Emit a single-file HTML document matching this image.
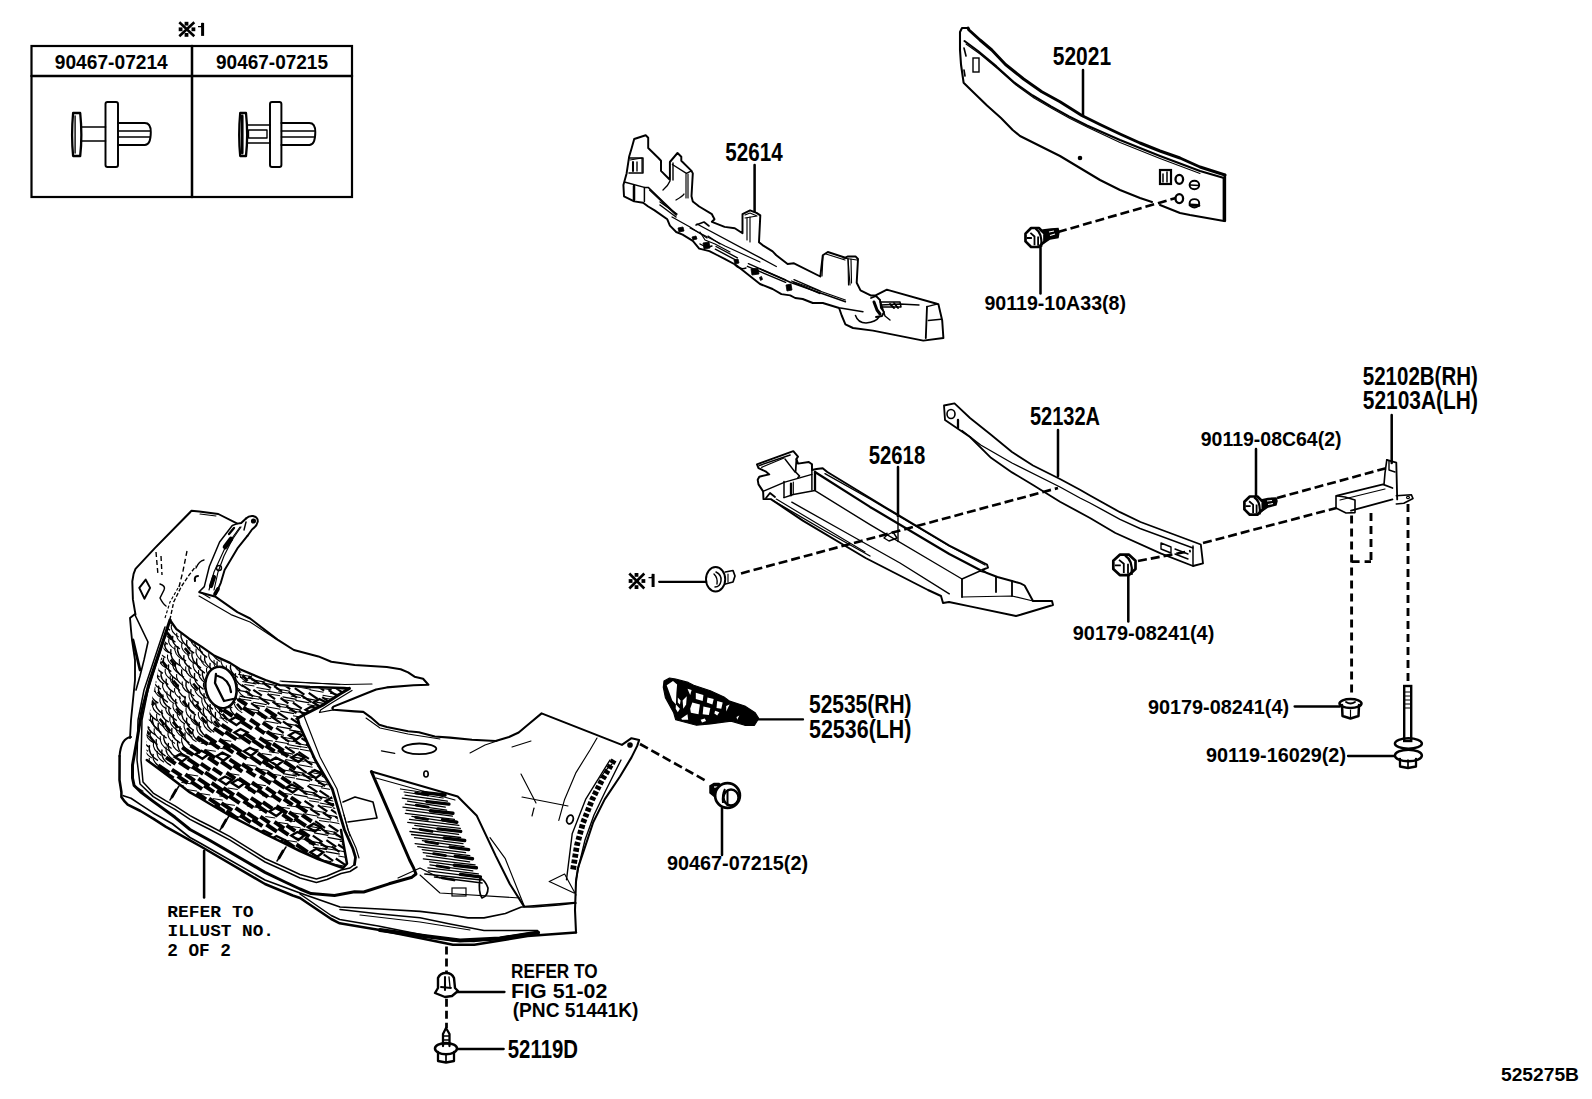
<!DOCTYPE html>
<html><head><meta charset="utf-8"><style>
html,body{margin:0;padding:0;background:#fff;}
svg{display:block;}
</style></head><body>
<svg width="1592" height="1099" viewBox="0 0 1592 1099">
<rect width="1592" height="1099" fill="#fff"/>
<rect x="31.5" y="46" width="320.5" height="151" stroke="#000" stroke-width="2.2" fill="none"/>
<path d="M31.5,76.0 L352.0,76.0" stroke="#000" stroke-width="2.53" fill="none" stroke-linejoin="round" stroke-linecap="round" />
<path d="M192.0,46.0 L192.0,197.0" stroke="#000" stroke-width="2.53" fill="none" stroke-linejoin="round" stroke-linecap="round" />
<g stroke="#000" stroke-width="2.6" stroke-linecap="butt"><line x1="179.3" y1="22.3" x2="194.3" y2="36.3"/><line x1="194.3" y1="22.3" x2="179.3" y2="36.3"/></g>
<rect x="184.6" y="21.8" width="3.8" height="3.8" fill="#000"/>
<rect x="184.6" y="33.0" width="3.8" height="3.8" fill="#000"/>
<rect x="178.7" y="27.4" width="3.8" height="3.8" fill="#000"/>
<rect x="191.5" y="27.4" width="3.8" height="3.8" fill="#000"/>
<path d="M202.6,22.9 L202.6,35.9" stroke="#000" stroke-width="3" fill="none"/>
<path d="M198,26.54 L201.6,26.54 L202.6,22.9" stroke="#000" stroke-width="1.3" fill="none"/>
<text x="54.8" y="69.1" font-family="'Liberation Sans', sans-serif" font-weight="bold" font-size="20.43" textLength="113.00000000000001" lengthAdjust="spacingAndGlyphs">90467-07214</text>
<text x="216" y="69.1" font-family="'Liberation Sans', sans-serif" font-weight="bold" font-size="20.43" textLength="112" lengthAdjust="spacingAndGlyphs">90467-07215</text>
<path d="M73.1,113 Q71.1,135 73.1,156 L80.2,156 Q82.5,135 80.2,113 Z" stroke="#000" stroke-width="2.3" fill="none" stroke-linejoin="round" stroke-linecap="round" />
<path d="M75.1,116.0 L75.1,153.0" stroke="#000" stroke-width="1.38" fill="none" stroke-linejoin="round" stroke-linecap="round" />
<path d="M81.7,127.0 L105.5,127.0" stroke="#000" stroke-width="1.61" fill="none" stroke-linejoin="round" stroke-linecap="round" />
<path d="M81.7,141.0 L105.5,141.0" stroke="#000" stroke-width="1.61" fill="none" stroke-linejoin="round" stroke-linecap="round" />
<path d="M105.5,104 Q105.5,102 107.5,102 L116,102 Q118,102 118,104 L118,165 Q118,167 116,167 L107.5,167 Q105.5,167 105.5,165 Z" stroke="#000" stroke-width="1.95" fill="none" stroke-linejoin="round" stroke-linecap="round" />
<path d="M118,123 L144.8,123 Q150.8,123 150.8,132 Q150.8,145 144.8,145 L118,145" stroke="#000" stroke-width="1.95" fill="none" stroke-linejoin="round" stroke-linecap="round" />
<path d="M118.0,131.0 L149.8,131.0" stroke="#000" stroke-width="1.49" fill="none" stroke-linejoin="round" stroke-linecap="round" />
<path d="M118.0,137.0 L149.8,137.0" stroke="#000" stroke-width="1.49" fill="none" stroke-linejoin="round" stroke-linecap="round" />
<path d="M240.2,113 Q238.2,135 240.2,156 L246.0,156 Q248.3,135 246.0,113 Z" stroke="#000" stroke-width="2.3" fill="none" stroke-linejoin="round" stroke-linecap="round" />
<path d="M242.2,116.0 L242.2,153.0" stroke="#000" stroke-width="2.76" fill="none" stroke-linejoin="round" stroke-linecap="round" />
<path d="M247.5,125.0 L270.0,125.0" stroke="#000" stroke-width="1.61" fill="none" stroke-linejoin="round" stroke-linecap="round" />
<path d="M247.5,143.0 L270.0,143.0" stroke="#000" stroke-width="1.61" fill="none" stroke-linejoin="round" stroke-linecap="round" />
<path d="M248.5,130.0 L267.0,130.0 L267.0,138.0 L248.5,138.0 Z" stroke="#000" stroke-width="1.38" fill="none" stroke-linejoin="round" stroke-linecap="round" />
<path d="M270,104 Q270,102 272,102 L279.4,102 Q281.4,102 281.4,104 L281.4,165 Q281.4,167 279.4,167 L272,167 Q270,167 270,165 Z" stroke="#000" stroke-width="1.95" fill="none" stroke-linejoin="round" stroke-linecap="round" />
<path d="M281.4,123 L309.3,123 Q315.3,123 315.3,132 Q315.3,145 309.3,145 L281.4,145" stroke="#000" stroke-width="1.95" fill="none" stroke-linejoin="round" stroke-linecap="round" />
<path d="M281.4,131.0 L314.3,131.0" stroke="#000" stroke-width="1.49" fill="none" stroke-linejoin="round" stroke-linecap="round" />
<path d="M281.4,137.0 L314.3,137.0" stroke="#000" stroke-width="1.49" fill="none" stroke-linejoin="round" stroke-linecap="round" />
<path d="M968.0,28.0 L969.0,30.0 L980.0,40.0 L991.8,50.0 L1005.5,64.5 L1023.6,79.0 L1041.8,91.8 L1060.0,101.8 L1081.8,115.5 L1100.0,124.5 L1120.0,134.0 L1140.0,143.0 L1160.0,151.0 L1180.0,158.0 L1200.0,167.0 L1225.0,175.0" stroke="#000" stroke-width="2.99" fill="none" stroke-linejoin="round" stroke-linecap="round" />
<path d="M1225.0,175.0 L1225.0,221.0" stroke="#000" stroke-width="2.3" fill="none" stroke-linejoin="round" stroke-linecap="round" />
<path d="M1224.0,221.0 L1190.0,215.0 L1180.0,213.0 L1160.0,205.0" stroke="#000" stroke-width="2.07" fill="none" stroke-linejoin="round" stroke-linecap="round" />
<path d="M1152.0,202.0 L1140.0,198.0 L1120.0,190.0 L1100.0,180.0 L1080.0,168.0 L1060.0,156.0 L1040.0,146.0 L1020.0,136.0 L1012.7,130.0 L1001.0,118.0 L987.0,105.5 L971.0,90.0 L963.6,82.7 L961.0,64.5 L960.0,50.0 L960.0,32.0 L962.0,28.0 L968.0,28.0" stroke="#000" stroke-width="2.07" fill="none" stroke-linejoin="round" stroke-linecap="round" />
<path d="M964.5,41.0 L978.0,51.0 L996.4,66.4 L1014.5,82.7 L1032.7,95.5 L1051.0,106.4 L1069.0,116.4 L1087.0,125.5 L1120.0,140.0 L1160.0,156.0 L1200.0,171.0 L1224.0,178.0" stroke="#000" stroke-width="2.07" fill="none" stroke-linejoin="round" stroke-linecap="round" />
<path d="M966.0,44.0 L980.0,54.0 L998.0,69.0 L1016.0,85.0 L1034.0,98.0 L1052.0,108.5 L1070.0,118.5 L1088.0,127.5 L1120.0,142.5 L1160.0,158.5 L1200.0,173.5" stroke="#000" stroke-width="1.03" fill="none" stroke-linejoin="round" stroke-linecap="round" />
<rect x="1160" y="170" width="11" height="14" stroke="#000" stroke-width="2.2" fill="none"/>
<path d="M1163.0,174.0 L1163.0,182.0" stroke="#000" stroke-width="1.49" fill="none" stroke-linejoin="round" stroke-linecap="round" />
<path d="M1167.0,172.0 L1167.0,182.0" stroke="#000" stroke-width="1.49" fill="none" stroke-linejoin="round" stroke-linecap="round" />
<ellipse cx="1179.3" cy="179.3" rx="3.8" ry="4.5" stroke="#000" stroke-width="2.3" fill="none" transform="rotate(0 1179.3 179.3)"/>
<ellipse cx="1194.4" cy="185" rx="4.8" ry="4.2" stroke="#000" stroke-width="1.95" fill="none" transform="rotate(0 1194.4 185)"/>
<path d="M1190.0,185.0 L1199.0,185.5" stroke="#000" stroke-width="1.49" fill="none" stroke-linejoin="round" stroke-linecap="round" />
<ellipse cx="1179.3" cy="198.6" rx="3.8" ry="4.5" stroke="#000" stroke-width="2.3" fill="none" transform="rotate(0 1179.3 198.6)"/>
<ellipse cx="1194.4" cy="203.3" rx="4.8" ry="4.2" stroke="#000" stroke-width="1.95" fill="none" transform="rotate(0 1194.4 203.3)"/>
<path d="M1190.0,205.0 L1199.0,205.5" stroke="#000" stroke-width="2.76" fill="none" stroke-linejoin="round" stroke-linecap="round" />
<path d="M1224.0,178.0 L1224.0,220.0" stroke="#000" stroke-width="2.76" fill="none" stroke-linejoin="round" stroke-linecap="round" />
<rect x="973" y="58" width="6" height="14" stroke="#000" stroke-width="1.4" fill="none"/>
<ellipse cx="1080" cy="158" rx="1.5" ry="1.5" stroke="#000" stroke-width="1.61" fill="#000" transform="rotate(0 1080 158)"/>
<path d="M964.0,48.0 L966.0,56.0" stroke="#000" stroke-width="1.61" fill="none" stroke-linejoin="round" stroke-linecap="round" />
<path d="M964.0,70.0 L965.0,76.0" stroke="#000" stroke-width="1.61" fill="none" stroke-linejoin="round" stroke-linecap="round" />
<path d="M1083.0,70.0 L1083.0,116.0" stroke="#000" stroke-width="2.53" fill="none" stroke-linejoin="round" stroke-linecap="round" />
<text x="1052.8" y="64.9" font-family="'Liberation Sans', sans-serif" font-weight="bold" font-size="25.71" textLength="58.299999999999955" lengthAdjust="spacingAndGlyphs">52021</text>
<path d="M1043.0,230.0 L1051.0,229.0 L1058.0,228.5 L1059.0,232.0 L1058.0,237.5 L1050.0,239.0 L1044.0,243.0 Z" stroke="#000" stroke-width="1.5" fill="#000"/>
<path d="M1049,232 L1054,231 M1050,235.5 L1055,234" stroke="#fff" stroke-width="1.2"/>
<path d="M1044.5,241.4 L1038.9,247.0 L1031.1,247.0 L1025.5,241.4 L1025.5,233.6 L1031.1,228.0 L1038.9,228.0 L1044.5,233.6 Z" stroke="#000" stroke-width="2.7" fill="#fff" stroke-linejoin="round"/>
<path d="M1035.5,228.7 Q1042.7,233.4 1041.2,246.8" stroke="#000" stroke-width="2.2" fill="none"/>
<path d="M1030.4,232.9 L1034.5,236.5 L1034.5,245.2 M1038.1,236.5 L1038.1,245.7 M1026.8,238.0 L1031.9,238.0" stroke="#000" stroke-width="1.8" fill="none"/>
<path d="M1058.0,232.0 L1176.0,198.0" stroke="#000" stroke-width="2.64" fill="none" stroke-dasharray="9,4" stroke-linecap="butt"/>
<path d="M1040.5,247.0 L1040.5,293.5" stroke="#000" stroke-width="2.53" fill="none" stroke-linejoin="round" stroke-linecap="round" />
<text x="984.4" y="309.6" font-family="'Liberation Sans', sans-serif" font-weight="bold" font-size="20.57" textLength="141.60000000000002" lengthAdjust="spacingAndGlyphs">90119-10A33(8)</text>
<path d="M623.4,184.9 L626.6,173.4 L629.1,156.8 L631.7,148.0 L634.2,139.0 L645.7,135.2 L648.2,137.7 L648.2,148.0 L658.4,158.0 L661.0,160.7 L661.0,170.9 L668.6,178.5 L669.9,179.8 L669.9,162.0 L677.5,153.0 L681.3,156.8 L681.3,160.7 L691.5,170.9 L692.8,173.4 L691.5,196.3 L692.8,201.4 L699.2,206.5 L711.9,214.2 L714.5,219.3 L711.9,221.8 L724.6,226.9 L734.8,228.2 L742.5,233.3 L742.5,214.2 L750.1,210.4 L756.5,212.9 L760.3,215.4 L759.0,242.2 L762.5,245.1 L772.6,251.4 L776.3,255.2 L787.6,264.0 L794.0,263.3 L820.3,276.5 L822.8,255.2 L827.8,252.0 L845.4,257.7 L848.0,256.4 L855.5,256.4 L858.0,259.0 L856.7,282.8 L860.5,290.4 L870.6,295.4 L875.6,295.4 L886.9,289.7 L889.4,290.4 L935.9,303.5 L938.4,304.2 L942.2,320.5 L943.4,338.0 L923.3,340.6 L898.2,335.6 L873.0,330.6 L853.0,328.0 L845.4,324.3 L841.7,315.5 L839.1,308.0 L822.8,303.0 L812.8,303.0 L802.7,299.0 L795.2,298.0 L790.2,295.4 L781.4,294.1 L772.6,289.0 L760.0,284.0 L736.0,265.0 L724.6,258.8 L717.0,255.0 L709.4,251.1 L699.2,248.6 L692.8,240.9 L682.6,234.6 L676.2,232.0 L669.9,225.6 L667.3,219.3 L654.6,210.4 L648.2,206.5 L643.1,202.7 L634.2,201.4 L624.0,196.3 Z" stroke="#000" stroke-width="1.95" fill="none" stroke-linejoin="round" stroke-linecap="round" />
<path d="M625.3,182.3 L644.4,187.4 L648.2,187.4 L676.2,214.2" stroke="#000" stroke-width="1.49" fill="none" stroke-linejoin="round" stroke-linecap="round" />
<path d="M649.5,190.0 L676.2,215.4" stroke="#000" stroke-width="1.15" fill="none" stroke-linejoin="round" stroke-linecap="round" />
<path d="M644.4,187.4 L644.4,201.4" stroke="#000" stroke-width="1.49" fill="none" stroke-linejoin="round" stroke-linecap="round" />
<path d="M634.0,186.0 L634.0,200.0" stroke="#000" stroke-width="2.53" fill="none" stroke-linejoin="round" stroke-linecap="round" />
<path d="M629.0,158.0 L643.0,158.0 L643.0,173.0 L629.0,173.0" stroke="#000" stroke-width="1.49" fill="none" stroke-linejoin="round" stroke-linecap="round" />
<path d="M672.4,164.5 L686.4,173.4 L691.5,170.9" stroke="#000" stroke-width="1.38" fill="none" stroke-linejoin="round" stroke-linecap="round" />
<path d="M673.0,163.0 L673.0,180.0" stroke="#000" stroke-width="1.38" fill="none" stroke-linejoin="round" stroke-linecap="round" />
<path d="M686.0,174.0 L686.0,198.0" stroke="#000" stroke-width="1.15" fill="none" stroke-linejoin="round" stroke-linecap="round" />
<path d="M688.0,174.0 L688.0,198.0" stroke="#000" stroke-width="1.15" fill="none" stroke-linejoin="round" stroke-linecap="round" />
<path d="M663,190 Q668,186 670,181" stroke="#000" stroke-width="1.38" fill="none" stroke-linejoin="round" stroke-linecap="round" />
<path d="M676,200 Q683,196 684,194" stroke="#000" stroke-width="1.38" fill="none" stroke-linejoin="round" stroke-linecap="round" />
<path d="M697.0,224.0 L760.0,257.7 L776.3,266.5" stroke="#000" stroke-width="1.38" fill="none" stroke-linejoin="round" stroke-linecap="round" />
<path d="M690.0,228.0 L725.0,246.0 L760.0,262.0" stroke="#000" stroke-width="1.15" fill="none" stroke-linejoin="round" stroke-linecap="round" />
<path d="M760.0,269.0 L791.4,282.8 L845.4,301.7" stroke="#000" stroke-width="1.49" fill="none" stroke-linejoin="round" stroke-linecap="round" />
<path d="M791.4,281.0 L845.4,300.0" stroke="#000" stroke-width="1.15" fill="none" stroke-linejoin="round" stroke-linecap="round" />
<path d="M840.4,308.0 L863.0,311.7" stroke="#000" stroke-width="1.38" fill="none" stroke-linejoin="round" stroke-linecap="round" />
<path d="M855.5,315.5 Q858,323 866,323 Q876,322 879,317" stroke="#000" stroke-width="1.49" fill="none" stroke-linejoin="round" stroke-linecap="round" />
<path d="M927.0,306.7 L925.8,338.0" stroke="#000" stroke-width="1.84" fill="none" stroke-linejoin="round" stroke-linecap="round" />
<path d="M928.3,320.5 L941.0,319.2" stroke="#000" stroke-width="1.38" fill="none" stroke-linejoin="round" stroke-linecap="round" />
<path d="M927.0,306.7 L937.0,304.2" stroke="#000" stroke-width="1.38" fill="none" stroke-linejoin="round" stroke-linecap="round" />
<path d="M880.0,300.0 L885.0,316.0 L890.0,320.0" stroke="#000" stroke-width="1.38" fill="none" stroke-linejoin="round" stroke-linecap="round" />
<path d="M881.0,305.0 L900.0,304.0 L919.0,305.0" stroke="#000" stroke-width="1.38" fill="none" stroke-linejoin="round" stroke-linecap="round" />
<path d="M745.0,215.0 L750.0,213.0 L757.0,216.0 L745.0,218.0" stroke="#000" stroke-width="1.15" fill="none" stroke-linejoin="round" stroke-linecap="round" />
<path d="M747.0,218.0 L747.0,240.0" stroke="#000" stroke-width="1.15" fill="none" stroke-linejoin="round" stroke-linecap="round" />
<path d="M750.0,217.0 L750.0,242.0" stroke="#000" stroke-width="1.15" fill="none" stroke-linejoin="round" stroke-linecap="round" />
<path d="M823.0,256.0 L822.0,276.0" stroke="#000" stroke-width="1.15" fill="none" stroke-linejoin="round" stroke-linecap="round" />
<path d="M826.0,254.0 L845.0,260.0" stroke="#000" stroke-width="1.15" fill="none" stroke-linejoin="round" stroke-linecap="round" />
<path d="M848.0,259.0 L850.0,285.0" stroke="#000" stroke-width="1.15" fill="none" stroke-linejoin="round" stroke-linecap="round" />
<path d="M700.0,232.0 L705.0,240.0 L715.0,244.0 L730.0,252.0" stroke="#000" stroke-width="1.15" fill="none" stroke-linejoin="round" stroke-linecap="round" />
<path d="M708.0,236.0 L720.0,244.0" stroke="#000" stroke-width="1.15" fill="none" stroke-linejoin="round" stroke-linecap="round" />
<path d="M871.0,298.0 L876.0,296.0 L880.0,300.0 L881.0,308.0 L884.0,312.0 L882.0,316.0 L876.0,317.0" stroke="#000" stroke-width="1.84" fill="none" stroke-linejoin="round" stroke-linecap="round" />
<path d="M874.0,302.0 L877.0,310.0 L880.0,314.0" stroke="#000" stroke-width="2.99" fill="none" stroke-linejoin="round" stroke-linecap="round" />
<path d="M880.0,302.0 L900.0,302.0 L901.0,307.0 L881.0,307.0" stroke="#000" stroke-width="1.49" fill="none" stroke-linejoin="round" stroke-linecap="round" />
<path d="M890.0,304.0 L894.0,308.0" stroke="#000" stroke-width="1.84" fill="none" stroke-linejoin="round" stroke-linecap="round" />
<path d="M894.0,303.0 L898.0,308.0" stroke="#000" stroke-width="1.84" fill="none" stroke-linejoin="round" stroke-linecap="round" />
<path d="M848.0,259.0 L848.5,285.0" stroke="#000" stroke-width="1.15" fill="none" stroke-linejoin="round" stroke-linecap="round" />
<path d="M851.0,259.0 L851.5,283.0" stroke="#000" stroke-width="1.15" fill="none" stroke-linejoin="round" stroke-linecap="round" />
<path d="M843.0,258.0 L857.0,260.0" stroke="#000" stroke-width="1.15" fill="none" stroke-linejoin="round" stroke-linecap="round" />
<path d="M660.0,202.0 L677.0,214.0" stroke="#000" stroke-width="1.38" fill="none" stroke-linejoin="round" stroke-linecap="round" />
<path d="M660.0,205.0 L676.0,217.0" stroke="#000" stroke-width="1.38" fill="none" stroke-linejoin="round" stroke-linecap="round" />
<path d="M672.0,217.0 L690.0,227.0 L707.0,238.0" stroke="#000" stroke-width="1.26" fill="none" stroke-linejoin="round" stroke-linecap="round" />
<path d="M715.3,249.2 L736.4,260.3" stroke="#000" stroke-width="1.38" fill="none" stroke-linejoin="round" stroke-linecap="round" />
<path d="M716.0,246.5 L737.4,257.8" stroke="#000" stroke-width="1.38" fill="none" stroke-linejoin="round" stroke-linecap="round" />
<path d="M747.4,266.3 L785.6,282.4" stroke="#000" stroke-width="1.38" fill="none" stroke-linejoin="round" stroke-linecap="round" />
<path d="M748.4,263.6 L785.6,279.8" stroke="#000" stroke-width="1.38" fill="none" stroke-linejoin="round" stroke-linecap="round" />
<path d="M793.7,282.4 L820.0,293.5" stroke="#000" stroke-width="1.38" fill="none" stroke-linejoin="round" stroke-linecap="round" />
<path d="M794.0,279.6 L820.0,290.8" stroke="#000" stroke-width="1.38" fill="none" stroke-linejoin="round" stroke-linecap="round" />
<path d="M696.0,225.0 L704.0,222.0 L709.0,226.0" stroke="#000" stroke-width="1.61" fill="none" stroke-linejoin="round" stroke-linecap="round" />
<path d="M678,228 L683,227 L684,231 L679,232 Z" fill="#000" stroke="#000" stroke-width="0.8"/>
<path d="M703,243 L709,242 L710,248 L704,249 Z" fill="#000" stroke="#000" stroke-width="0.8"/>
<path d="M734,260 L738,259 L739,263 L735,264 Z" fill="#000" stroke="#000" stroke-width="0.8"/>
<path d="M751,269 L758,268 L759,274 L752,275 Z" fill="#000" stroke="#000" stroke-width="0.8"/>
<path d="M759.5,277.4 L761.5,276.4 L762.5,279.4 L760.5,280.4 Z" fill="#000" stroke="#000" stroke-width="0.8"/>
<path d="M786,285 L791,284 L792,290 L787,291 Z" fill="#000" stroke="#000" stroke-width="0.8"/>
<path d="M692,237 L696,236 L697,239 L693,240 Z" fill="#000" stroke="#000" stroke-width="0.8"/>
<path d="M700,244 Q706,248 712,246" stroke="#000" stroke-width="1.38" fill="none" stroke-linejoin="round" stroke-linecap="round" />
<path d="M735,265 Q740,270 746,268" stroke="#000" stroke-width="1.38" fill="none" stroke-linejoin="round" stroke-linecap="round" />
<path d="M630.0,160.0 L642.0,158.0 L642.0,172.0" stroke="#000" stroke-width="1.15" fill="none" stroke-linejoin="round" stroke-linecap="round" />
<path d="M633.0,162.0 L633.0,171.0" stroke="#000" stroke-width="2.07" fill="none" stroke-linejoin="round" stroke-linecap="round" />
<path d="M637.0,162.0 L637.0,171.0" stroke="#000" stroke-width="1.38" fill="none" stroke-linejoin="round" stroke-linecap="round" />
<path d="M754.6,165.1 L754.6,211.6" stroke="#000" stroke-width="2.53" fill="none" stroke-linejoin="round" stroke-linecap="round" />
<text x="725.3" y="160.7" font-family="'Liberation Sans', sans-serif" font-weight="bold" font-size="25.71" textLength="57.30000000000007" lengthAdjust="spacingAndGlyphs">52614</text>
<path d="M757.0,464.3 L793.3,451.2 L798.0,456.6 L796.4,459.0 L798.0,463.6 L808.8,462.0 L811.9,464.3 L812.0,470.0 L816.5,469.0 L822.7,468.2 L827.3,472.0 L886.5,508.0 L949.3,545.7 L987.0,564.5 L988.0,567.7 L982.0,570.0 L987.0,573.0 L997.4,577.0 L1012.0,581.0 L1020.5,583.4 L1024.6,585.5 L1033.0,601.0 L1052.0,601.0 L1053.0,605.0 L1020.5,614.8 L1016.0,616.0 L970.0,606.4 L949.0,602.0 L943.0,603.0 L941.0,596.0 L928.0,590.0 L865.6,558.0 L802.8,520.6 L777.7,503.8 L770.9,499.1 L763.5,499.1 L763.1,491.4 L758.5,484.4 L757.7,479.8 L759.3,476.7 L769.3,474.4 L765.5,471.3 L758.5,468.2 Z" stroke="#000" stroke-width="1.95" fill="none" stroke-linejoin="round" stroke-linecap="round" />
<path d="M759.3,465.5 L790.2,455.0" stroke="#000" stroke-width="1.38" fill="none" stroke-linejoin="round" stroke-linecap="round" />
<path d="M761.6,467.4 L784.0,458.0" stroke="#000" stroke-width="1.15" fill="none" stroke-linejoin="round" stroke-linecap="round" />
<path d="M796.4,459.0 L795.6,472.0 L799.5,476.0 L798.0,477.5" stroke="#000" stroke-width="1.72" fill="none" stroke-linejoin="round" stroke-linecap="round" />
<path d="M785.0,459.0 L795.0,472.0" stroke="#000" stroke-width="1.38" fill="none" stroke-linejoin="round" stroke-linecap="round" />
<path d="M763.0,491.4 L784.8,482.1 L811.9,474.4" stroke="#000" stroke-width="1.49" fill="none" stroke-linejoin="round" stroke-linecap="round" />
<path d="M784.0,481.4 L784.0,497.6" stroke="#000" stroke-width="1.49" fill="none" stroke-linejoin="round" stroke-linecap="round" />
<path d="M791.0,483.7 L791.0,495.3" stroke="#000" stroke-width="2.3" fill="none" stroke-linejoin="round" stroke-linecap="round" />
<path d="M793.3,482.1 L793.3,493.7" stroke="#000" stroke-width="1.15" fill="none" stroke-linejoin="round" stroke-linecap="round" />
<path d="M811.9,464.3 L811.9,489.9" stroke="#000" stroke-width="1.49" fill="none" stroke-linejoin="round" stroke-linecap="round" />
<path d="M815.0,472.0 L815.0,489.9" stroke="#000" stroke-width="2.3" fill="none" stroke-linejoin="round" stroke-linecap="round" />
<path d="M784.0,497.6 L793.3,494.5 L815.0,490.6" stroke="#000" stroke-width="1.49" fill="none" stroke-linejoin="round" stroke-linecap="round" />
<path d="M766.0,498.0 L770.0,493.0 L775.0,497.0" stroke="#000" stroke-width="1.84" fill="none" stroke-linejoin="round" stroke-linecap="round" />
<path d="M815.0,472.0 L870.0,506.9 L949.3,554.0 L980.0,570.0" stroke="#000" stroke-width="2.3" fill="none" stroke-linejoin="round" stroke-linecap="round" />
<path d="M825.0,473.6 L870.0,499.0 L949.3,546.0 L985.0,565.0" stroke="#000" stroke-width="1.38" fill="none" stroke-linejoin="round" stroke-linecap="round" />
<path d="M815.0,490.6 L870.0,524.7 L940.0,566.0 L962.0,579.0" stroke="#000" stroke-width="1.38" fill="none" stroke-linejoin="round" stroke-linecap="round" />
<path d="M791.8,502.2 L841.3,530.0 L900.0,563.0 L949.3,593.8" stroke="#000" stroke-width="1.38" fill="none" stroke-linejoin="round" stroke-linecap="round" />
<path d="M773.2,500.7 L823.5,530.0 L870.0,556.0" stroke="#000" stroke-width="1.38" fill="none" stroke-linejoin="round" stroke-linecap="round" />
<path d="M776.3,499.1 L818.0,524.0 L865.0,552.0" stroke="#000" stroke-width="1.15" fill="none" stroke-linejoin="round" stroke-linecap="round" />
<path d="M962.0,579.0 L980.0,571.0 L987.0,573.0" stroke="#000" stroke-width="1.38" fill="none" stroke-linejoin="round" stroke-linecap="round" />
<path d="M962.0,579.0 L962.0,597.0" stroke="#000" stroke-width="1.84" fill="none" stroke-linejoin="round" stroke-linecap="round" />
<path d="M996.0,577.0 L996.0,592.0" stroke="#000" stroke-width="1.84" fill="none" stroke-linejoin="round" stroke-linecap="round" />
<path d="M1012.0,581.0 L1012.0,596.0" stroke="#000" stroke-width="1.84" fill="none" stroke-linejoin="round" stroke-linecap="round" />
<path d="M962.0,597.0 L1012.0,596.0 L1033.0,601.0" stroke="#000" stroke-width="1.15" fill="none" stroke-linejoin="round" stroke-linecap="round" />
<path d="M898.0,518.5 L898.0,541.5" stroke="#000" stroke-width="1.38" fill="none" stroke-linejoin="round" stroke-linecap="round" />
<path d="M887.0,535.0 L893.0,532.0 L897.0,538.0 L889.0,541.0 L884.0,538.0 Z" stroke="#000" stroke-width="1.38" fill="none" stroke-linejoin="round" stroke-linecap="round" />
<path d="M898.0,467.0 L898.0,516.4" stroke="#000" stroke-width="2.53" fill="none" stroke-linejoin="round" stroke-linecap="round" />
<text x="868.7" y="464" font-family="'Liberation Sans', sans-serif" font-weight="bold" font-size="25.71" textLength="56.5" lengthAdjust="spacingAndGlyphs">52618</text>
<path d="M954.5,403.4 L970.0,418.0 L991.0,434.8 L1012.0,452.0 L1033.0,465.5 L1060.0,479.0 L1080.0,489.8 L1090.0,495.5 L1120.0,512.2 L1140.5,522.0 L1200.8,544.5 L1203.0,563.4 L1193.0,566.0 L1160.6,553.3 L1115.4,533.0 L1090.0,518.0 L1060.0,501.7 L1033.0,485.0 L1012.0,472.4 L991.0,457.8 L970.0,437.0 L945.0,420.0 L944.0,405.5 L954.5,403.4" stroke="#000" stroke-width="1.84" fill="none" stroke-linejoin="round" stroke-linecap="round" />
<path d="M962.0,430.6 L980.7,445.0 L1012.0,463.0 L1060.0,487.0 L1080.0,498.0 L1090.0,503.0 L1120.0,519.3 L1140.0,528.5 L1193.0,548.0" stroke="#000" stroke-width="1.38" fill="none" stroke-linejoin="round" stroke-linecap="round" />
<path d="M1193.0,546.0 L1193.0,566.0" stroke="#000" stroke-width="1.49" fill="none" stroke-linejoin="round" stroke-linecap="round" />
<ellipse cx="951" cy="414" rx="4" ry="4.5" stroke="#000" stroke-width="1.61" fill="none" transform="rotate(0 951 414)"/>
<path d="M958.0,420.0 L958.0,428.0" stroke="#000" stroke-width="2.3" fill="none" stroke-linejoin="round" stroke-linecap="round" />
<path d="M1161.0,543.0 L1171.0,547.0 L1171.0,553.0 L1161.0,549.0 Z" stroke="#000" stroke-width="1.38" fill="none" stroke-linejoin="round" stroke-linecap="round" />
<path d="M1175.0,549.0 L1188.0,554.0" stroke="#000" stroke-width="1.38" fill="none" stroke-linejoin="round" stroke-linecap="round" />
<path d="M1175.0,554.0 L1188.0,559.0" stroke="#000" stroke-width="1.38" fill="none" stroke-linejoin="round" stroke-linecap="round" />
<path d="M1058.0,430.0 L1058.0,476.0" stroke="#000" stroke-width="2.53" fill="none" stroke-linejoin="round" stroke-linecap="round" />
<text x="1029.9" y="424.9" font-family="'Liberation Sans', sans-serif" font-weight="bold" font-size="25.71" textLength="70.09999999999991" lengthAdjust="spacingAndGlyphs">52132A</text>
<path d="M741.0,573.4 L1058.0,488.0" stroke="#000" stroke-width="2.64" fill="none" stroke-dasharray="9,4" stroke-linecap="butt"/>
<path d="M1135.5,569.1 L1129.0,575.1 L1119.8,575.1 L1113.3,569.1 L1113.3,560.7 L1119.8,554.7 L1129.0,554.7 L1135.5,560.7 Z" stroke="#000" stroke-width="2.7" fill="#fff" stroke-linejoin="round"/>
<path d="M1125.0,555.5 Q1133.4,560.5 1131.6,574.8" stroke="#000" stroke-width="2.2" fill="none"/>
<path d="M1119.0,559.9 L1123.8,563.8 L1123.8,573.1 M1128.0,563.8 L1128.0,573.7 M1114.8,565.4 L1120.8,565.4" stroke="#000" stroke-width="1.8" fill="none"/>
<path d="M1138.0,561.0 L1190.8,551.0" stroke="#000" stroke-width="2.64" fill="none" stroke-dasharray="9,4" stroke-linecap="butt"/>
<path d="M1128.3,575.0 L1128.3,621.4" stroke="#000" stroke-width="2.53" fill="none" stroke-linejoin="round" stroke-linecap="round" />
<text x="1072.8" y="639.5" font-family="'Liberation Sans', sans-serif" font-weight="bold" font-size="20.57" textLength="141.5" lengthAdjust="spacingAndGlyphs">90179-08241(4)</text>
<path d="M1386.8,459.9 L1396.3,462.7 L1397.2,499.4" stroke="#000" stroke-width="1.84" fill="none" stroke-linejoin="round" stroke-linecap="round" />
<path d="M1386.8,459.9 L1385.0,473.0 L1384.0,484.4" stroke="#000" stroke-width="1.61" fill="none" stroke-linejoin="round" stroke-linecap="round" />
<path d="M1389.0,461.0 L1389.0,470.0 L1395.0,472.0" stroke="#000" stroke-width="1.38" fill="none" stroke-linejoin="round" stroke-linecap="round" />
<path d="M1337.0,495.7 L1383.0,484.4 L1392.5,488.0" stroke="#000" stroke-width="1.72" fill="none" stroke-linejoin="round" stroke-linecap="round" />
<path d="M1351.0,510.7 L1392.5,499.4" stroke="#000" stroke-width="1.72" fill="none" stroke-linejoin="round" stroke-linecap="round" />
<path d="M1340.0,500.0 L1385.0,489.0" stroke="#000" stroke-width="1.15" fill="none" stroke-linejoin="round" stroke-linecap="round" />
<path d="M1396.3,495.7 L1411.3,494.7 L1413.0,498.5 L1403.8,503.2 L1396.3,504.0" stroke="#000" stroke-width="1.61" fill="none" stroke-linejoin="round" stroke-linecap="round" />
<ellipse cx="1408" cy="497.5" rx="1.5" ry="1.2" stroke="#000" stroke-width="1.15" fill="none" transform="rotate(0 1408 497.5)"/>
<path d="M1336.0,495.7 L1336.0,508.0 L1346.0,513.0 L1355.0,512.6 L1355.0,500.0 L1345.0,497.0 L1336.0,495.7" stroke="#000" stroke-width="1.61" fill="none" stroke-linejoin="round" stroke-linecap="round" />
<path d="M1391.7,415.0 L1391.7,462.9" stroke="#000" stroke-width="2.53" fill="none" stroke-linejoin="round" stroke-linecap="round" />
<text x="1362.8" y="384.9" font-family="'Liberation Sans', sans-serif" font-weight="bold" font-size="25.71" textLength="115.10000000000014" lengthAdjust="spacingAndGlyphs">52102B(RH)</text>
<text x="1362.8" y="409" font-family="'Liberation Sans', sans-serif" font-weight="bold" font-size="25.71" textLength="115.10000000000014" lengthAdjust="spacingAndGlyphs">52103A(LH)</text>
<path d="M1261.0,500.0 L1268.0,498.5 L1276.0,498.0 L1277.0,501.0 L1276.0,505.0 L1268.0,507.0 L1262.0,511.0 Z" stroke="#000" stroke-width="1.5" fill="#000"/>
<path d="M1267,501 L1272,500.5 M1268,504.5 L1273,503.5" stroke="#fff" stroke-width="1.1"/>
<path d="M1262.8,509.4 L1257.4,514.7 L1249.8,514.7 L1244.4,509.4 L1244.4,501.8 L1249.8,496.5 L1257.4,496.5 L1262.8,501.8 Z" stroke="#000" stroke-width="2.7" fill="#fff" stroke-linejoin="round"/>
<path d="M1254.1,497.3 Q1261.1,501.7 1259.6,514.4" stroke="#000" stroke-width="2.2" fill="none"/>
<path d="M1249.1,501.2 L1253.1,504.6 L1253.1,513.0 M1256.6,504.6 L1256.6,513.4 M1245.6,506.1 L1250.6,506.1" stroke="#000" stroke-width="1.8" fill="none"/>
<path d="M1277.0,498.0 L1386.7,468.0" stroke="#000" stroke-width="2.64" fill="none" stroke-dasharray="9,4" stroke-linecap="butt"/>
<path d="M1203.0,543.0 L1336.5,508.0" stroke="#000" stroke-width="2.64" fill="none" stroke-dasharray="9,4" stroke-linecap="butt"/>
<path d="M1256.0,449.0 L1256.0,495.5" stroke="#000" stroke-width="2.53" fill="none" stroke-linejoin="round" stroke-linecap="round" />
<text x="1200.8" y="446.2" font-family="'Liberation Sans', sans-serif" font-weight="bold" font-size="20.57" textLength="140.70000000000005" lengthAdjust="spacingAndGlyphs">90119-08C64(2)</text>
<path d="M1351.6,515.6 L1351.6,694.6" stroke="#000" stroke-width="2.88" fill="none" stroke-dasharray="8,5" stroke-linecap="butt"/>
<path d="M1371.0,513.0 L1371.0,561.6" stroke="#000" stroke-width="2.88" fill="none" stroke-dasharray="8,5" stroke-linecap="butt"/>
<path d="M1351.6,561.6 L1371.0,561.6" stroke="#000" stroke-width="2.88" fill="none" stroke-dasharray="8,5" stroke-linecap="butt"/>
<path d="M1408.0,504.0 L1408.0,682.0" stroke="#000" stroke-width="2.88" fill="none" stroke-dasharray="8,5" stroke-linecap="butt"/>
<ellipse cx="1350.5" cy="703.5" rx="11" ry="4.5" stroke="#000" stroke-width="2.53" fill="none" transform="rotate(0 1350.5 703.5)"/>
<path d="M1342.0,705.0 L1342.5,716.0 L1350.5,718.5 L1358.5,716.0 L1359.0,705.0" stroke="#000" stroke-width="2.53" fill="none" stroke-linejoin="round" stroke-linecap="round" />
<path d="M1346,702 Q1350.5,705 1355,702" stroke="#000" stroke-width="1.84" fill="none" stroke-linejoin="round" stroke-linecap="round" />
<path d="M1350.5,710.0 L1350.5,717.0" stroke="#000" stroke-width="1.15" fill="none" stroke-linejoin="round" stroke-linecap="round" />
<path d="M1294.6,706.5 L1340.0,706.5" stroke="#000" stroke-width="2.3" fill="none" stroke-linejoin="round" stroke-linecap="round" />
<text x="1148" y="714" font-family="'Liberation Sans', sans-serif" font-weight="bold" font-size="20.57" textLength="141" lengthAdjust="spacingAndGlyphs">90179-08241(4)</text>
<rect x="1404.2" y="686" width="7" height="55" stroke="#000" stroke-width="2.4" fill="none"/>
<path d="M1405.0,692.0 L1410.0,692.0" stroke="#000" stroke-width="1.15" fill="none" stroke-linejoin="round" stroke-linecap="round" />
<path d="M1405.0,696.0 L1410.0,696.0" stroke="#000" stroke-width="1.15" fill="none" stroke-linejoin="round" stroke-linecap="round" />
<path d="M1405.0,700.0 L1410.0,700.0" stroke="#000" stroke-width="1.15" fill="none" stroke-linejoin="round" stroke-linecap="round" />
<path d="M1405.0,704.0 L1410.0,704.0" stroke="#000" stroke-width="1.15" fill="none" stroke-linejoin="round" stroke-linecap="round" />
<path d="M1405.0,708.0 L1410.0,708.0" stroke="#000" stroke-width="1.15" fill="none" stroke-linejoin="round" stroke-linecap="round" />
<ellipse cx="1408.4" cy="743.5" rx="13.5" ry="5.3" stroke="#000" stroke-width="2.42" fill="none" transform="rotate(0 1408.4 743.5)"/>
<ellipse cx="1408.4" cy="755.5" rx="13.5" ry="5.8" stroke="#000" stroke-width="2.42" fill="none" transform="rotate(0 1408.4 755.5)"/>
<path d="M1400.0,759.0 L1400.0,766.5 L1408.0,768.0 L1416.0,766.5 L1416.0,759.0" stroke="#000" stroke-width="2.3" fill="none" stroke-linejoin="round" stroke-linecap="round" />
<path d="M1408.0,760.0 L1408.0,767.0" stroke="#000" stroke-width="1.72" fill="none" stroke-linejoin="round" stroke-linecap="round" />
<path d="M1348.0,756.0 L1394.7,756.0" stroke="#000" stroke-width="2.3" fill="none" stroke-linejoin="round" stroke-linecap="round" />
<text x="1206" y="761.7" font-family="'Liberation Sans', sans-serif" font-weight="bold" font-size="20.57" textLength="140" lengthAdjust="spacingAndGlyphs">90119-16029(2)</text>
<g stroke="#000" stroke-width="2.6" stroke-linecap="butt"><line x1="629.3" y1="573.5" x2="644.3" y2="588.5"/><line x1="644.3" y1="573.5" x2="629.3" y2="588.5"/></g>
<rect x="634.6" y="573.0" width="3.8" height="3.8" fill="#000"/>
<rect x="634.6" y="585.2" width="3.8" height="3.8" fill="#000"/>
<rect x="628.7" y="579.1" width="3.8" height="3.8" fill="#000"/>
<rect x="641.5" y="579.1" width="3.8" height="3.8" fill="#000"/>
<path d="M653.1,573.9 L653.1,587" stroke="#000" stroke-width="3" fill="none"/>
<path d="M648.5,577.568 L652.1,577.568 L653.1,573.9" stroke="#000" stroke-width="1.3" fill="none"/>
<path d="M659.2,581.8 L706.0,581.8" stroke="#000" stroke-width="2.3" fill="none" stroke-linejoin="round" stroke-linecap="round" />
<ellipse cx="715.6" cy="579.2" rx="9.6" ry="12.2" stroke="#000" stroke-width="1.95" fill="none" transform="rotate(0 715.6 579.2)"/>
<path d="M716,572 Q722,575 721,581 Q720,587 715,587" stroke="#000" stroke-width="1.49" fill="none" stroke-linejoin="round" stroke-linecap="round" />
<path d="M714,574 Q718,578 717,584" stroke="#000" stroke-width="1.38" fill="none" stroke-linejoin="round" stroke-linecap="round" />
<path d="M725.3,572.0 L733.0,570.5 L735.0,576.0 L733.0,582.0 L725.3,584.0" stroke="#000" stroke-width="1.72" fill="none" stroke-linejoin="round" stroke-linecap="round" />
<path d="M728.0,574.0 L728.0,582.0" stroke="#000" stroke-width="1.15" fill="none" stroke-linejoin="round" stroke-linecap="round" />
<path d="M664.0,681.0 L669.5,678.0 L675.7,679.0 L688.2,682.4 L693.7,685.2 L702.0,688.0 L710.3,690.7 L724.0,697.0 L729.6,701.1 L744.8,706.0 L755.2,712.8 L758.7,718.4 L754.5,725.3 L744.8,725.3 L731.0,721.1 L710.3,723.9 L696.5,725.3 L686.1,722.5 L675.7,719.8 L673.7,712.8 L665.4,697.6 L663.3,687.3 Z" stroke="#000" stroke-width="1.15" fill="#000" stroke-linejoin="round" stroke-linecap="round" />
<path d="M666.7,685.2 L673.0,681.1 L677.1,684.5 L676.4,692.8 L675.7,708.7 L677.8,712.2 L679.9,708.7 L672.3,700.4 Z" fill="#fff"/>
<path d="M695.8,692.8 L703.4,694.9 L702.7,701.1 L695.8,699.0 Z" fill="#fff"/>
<path d="M692.3,702.5 L699.9,704.6 L698.5,714.2 L690.9,712.8 L690.2,708.7 Z" fill="#fff"/>
<path d="M703.4,706.6 L710.3,708.0 L708.9,714.9 L702.7,714.2 Z" fill="#fff"/>
<path d="M707.5,697.6 L713.7,699.0 L712.4,704.6 L706.8,702.5 Z" fill="#fff"/>
<path d="M715.1,710.8 L719.3,712.2 L717.2,715.6 L714.4,713.5 Z" fill="#fff"/>
<path d="M717.2,701.1 L722.7,702.5 L721.3,708.7 L716.5,708.0 Z" fill="#fff"/>
<path d="M687.5,688.7 L691.6,690.0 L690.2,694.9 Z" fill="#fff"/>
<path d="M677.8,697.6 L680.6,700.4 L679.9,704.6 L677.8,702.5 Z" fill="#fff"/>
<path d="M682.6,700.4 L686.8,696.3 L686.1,704.6 L683.3,708.7 Z" fill="#fff"/>
<path d="M681.3,718.4 L687.5,714.2 L688.2,719.8 L682.0,719.8 Z" fill="#fff"/>
<path d="M700.6,719.8 L704.8,718.4 L706.1,721.1 L702.0,722.5 Z" fill="#fff"/>
<path d="M726.2,705.9 L729.6,704.6 L726.2,711.5 Z" fill="#fff"/>
<path d="M736.5,717.0 L739.3,715.6 L737.2,719.8 Z" fill="#fff"/>
<path d="M758.0,719.4 L803.0,719.4" stroke="#000" stroke-width="2.3" fill="none" stroke-linejoin="round" stroke-linecap="round" />
<text x="809" y="713.4" font-family="'Liberation Sans', sans-serif" font-weight="bold" font-size="25.71" textLength="102.5" lengthAdjust="spacingAndGlyphs">52535(RH)</text>
<text x="809" y="737.5" font-family="'Liberation Sans', sans-serif" font-weight="bold" font-size="25.71" textLength="102.5" lengthAdjust="spacingAndGlyphs">52536(LH)</text>
<path d="M710.0,786.0 L714.0,783.5 L719.0,783.5 L722.0,786.0 L721.0,795.0 L715.0,797.0 L710.0,793.0 Z" stroke="#000" stroke-width="1.5" fill="#000"/>
<path d="M714,787 L718,787" stroke="#fff" stroke-width="1.2"/>
<ellipse cx="727.5" cy="795.5" rx="12.4" ry="12.3" stroke="#000" stroke-width="2.7" fill="#fff"/>
<ellipse cx="731" cy="797.5" rx="7.5" ry="8" stroke="#000" stroke-width="2.4" fill="none"/>
<path d="M725,789 Q722,795 723,803 M727.5,790 L727.5,806" stroke="#000" stroke-width="2.0" fill="none"/>
<path d="M640.0,744.0 L708.0,782.0" stroke="#000" stroke-width="2.64" fill="none" stroke-dasharray="9,4" stroke-linecap="butt"/>
<path d="M722.0,808.0 L722.0,855.0" stroke="#000" stroke-width="2.53" fill="none" stroke-linejoin="round" stroke-linecap="round" />
<text x="667" y="869.5" font-family="'Liberation Sans', sans-serif" font-weight="bold" font-size="20.57" textLength="141" lengthAdjust="spacingAndGlyphs">90467-07215(2)</text>
<path d="M446.5,946.5 L446.5,972.7" stroke="#000" stroke-width="2.76" fill="none" stroke-dasharray="8,4" stroke-linecap="butt"/>
<path d="M446.5,998.8 L446.5,1028.0" stroke="#000" stroke-width="2.76" fill="none" stroke-dasharray="8,4" stroke-linecap="butt"/>
<path d="M438,988 L438,978 Q440,973 446,973 Q452,973 454,978 L455,988 L458,991 L452,996 L445,997 L435,993 Z" stroke="#000" stroke-width="2.42" fill="none" stroke-linejoin="round" stroke-linecap="round" />
<path d="M445.0,977.0 L445.0,990.0" stroke="#000" stroke-width="2.07" fill="none" stroke-linejoin="round" stroke-linecap="round" />
<path d="M441.0,987.0 L451.0,988.0" stroke="#000" stroke-width="1.84" fill="none" stroke-linejoin="round" stroke-linecap="round" />
<path d="M449.0,977.0 L450.0,987.0" stroke="#000" stroke-width="1.38" fill="none" stroke-linejoin="round" stroke-linecap="round" />
<path d="M457.2,992.0 L504.5,992.0" stroke="#000" stroke-width="2.3" fill="none" stroke-linejoin="round" stroke-linecap="round" />
<text x="511" y="978" font-family="'Liberation Sans', sans-serif" font-weight="bold" font-size="19.29" textLength="86.60000000000002" lengthAdjust="spacingAndGlyphs">REFER TO</text>
<text x="511" y="998" font-family="'Liberation Sans', sans-serif" font-weight="bold" font-size="19.29" textLength="96.39999999999998" lengthAdjust="spacingAndGlyphs">FIG 51-02</text>
<text x="512.7" y="1016.5" font-family="'Liberation Sans', sans-serif" font-weight="bold" font-size="19.29" textLength="125.69999999999993" lengthAdjust="spacingAndGlyphs">(PNC 51441K)</text>
<path d="M443,1046 L443,1034 L446,1028 L449.5,1034 L449.5,1046" stroke="#000" stroke-width="2.3" fill="none" stroke-linejoin="round" stroke-linecap="round" />
<path d="M443.0,1036.0 L449.0,1036.0" stroke="#000" stroke-width="1.38" fill="none" stroke-linejoin="round" stroke-linecap="round" />
<path d="M443.0,1040.0 L449.0,1040.0" stroke="#000" stroke-width="1.38" fill="none" stroke-linejoin="round" stroke-linecap="round" />
<path d="M443.0,1044.0 L449.0,1044.0" stroke="#000" stroke-width="1.38" fill="none" stroke-linejoin="round" stroke-linecap="round" />
<ellipse cx="446" cy="1048.6" rx="11" ry="5.6" stroke="#000" stroke-width="2.53" fill="none" transform="rotate(0 446 1048.6)"/>
<path d="M438.0,1052.0 L438.0,1061.0 L446.0,1062.5 L454.0,1061.0 L454.0,1052.0" stroke="#000" stroke-width="2.3" fill="none" stroke-linejoin="round" stroke-linecap="round" />
<path d="M446.0,1054.0 L446.0,1062.0" stroke="#000" stroke-width="1.72" fill="none" stroke-linejoin="round" stroke-linecap="round" />
<path d="M458.0,1049.0 L503.7,1049.0" stroke="#000" stroke-width="2.3" fill="none" stroke-linejoin="round" stroke-linecap="round" />
<text x="507.8" y="1058.4" font-family="'Liberation Sans', sans-serif" font-weight="bold" font-size="25.71" textLength="70.19999999999999" lengthAdjust="spacingAndGlyphs">52119D</text>
<text x="1501" y="1081" font-family="'Liberation Sans', sans-serif" font-weight="bold" font-size="18.57" textLength="78" lengthAdjust="spacingAndGlyphs">525275B</text>
<text x="167.2" y="916.5" font-family="'Liberation Mono', monospace" font-weight="bold" font-size="17.40" textLength="86.30000000000001" lengthAdjust="spacingAndGlyphs">REFER TO</text>
<text x="167.6" y="935.9" font-family="'Liberation Mono', monospace" font-weight="bold" font-size="17.40" textLength="106.4" lengthAdjust="spacingAndGlyphs">ILLUST NO.</text>
<text x="167.2" y="955.7" font-family="'Liberation Mono', monospace" font-weight="bold" font-size="18.63" textLength="63.80000000000001" lengthAdjust="spacingAndGlyphs">2 OF 2</text>
<path d="M204.1,851.0 L204.1,897.6" stroke="#000" stroke-width="2.53" fill="none" stroke-linejoin="round" stroke-linecap="round" />
<clipPath id="gc"><polygon points="170,621 176.4,630 189.1,639.7 201.8,647.9 214.6,656.9 230,663.9 240,670.2 265.5,681 280,686.2 310,688 347,689.5 322.7,704.5 303.5,714 297.6,718.3 299.2,724.7 315,760 330,789 341,830 347,863.6 343,868 336,865.5 318,859 300,851 285,843.6 265,833.8 230,815.6 210,804 200,798 190,792.4 175,781 159.6,769.6 146.8,760 146,740 150,710 156,680 163,650"/></clipPath>
<g clip-path="url(#gc)" stroke="#000" stroke-linecap="butt"><line x1="349.6" y1="611.4" x2="363.6" y2="613.9" stroke-width="1.1"/><line x1="355.6" y1="606.4" x2="363.2" y2="611.5" stroke-width="2.2"/><line x1="330.3" y1="613.7" x2="344.3" y2="616.2" stroke-width="1.1"/><line x1="336.3" y1="608.7" x2="344.0" y2="613.9" stroke-width="2.2"/><line x1="332.3" y1="616.7" x2="342.3" y2="618.2" stroke-width="1.0"/><line x1="343.5" y1="619.1" x2="357.5" y2="621.6" stroke-width="1.1"/><line x1="349.5" y1="614.1" x2="357.7" y2="619.6" stroke-width="2.2"/><line x1="345.5" y1="622.1" x2="355.5" y2="623.6" stroke-width="1.0"/><line x1="355.5" y1="621.8" x2="369.5" y2="624.3" stroke-width="1.1"/><line x1="361.5" y1="616.8" x2="371.7" y2="623.7" stroke-width="2.2"/><line x1="357.5" y1="624.8" x2="367.5" y2="626.3" stroke-width="1.0"/><line x1="308.7" y1="611.0" x2="322.7" y2="613.5" stroke-width="1.1"/><line x1="314.7" y1="606.0" x2="323.3" y2="611.8" stroke-width="2.2"/><line x1="322.5" y1="616.0" x2="336.5" y2="618.5" stroke-width="1.1"/><line x1="328.5" y1="611.0" x2="336.9" y2="616.7" stroke-width="2.2"/><line x1="324.5" y1="619.0" x2="334.5" y2="620.5" stroke-width="1.0"/><line x1="335.6" y1="621.3" x2="349.6" y2="623.8" stroke-width="1.1"/><line x1="341.6" y1="616.3" x2="352.0" y2="623.4" stroke-width="2.2"/><line x1="348.6" y1="625.8" x2="362.6" y2="628.3" stroke-width="1.1"/><line x1="354.6" y1="620.8" x2="363.8" y2="627.0" stroke-width="2.2"/><line x1="350.6" y1="628.8" x2="360.6" y2="630.3" stroke-width="1.0"/><line x1="287.5" y1="614.0" x2="301.5" y2="616.5" stroke-width="1.1"/><line x1="293.5" y1="609.0" x2="302.5" y2="615.1" stroke-width="2.2"/><line x1="300.6" y1="619.0" x2="314.6" y2="621.5" stroke-width="1.1"/><path d="M306.6,617.0 l6,-3.5 l7,3.5 l-6,4.5 z" fill="none" stroke-width="2.4"/><line x1="314.1" y1="624.2" x2="328.1" y2="626.7" stroke-width="1.1"/><line x1="320.1" y1="619.2" x2="330.8" y2="626.4" stroke-width="2.2"/><line x1="316.1" y1="627.2" x2="326.1" y2="628.7" stroke-width="1.0"/><line x1="327.9" y1="628.8" x2="341.9" y2="631.3" stroke-width="1.1"/><line x1="333.9" y1="623.8" x2="341.8" y2="629.1" stroke-width="2.2"/><line x1="329.9" y1="631.8" x2="339.9" y2="633.3" stroke-width="1.0"/><line x1="340.9" y1="633.8" x2="354.9" y2="636.3" stroke-width="1.1"/><line x1="346.9" y1="628.8" x2="355.3" y2="634.5" stroke-width="2.2"/><line x1="354.0" y1="637.8" x2="368.0" y2="640.3" stroke-width="1.1"/><line x1="360.0" y1="632.8" x2="368.6" y2="638.5" stroke-width="2.2"/><line x1="267.9" y1="612.1" x2="281.9" y2="614.6" stroke-width="1.1"/><line x1="273.9" y1="607.1" x2="284.4" y2="614.2" stroke-width="2.2"/><line x1="269.9" y1="615.1" x2="279.9" y2="616.6" stroke-width="1.0"/><line x1="280.1" y1="617.3" x2="294.1" y2="619.8" stroke-width="1.1"/><line x1="286.1" y1="612.3" x2="296.0" y2="619.0" stroke-width="2.2"/><line x1="293.0" y1="622.0" x2="307.0" y2="624.5" stroke-width="1.1"/><path d="M299.0,620.0 l6,-3.5 l7,3.5 l-6,4.5 z" fill="none" stroke-width="2.4"/><line x1="295.0" y1="625.0" x2="305.0" y2="626.5" stroke-width="1.0"/><line x1="307.0" y1="626.3" x2="321.0" y2="628.8" stroke-width="1.1"/><line x1="313.0" y1="621.3" x2="322.0" y2="627.5" stroke-width="2.2"/><line x1="319.2" y1="631.3" x2="333.2" y2="633.8" stroke-width="1.1"/><line x1="325.2" y1="626.3" x2="334.5" y2="632.6" stroke-width="2.2"/><line x1="321.2" y1="634.3" x2="331.2" y2="635.8" stroke-width="1.0"/><line x1="332.7" y1="636.2" x2="346.7" y2="638.7" stroke-width="1.1"/><line x1="338.7" y1="631.2" x2="348.7" y2="638.0" stroke-width="2.2"/><line x1="345.9" y1="641.0" x2="359.9" y2="643.5" stroke-width="1.1"/><path d="M351.9,639.0 l6,-3.5 l7,3.5 l-6,4.5 z" fill="none" stroke-width="2.4"/><line x1="347.9" y1="644.0" x2="357.9" y2="645.5" stroke-width="1.0"/><line x1="358.4" y1="644.0" x2="372.4" y2="646.5" stroke-width="1.1"/><line x1="364.4" y1="639.0" x2="373.3" y2="645.1" stroke-width="2.2"/><line x1="233.1" y1="611.3" x2="247.1" y2="613.8" stroke-width="1.1"/><line x1="239.1" y1="606.3" x2="247.0" y2="611.6" stroke-width="2.2"/><line x1="235.1" y1="614.3" x2="245.1" y2="615.8" stroke-width="1.0"/><line x1="246.6" y1="614.6" x2="260.6" y2="617.1" stroke-width="1.1"/><line x1="252.6" y1="609.6" x2="261.8" y2="615.8" stroke-width="2.2"/><line x1="248.6" y1="617.6" x2="258.6" y2="619.1" stroke-width="1.0"/><line x1="259.3" y1="619.6" x2="273.3" y2="622.1" stroke-width="1.1"/><line x1="265.3" y1="614.6" x2="275.9" y2="621.8" stroke-width="2.2"/><line x1="261.3" y1="622.6" x2="271.3" y2="624.1" stroke-width="1.0"/><line x1="272.7" y1="624.0" x2="286.7" y2="626.5" stroke-width="1.1"/><line x1="278.7" y1="619.0" x2="288.2" y2="625.4" stroke-width="2.2"/><line x1="274.7" y1="627.0" x2="284.7" y2="628.5" stroke-width="1.0"/><line x1="285.3" y1="629.4" x2="299.3" y2="631.9" stroke-width="1.1"/><line x1="291.3" y1="624.4" x2="300.2" y2="630.4" stroke-width="2.2"/><line x1="298.3" y1="633.5" x2="312.3" y2="636.0" stroke-width="1.1"/><line x1="304.3" y1="628.5" x2="313.5" y2="634.8" stroke-width="2.2"/><line x1="312.3" y1="638.4" x2="326.3" y2="640.9" stroke-width="1.1"/><line x1="318.3" y1="633.4" x2="328.6" y2="640.3" stroke-width="2.2"/><line x1="314.3" y1="641.4" x2="324.3" y2="642.9" stroke-width="1.0"/><line x1="324.5" y1="642.9" x2="338.5" y2="645.4" stroke-width="1.1"/><line x1="330.5" y1="637.9" x2="338.9" y2="643.5" stroke-width="2.2"/><line x1="338.9" y1="647.0" x2="352.9" y2="649.5" stroke-width="1.1"/><path d="M344.9,645.0 l6,-3.5 l7,3.5 l-6,4.5 z" fill="none" stroke-width="2.4"/><line x1="351.7" y1="652.6" x2="365.7" y2="655.1" stroke-width="1.1"/><line x1="357.7" y1="647.6" x2="368.4" y2="654.8" stroke-width="2.2"/><path d="M218.5,605.2 q-2.0,7.6 7.0,12.7" fill="none" stroke-width="1.4"/><path d="M222.5,602.2 q-1.5,6.3 6.3,10.8" fill="none" stroke-width="1.1"/><line x1="225.5" y1="607.2" x2="230.5" y2="613.2" stroke-width="2.6"/><path d="M231.5,608.7 q-2.0,9.1 8.3,15.1" fill="none" stroke-width="1.4"/><path d="M235.5,605.7 q-1.5,7.5 7.5,12.8" fill="none" stroke-width="1.1"/><line x1="238.6" y1="618.8" x2="252.6" y2="621.3" stroke-width="1.1"/><line x1="244.6" y1="613.8" x2="254.0" y2="620.1" stroke-width="2.2"/><line x1="240.6" y1="621.8" x2="250.6" y2="623.3" stroke-width="1.0"/><line x1="251.4" y1="623.4" x2="265.4" y2="625.9" stroke-width="1.1"/><line x1="257.4" y1="618.4" x2="267.4" y2="625.2" stroke-width="2.2"/><line x1="265.6" y1="627.6" x2="279.6" y2="630.1" stroke-width="1.1"/><line x1="271.6" y1="622.6" x2="282.1" y2="629.7" stroke-width="2.2"/><line x1="267.6" y1="630.6" x2="277.6" y2="632.1" stroke-width="1.0"/><line x1="279.1" y1="631.5" x2="293.1" y2="634.0" stroke-width="1.1"/><line x1="285.1" y1="626.5" x2="293.9" y2="632.4" stroke-width="2.2"/><line x1="281.1" y1="634.5" x2="291.1" y2="636.0" stroke-width="1.0"/><line x1="291.6" y1="637.3" x2="305.6" y2="639.8" stroke-width="1.1"/><line x1="297.6" y1="632.3" x2="305.1" y2="637.3" stroke-width="2.2"/><line x1="293.6" y1="640.3" x2="303.6" y2="641.8" stroke-width="1.0"/><line x1="305.0" y1="641.7" x2="319.0" y2="644.2" stroke-width="1.1"/><line x1="311.0" y1="636.7" x2="321.2" y2="643.6" stroke-width="2.2"/><line x1="307.0" y1="644.7" x2="317.0" y2="646.2" stroke-width="1.0"/><line x1="317.8" y1="646.0" x2="331.8" y2="648.5" stroke-width="1.1"/><line x1="323.8" y1="641.0" x2="333.3" y2="647.4" stroke-width="2.2"/><line x1="319.8" y1="649.0" x2="329.8" y2="650.5" stroke-width="1.0"/><line x1="330.3" y1="649.6" x2="344.3" y2="652.1" stroke-width="1.1"/><line x1="336.3" y1="644.6" x2="346.3" y2="651.4" stroke-width="2.2"/><line x1="332.3" y1="652.6" x2="342.3" y2="654.1" stroke-width="1.0"/><line x1="343.4" y1="655.2" x2="357.4" y2="657.7" stroke-width="1.1"/><line x1="349.4" y1="650.2" x2="357.5" y2="655.6" stroke-width="2.2"/><line x1="355.8" y1="660.5" x2="369.8" y2="663.0" stroke-width="1.1"/><line x1="361.8" y1="655.5" x2="370.5" y2="661.4" stroke-width="2.2"/><line x1="357.8" y1="663.5" x2="367.8" y2="665.0" stroke-width="1.0"/><path d="M199.0,607.5 q-2.0,9.8 9.0,16.4" fill="none" stroke-width="1.4"/><path d="M203.0,604.5 q-1.5,8.2 8.2,13.9" fill="none" stroke-width="1.1"/><path d="M212.2,611.4 q-2.0,9.2 8.4,15.3" fill="none" stroke-width="1.4"/><path d="M216.2,608.4 q-1.5,7.6 7.6,13.0" fill="none" stroke-width="1.1"/><path d="M225.4,616.6 q-2.0,8.5 7.8,14.2" fill="none" stroke-width="1.4"/><path d="M229.4,613.6 q-1.5,7.1 7.1,12.1" fill="none" stroke-width="1.1"/><line x1="232.4" y1="618.6" x2="237.4" y2="624.6" stroke-width="2.6"/><path d="M237.3,620.3 q-2.0,9.2 8.5,15.4" fill="none" stroke-width="1.4"/><path d="M241.3,617.3 q-1.5,7.7 7.7,13.1" fill="none" stroke-width="1.1"/><line x1="244.0" y1="630.5" x2="258.0" y2="633.0" stroke-width="1.1"/><path d="M250.0,628.5 l6,-3.5 l7,3.5 l-6,4.5 z" fill="none" stroke-width="2.4"/><line x1="257.3" y1="634.3" x2="271.3" y2="636.8" stroke-width="1.1"/><line x1="263.3" y1="629.3" x2="270.8" y2="634.3" stroke-width="2.2"/><line x1="259.3" y1="637.3" x2="269.3" y2="638.8" stroke-width="1.0"/><line x1="269.8" y1="638.6" x2="283.8" y2="641.1" stroke-width="1.1"/><line x1="275.8" y1="633.6" x2="286.4" y2="640.8" stroke-width="2.2"/><line x1="271.8" y1="641.6" x2="281.8" y2="643.1" stroke-width="1.0"/><line x1="284.4" y1="643.4" x2="298.4" y2="645.9" stroke-width="1.1"/><path d="M290.4,641.4 l6,-3.5 l7,3.5 l-6,4.5 z" fill="none" stroke-width="2.4"/><line x1="297.1" y1="648.8" x2="311.1" y2="651.3" stroke-width="1.1"/><line x1="303.1" y1="643.8" x2="312.1" y2="649.8" stroke-width="2.2"/><line x1="309.7" y1="652.7" x2="323.7" y2="655.2" stroke-width="1.1"/><line x1="315.7" y1="647.7" x2="324.6" y2="653.8" stroke-width="2.2"/><line x1="311.7" y1="655.7" x2="321.7" y2="657.2" stroke-width="1.0"/><line x1="322.2" y1="658.6" x2="336.2" y2="661.1" stroke-width="1.1"/><line x1="328.2" y1="653.6" x2="337.4" y2="659.9" stroke-width="2.2"/><line x1="335.8" y1="661.8" x2="349.8" y2="664.3" stroke-width="1.1"/><line x1="341.8" y1="656.8" x2="350.6" y2="662.7" stroke-width="2.2"/><line x1="349.2" y1="666.8" x2="363.2" y2="669.3" stroke-width="1.1"/><line x1="355.2" y1="661.8" x2="363.0" y2="667.1" stroke-width="2.2"/><line x1="351.2" y1="669.8" x2="361.2" y2="671.3" stroke-width="1.0"/><path d="M190.1,610.1 q-2.0,8.1 7.4,13.4" fill="none" stroke-width="1.4"/><path d="M194.1,607.1 q-1.5,6.7 6.7,11.4" fill="none" stroke-width="1.1"/><path d="M203.0,614.3 q-2.0,7.7 7.0,12.8" fill="none" stroke-width="1.4"/><path d="M207.0,611.3 q-1.5,6.4 6.4,10.9" fill="none" stroke-width="1.1"/><path d="M217.3,619.0 q-2.0,9.8 8.9,16.3" fill="none" stroke-width="1.4"/><path d="M221.3,616.0 q-1.5,8.1 8.1,13.8" fill="none" stroke-width="1.1"/><path d="M230.1,624.3 q-2.0,7.7 7.1,12.9" fill="none" stroke-width="1.4"/><path d="M234.1,621.3 q-1.5,6.4 6.4,11.0" fill="none" stroke-width="1.1"/><line x1="236.5" y1="633.4" x2="250.5" y2="635.9" stroke-width="1.1"/><line x1="242.5" y1="628.4" x2="252.9" y2="635.5" stroke-width="2.2"/><line x1="250.8" y1="638.7" x2="264.8" y2="641.2" stroke-width="1.1"/><line x1="256.8" y1="633.7" x2="267.1" y2="640.6" stroke-width="2.2"/><line x1="252.8" y1="641.7" x2="262.8" y2="643.2" stroke-width="1.0"/><line x1="263.4" y1="642.9" x2="277.4" y2="645.4" stroke-width="1.1"/><line x1="269.4" y1="637.9" x2="277.8" y2="643.5" stroke-width="2.2"/><line x1="265.4" y1="645.9" x2="275.4" y2="647.4" stroke-width="1.0"/><line x1="276.8" y1="646.8" x2="290.8" y2="649.3" stroke-width="1.1"/><line x1="282.8" y1="641.8" x2="292.3" y2="648.2" stroke-width="2.2"/><line x1="288.8" y1="651.2" x2="302.8" y2="653.7" stroke-width="1.1"/><line x1="294.8" y1="646.2" x2="305.0" y2="653.0" stroke-width="2.2"/><line x1="290.8" y1="654.2" x2="300.8" y2="655.7" stroke-width="1.0"/><line x1="301.9" y1="656.4" x2="315.9" y2="658.9" stroke-width="1.1"/><line x1="307.9" y1="651.4" x2="318.3" y2="658.4" stroke-width="2.2"/><line x1="303.9" y1="659.4" x2="313.9" y2="660.9" stroke-width="1.0"/><line x1="314.6" y1="661.0" x2="328.6" y2="663.5" stroke-width="1.1"/><path d="M320.6,659.0 l6,-3.5 l7,3.5 l-6,4.5 z" fill="none" stroke-width="2.4"/><line x1="316.6" y1="664.0" x2="326.6" y2="665.5" stroke-width="1.0"/><line x1="327.4" y1="665.5" x2="341.4" y2="668.0" stroke-width="1.1"/><line x1="333.4" y1="660.5" x2="341.7" y2="666.0" stroke-width="2.2"/><line x1="340.3" y1="669.9" x2="354.3" y2="672.4" stroke-width="1.1"/><line x1="346.3" y1="664.9" x2="354.2" y2="670.2" stroke-width="2.2"/><line x1="353.5" y1="674.1" x2="367.5" y2="676.6" stroke-width="1.1"/><line x1="359.5" y1="669.1" x2="367.3" y2="674.4" stroke-width="2.2"/><path d="M157.2,608.7 q-2.0,9.1 8.3,15.1" fill="none" stroke-width="1.4"/><path d="M161.2,605.7 q-1.5,7.6 7.6,12.9" fill="none" stroke-width="1.1"/><path d="M169.4,612.0 q-2.0,8.6 7.9,14.3" fill="none" stroke-width="1.4"/><path d="M173.4,609.0 q-1.5,7.2 7.2,12.2" fill="none" stroke-width="1.1"/><path d="M182.4,617.7 q-2.0,8.2 7.6,13.7" fill="none" stroke-width="1.4"/><path d="M186.4,614.7 q-1.5,6.9 6.9,11.7" fill="none" stroke-width="1.1"/><path d="M196.2,622.5 q-2.0,8.1 7.4,13.5" fill="none" stroke-width="1.4"/><path d="M200.2,619.5 q-1.5,6.8 6.8,11.5" fill="none" stroke-width="1.1"/><path d="M209.4,626.7 q-2.0,8.1 7.5,13.6" fill="none" stroke-width="1.4"/><path d="M213.4,623.7 q-1.5,6.8 6.8,11.5" fill="none" stroke-width="1.1"/><line x1="216.4" y1="628.7" x2="221.4" y2="634.7" stroke-width="2.6"/><path d="M222.1,631.2 q-2.0,9.1 8.4,15.2" fill="none" stroke-width="1.4"/><path d="M226.1,628.2 q-1.5,7.6 7.6,12.9" fill="none" stroke-width="1.1"/><line x1="229.1" y1="633.2" x2="234.1" y2="639.2" stroke-width="2.6"/><path d="M235.1,635.7 q-2.0,7.8 7.1,13.0" fill="none" stroke-width="1.4"/><path d="M239.1,632.7 q-1.5,6.5 6.5,11.0" fill="none" stroke-width="1.1"/><line x1="242.1" y1="637.7" x2="247.1" y2="643.7" stroke-width="2.6"/><line x1="243.1" y1="644.2" x2="257.1" y2="646.7" stroke-width="1.1"/><path d="M249.1,642.2 l6,-3.5 l7,3.5 l-6,4.5 z" fill="none" stroke-width="2.4"/><line x1="245.1" y1="647.2" x2="255.1" y2="648.7" stroke-width="1.0"/><line x1="254.5" y1="649.6" x2="268.5" y2="652.1" stroke-width="1.1"/><line x1="260.5" y1="644.6" x2="268.2" y2="649.8" stroke-width="2.2"/><line x1="268.4" y1="653.4" x2="282.4" y2="655.9" stroke-width="1.1"/><line x1="274.4" y1="648.4" x2="282.8" y2="654.1" stroke-width="2.2"/><line x1="270.4" y1="656.4" x2="280.4" y2="657.9" stroke-width="1.0"/><line x1="280.7" y1="659.0" x2="294.7" y2="661.5" stroke-width="1.1"/><line x1="286.7" y1="654.0" x2="294.7" y2="659.3" stroke-width="2.2"/><line x1="294.2" y1="663.7" x2="308.2" y2="666.2" stroke-width="1.1"/><line x1="300.2" y1="658.7" x2="310.8" y2="665.8" stroke-width="2.2"/><line x1="296.2" y1="666.7" x2="306.2" y2="668.2" stroke-width="1.0"/><line x1="307.2" y1="668.5" x2="321.2" y2="671.0" stroke-width="1.1"/><line x1="313.2" y1="663.5" x2="322.9" y2="670.1" stroke-width="2.2"/><line x1="320.4" y1="673.1" x2="334.4" y2="675.6" stroke-width="1.1"/><line x1="326.4" y1="668.1" x2="336.2" y2="674.8" stroke-width="2.2"/><line x1="332.7" y1="677.6" x2="346.7" y2="680.1" stroke-width="1.1"/><line x1="338.7" y1="672.6" x2="346.3" y2="677.8" stroke-width="2.2"/><line x1="334.7" y1="680.6" x2="344.7" y2="682.1" stroke-width="1.0"/><line x1="346.2" y1="682.0" x2="360.2" y2="684.5" stroke-width="1.1"/><line x1="352.2" y1="677.0" x2="362.2" y2="683.8" stroke-width="2.2"/><path d="M135.5,605.4 q-2.0,7.6 7.0,12.7" fill="none" stroke-width="1.4"/><path d="M139.5,602.4 q-1.5,6.4 6.4,10.8" fill="none" stroke-width="1.1"/><path d="M150.0,611.7 q-2.0,8.3 7.6,13.8" fill="none" stroke-width="1.4"/><path d="M154.0,608.7 q-1.5,6.9 6.9,11.7" fill="none" stroke-width="1.1"/><line x1="157.0" y1="613.7" x2="162.0" y2="619.7" stroke-width="2.6"/><path d="M162.1,615.7 q-2.0,8.6 7.9,14.4" fill="none" stroke-width="1.4"/><path d="M166.1,612.7 q-1.5,7.2 7.2,12.2" fill="none" stroke-width="1.1"/><line x1="169.1" y1="617.7" x2="174.1" y2="623.7" stroke-width="2.6"/><path d="M175.5,619.5 q-2.0,7.6 7.0,12.7" fill="none" stroke-width="1.4"/><path d="M179.5,616.5 q-1.5,6.4 6.4,10.8" fill="none" stroke-width="1.1"/><path d="M187.7,624.5 q-2.0,9.5 8.7,15.8" fill="none" stroke-width="1.4"/><path d="M191.7,621.5 q-1.5,7.9 7.9,13.5" fill="none" stroke-width="1.1"/><path d="M202.2,628.8 q-2.0,10.0 9.2,16.7" fill="none" stroke-width="1.4"/><path d="M206.2,625.8 q-1.5,8.4 8.4,14.2" fill="none" stroke-width="1.1"/><line x1="209.2" y1="630.8" x2="214.2" y2="636.8" stroke-width="2.6"/><path d="M215.3,633.6 q-2.0,7.2 6.6,12.0" fill="none" stroke-width="1.4"/><path d="M219.3,630.6 q-1.5,6.0 6.0,10.2" fill="none" stroke-width="1.1"/><line x1="222.3" y1="635.6" x2="227.3" y2="641.6" stroke-width="2.6"/><path d="M228.5,638.8 q-2.0,9.4 8.6,15.7" fill="none" stroke-width="1.4"/><path d="M232.5,635.8 q-1.5,7.8 7.8,13.3" fill="none" stroke-width="1.1"/><line x1="233.5" y1="647.6" x2="247.5" y2="650.1" stroke-width="1.1"/><line x1="239.5" y1="642.6" x2="250.0" y2="649.7" stroke-width="2.2"/><line x1="235.5" y1="650.6" x2="245.5" y2="652.1" stroke-width="1.0"/><line x1="248.5" y1="652.7" x2="262.5" y2="655.2" stroke-width="1.1"/><line x1="254.5" y1="647.7" x2="262.2" y2="652.9" stroke-width="2.2"/><line x1="260.4" y1="656.8" x2="274.4" y2="659.3" stroke-width="1.1"/><line x1="266.4" y1="651.8" x2="275.4" y2="657.9" stroke-width="2.2"/><line x1="273.0" y1="661.6" x2="287.0" y2="664.1" stroke-width="1.1"/><line x1="279.0" y1="656.6" x2="287.2" y2="662.2" stroke-width="2.2"/><line x1="286.5" y1="666.7" x2="300.5" y2="669.2" stroke-width="1.1"/><line x1="292.5" y1="661.7" x2="301.7" y2="667.9" stroke-width="2.2"/><line x1="288.5" y1="669.7" x2="298.5" y2="671.2" stroke-width="1.0"/><line x1="298.6" y1="670.2" x2="312.6" y2="672.7" stroke-width="1.1"/><line x1="304.6" y1="665.2" x2="312.1" y2="670.3" stroke-width="2.2"/><line x1="300.6" y1="673.2" x2="310.6" y2="674.7" stroke-width="1.0"/><line x1="312.0" y1="675.2" x2="326.0" y2="677.7" stroke-width="1.1"/><line x1="318.0" y1="670.2" x2="326.1" y2="675.7" stroke-width="2.2"/><line x1="314.0" y1="678.2" x2="324.0" y2="679.7" stroke-width="1.0"/><line x1="324.6" y1="679.4" x2="338.6" y2="681.9" stroke-width="1.1"/><line x1="330.6" y1="674.4" x2="340.0" y2="680.7" stroke-width="2.2"/><line x1="337.6" y1="685.6" x2="351.6" y2="688.1" stroke-width="1.1"/><path d="M343.6,683.6 l6,-3.5 l7,3.5 l-6,4.5 z" fill="none" stroke-width="2.4"/><line x1="339.6" y1="688.6" x2="349.6" y2="690.1" stroke-width="1.0"/><line x1="352.2" y1="689.6" x2="366.2" y2="692.1" stroke-width="1.1"/><path d="M358.2,687.6 l6,-3.5 l7,3.5 l-6,4.5 z" fill="none" stroke-width="2.4"/><path d="M128.4,614.2 q-2.0,8.7 8.0,14.5" fill="none" stroke-width="1.4"/><path d="M132.4,611.2 q-1.5,7.2 7.2,12.3" fill="none" stroke-width="1.1"/><line x1="135.4" y1="616.2" x2="140.4" y2="622.2" stroke-width="2.6"/><path d="M142.6,619.1 q-2.0,7.3 6.7,12.2" fill="none" stroke-width="1.4"/><path d="M146.6,616.1 q-1.5,6.1 6.1,10.4" fill="none" stroke-width="1.1"/><path d="M154.2,623.1 q-2.0,8.3 7.6,13.8" fill="none" stroke-width="1.4"/><path d="M158.2,620.1 q-1.5,6.9 6.9,11.7" fill="none" stroke-width="1.1"/><line x1="161.2" y1="625.1" x2="166.2" y2="631.1" stroke-width="2.6"/><path d="M167.4,627.6 q-2.0,8.7 8.0,14.5" fill="none" stroke-width="1.4"/><path d="M171.4,624.6 q-1.5,7.3 7.3,12.3" fill="none" stroke-width="1.1"/><path d="M181.2,631.9 q-2.0,10.0 9.2,16.7" fill="none" stroke-width="1.4"/><path d="M185.2,628.9 q-1.5,8.4 8.4,14.2" fill="none" stroke-width="1.1"/><path d="M194.4,637.5 q-2.0,9.1 8.3,15.1" fill="none" stroke-width="1.4"/><path d="M198.4,634.5 q-1.5,7.6 7.6,12.8" fill="none" stroke-width="1.1"/><path d="M207.4,641.6 q-2.0,7.8 7.1,13.0" fill="none" stroke-width="1.4"/><path d="M211.4,638.6 q-1.5,6.5 6.5,11.0" fill="none" stroke-width="1.1"/><path d="M219.1,644.8 q-2.0,9.3 8.5,15.4" fill="none" stroke-width="1.4"/><path d="M223.1,641.8 q-1.5,7.7 7.7,13.1" fill="none" stroke-width="1.1"/><path d="M232.3,649.5 q-2.0,7.3 6.7,12.1" fill="none" stroke-width="1.4"/><path d="M236.3,646.5 q-1.5,6.1 6.1,10.3" fill="none" stroke-width="1.1"/><line x1="239.5" y1="659.9" x2="253.5" y2="662.4" stroke-width="1.1"/><line x1="245.5" y1="654.9" x2="256.0" y2="661.9" stroke-width="2.2"/><line x1="241.5" y1="662.9" x2="251.5" y2="664.4" stroke-width="1.0"/><line x1="253.8" y1="664.0" x2="267.8" y2="666.5" stroke-width="1.1"/><line x1="259.8" y1="659.0" x2="269.4" y2="665.4" stroke-width="2.2"/><line x1="266.0" y1="669.6" x2="280.0" y2="672.1" stroke-width="1.1"/><line x1="272.0" y1="664.6" x2="282.2" y2="671.5" stroke-width="2.2"/><line x1="279.3" y1="673.4" x2="293.3" y2="675.9" stroke-width="1.1"/><line x1="285.3" y1="668.4" x2="293.8" y2="674.2" stroke-width="2.2"/><line x1="291.7" y1="678.5" x2="305.7" y2="681.0" stroke-width="1.1"/><path d="M297.7,676.5 l6,-3.5 l7,3.5 l-6,4.5 z" fill="none" stroke-width="2.4"/><line x1="293.7" y1="681.5" x2="303.7" y2="683.0" stroke-width="1.0"/><line x1="305.0" y1="683.2" x2="319.0" y2="685.7" stroke-width="1.1"/><line x1="311.0" y1="678.2" x2="320.5" y2="684.6" stroke-width="2.2"/><line x1="317.8" y1="687.4" x2="331.8" y2="689.9" stroke-width="1.1"/><line x1="323.8" y1="682.4" x2="332.5" y2="688.3" stroke-width="2.2"/><line x1="330.0" y1="693.1" x2="344.0" y2="695.6" stroke-width="1.1"/><line x1="336.0" y1="688.1" x2="346.0" y2="694.8" stroke-width="2.2"/><line x1="344.0" y1="696.0" x2="358.0" y2="698.5" stroke-width="1.1"/><line x1="350.0" y1="691.0" x2="359.8" y2="697.7" stroke-width="2.2"/><line x1="346.0" y1="699.0" x2="356.0" y2="700.5" stroke-width="1.0"/><line x1="357.4" y1="701.9" x2="371.4" y2="704.4" stroke-width="1.1"/><line x1="363.4" y1="696.9" x2="372.2" y2="702.8" stroke-width="2.2"/><path d="M133.9,620.2 q-2.0,9.3 8.5,15.4" fill="none" stroke-width="1.4"/><path d="M137.9,617.2 q-1.5,7.7 7.7,13.1" fill="none" stroke-width="1.1"/><line x1="140.9" y1="622.2" x2="145.9" y2="628.2" stroke-width="2.6"/><path d="M147.8,624.9 q-2.0,7.8 7.1,13.0" fill="none" stroke-width="1.4"/><path d="M151.8,621.9 q-1.5,6.5 6.5,11.0" fill="none" stroke-width="1.1"/><path d="M160.1,630.7 q-2.0,8.2 7.6,13.7" fill="none" stroke-width="1.4"/><path d="M164.1,627.7 q-1.5,6.9 6.9,11.7" fill="none" stroke-width="1.1"/><line x1="167.1" y1="632.7" x2="172.1" y2="638.7" stroke-width="2.6"/><path d="M172.8,635.8 q-2.0,7.8 7.1,13.0" fill="none" stroke-width="1.4"/><path d="M176.8,632.8 q-1.5,6.5 6.5,11.0" fill="none" stroke-width="1.1"/><path d="M186.9,639.8 q-2.0,8.0 7.3,13.3" fill="none" stroke-width="1.4"/><path d="M190.9,636.8 q-1.5,6.7 6.7,11.3" fill="none" stroke-width="1.1"/><path d="M199.9,644.2 q-2.0,7.9 7.2,13.1" fill="none" stroke-width="1.4"/><path d="M203.9,641.2 q-1.5,6.6 6.6,11.1" fill="none" stroke-width="1.1"/><path d="M213.0,648.8 q-2.0,7.6 7.0,12.7" fill="none" stroke-width="1.4"/><path d="M217.0,645.8 q-1.5,6.4 6.4,10.8" fill="none" stroke-width="1.1"/><line x1="220.0" y1="650.8" x2="225.0" y2="656.8" stroke-width="2.6"/><path d="M225.4,652.3 q-2.0,7.2 6.6,12.0" fill="none" stroke-width="1.4"/><path d="M229.4,649.3 q-1.5,6.0 6.0,10.2" fill="none" stroke-width="1.1"/><path d="M237.6,657.8 q-2.0,7.4 6.8,12.4" fill="none" stroke-width="1.4"/><path d="M241.6,654.8 q-1.5,6.2 6.2,10.5" fill="none" stroke-width="1.1"/><line x1="245.5" y1="667.0" x2="259.5" y2="669.5" stroke-width="1.1"/><line x1="251.5" y1="662.0" x2="260.7" y2="668.2" stroke-width="2.2"/><line x1="258.4" y1="672.1" x2="272.4" y2="674.6" stroke-width="1.1"/><path d="M264.4,670.1 l6,-3.5 l7,3.5 l-6,4.5 z" fill="none" stroke-width="2.4"/><line x1="271.8" y1="675.6" x2="285.8" y2="678.1" stroke-width="1.1"/><line x1="277.8" y1="670.6" x2="287.2" y2="677.0" stroke-width="2.2"/><line x1="283.9" y1="680.4" x2="297.9" y2="682.9" stroke-width="1.1"/><line x1="289.9" y1="675.4" x2="299.7" y2="682.0" stroke-width="2.2"/><line x1="285.9" y1="683.4" x2="295.9" y2="684.9" stroke-width="1.0"/><line x1="296.8" y1="686.7" x2="310.8" y2="689.2" stroke-width="1.1"/><line x1="302.8" y1="681.7" x2="311.0" y2="687.2" stroke-width="2.2"/><line x1="309.5" y1="689.8" x2="323.5" y2="692.3" stroke-width="1.1"/><line x1="315.5" y1="684.8" x2="324.2" y2="690.7" stroke-width="2.2"/><line x1="322.6" y1="695.2" x2="336.6" y2="697.7" stroke-width="1.1"/><line x1="328.6" y1="690.2" x2="336.8" y2="695.7" stroke-width="2.2"/><line x1="324.6" y1="698.2" x2="334.6" y2="699.7" stroke-width="1.0"/><line x1="336.9" y1="698.9" x2="350.9" y2="701.4" stroke-width="1.1"/><line x1="342.9" y1="693.9" x2="351.2" y2="699.5" stroke-width="2.2"/><line x1="338.9" y1="701.9" x2="348.9" y2="703.4" stroke-width="1.0"/><line x1="348.7" y1="705.2" x2="362.7" y2="707.7" stroke-width="1.1"/><line x1="354.7" y1="700.2" x2="365.0" y2="707.1" stroke-width="2.2"/><path d="M126.4,629.3 q-2.0,10.2 9.3,17.0" fill="none" stroke-width="1.4"/><path d="M130.4,626.3 q-1.5,8.5 8.5,14.4" fill="none" stroke-width="1.1"/><path d="M140.3,632.1 q-2.0,7.4 6.8,12.4" fill="none" stroke-width="1.4"/><path d="M144.3,629.1 q-1.5,6.2 6.2,10.5" fill="none" stroke-width="1.1"/><path d="M153.1,637.7 q-2.0,8.0 7.3,13.3" fill="none" stroke-width="1.4"/><path d="M157.1,634.7 q-1.5,6.6 6.6,11.3" fill="none" stroke-width="1.1"/><line x1="160.1" y1="639.7" x2="165.1" y2="645.7" stroke-width="2.6"/><path d="M164.9,641.5 q-2.0,7.6 7.0,12.7" fill="none" stroke-width="1.4"/><path d="M168.9,638.5 q-1.5,6.4 6.4,10.8" fill="none" stroke-width="1.1"/><path d="M177.8,646.1 q-2.0,9.1 8.3,15.1" fill="none" stroke-width="1.4"/><path d="M181.8,643.1 q-1.5,7.5 7.5,12.8" fill="none" stroke-width="1.1"/><line x1="184.8" y1="648.1" x2="189.8" y2="654.1" stroke-width="2.6"/><path d="M192.1,651.7 q-2.0,9.8 9.0,16.4" fill="none" stroke-width="1.4"/><path d="M196.1,648.7 q-1.5,8.2 8.2,13.9" fill="none" stroke-width="1.1"/><path d="M204.9,655.5 q-2.0,8.5 7.8,14.1" fill="none" stroke-width="1.4"/><path d="M208.9,652.5 q-1.5,7.1 7.1,12.0" fill="none" stroke-width="1.1"/><path d="M217.2,661.4 q-2.0,8.5 7.8,14.2" fill="none" stroke-width="1.4"/><path d="M221.2,658.4 q-1.5,7.1 7.1,12.1" fill="none" stroke-width="1.1"/><path d="M230.7,664.4 q-2.0,7.8 7.2,13.1" fill="none" stroke-width="1.4"/><path d="M234.7,661.4 q-1.5,6.5 6.5,11.1" fill="none" stroke-width="1.1"/><line x1="238.0" y1="674.3" x2="252.0" y2="676.8" stroke-width="1.1"/><line x1="244.0" y1="669.3" x2="252.7" y2="675.1" stroke-width="2.2"/><line x1="240.0" y1="677.3" x2="250.0" y2="678.8" stroke-width="1.0"/><line x1="251.2" y1="679.6" x2="265.2" y2="682.1" stroke-width="1.1"/><line x1="257.2" y1="674.6" x2="265.9" y2="680.4" stroke-width="2.2"/><line x1="253.2" y1="682.6" x2="263.2" y2="684.1" stroke-width="1.0"/><line x1="263.2" y1="683.1" x2="277.2" y2="685.6" stroke-width="1.1"/><line x1="269.2" y1="678.1" x2="279.5" y2="685.1" stroke-width="2.2"/><line x1="276.2" y1="688.7" x2="290.2" y2="691.2" stroke-width="1.1"/><line x1="282.2" y1="683.7" x2="290.2" y2="689.1" stroke-width="2.2"/><line x1="278.2" y1="691.7" x2="288.2" y2="693.2" stroke-width="1.0"/><line x1="288.8" y1="693.1" x2="302.8" y2="695.6" stroke-width="1.1"/><line x1="294.8" y1="688.1" x2="304.4" y2="694.6" stroke-width="2.2"/><line x1="290.8" y1="696.1" x2="300.8" y2="697.6" stroke-width="1.0"/><line x1="302.7" y1="697.9" x2="316.7" y2="700.4" stroke-width="1.1"/><line x1="308.7" y1="692.9" x2="317.7" y2="699.0" stroke-width="2.2"/><line x1="316.2" y1="702.1" x2="330.2" y2="704.6" stroke-width="1.1"/><line x1="322.2" y1="697.1" x2="331.5" y2="703.4" stroke-width="2.2"/><line x1="318.2" y1="705.1" x2="328.2" y2="706.6" stroke-width="1.0"/><line x1="327.9" y1="707.8" x2="341.9" y2="710.3" stroke-width="1.1"/><line x1="333.9" y1="702.8" x2="343.6" y2="709.4" stroke-width="2.2"/><line x1="329.9" y1="710.8" x2="339.9" y2="712.3" stroke-width="1.0"/><line x1="341.3" y1="711.1" x2="355.3" y2="713.6" stroke-width="1.1"/><path d="M347.3,709.1 l6,-3.5 l7,3.5 l-6,4.5 z" fill="none" stroke-width="2.4"/><line x1="343.3" y1="714.1" x2="353.3" y2="715.6" stroke-width="1.0"/><line x1="354.9" y1="715.9" x2="368.9" y2="718.4" stroke-width="1.1"/><line x1="360.9" y1="710.9" x2="370.9" y2="717.7" stroke-width="2.2"/><line x1="356.9" y1="718.9" x2="366.9" y2="720.4" stroke-width="1.0"/><path d="M132.0,635.6 q-2.0,8.6 7.9,14.3" fill="none" stroke-width="1.4"/><path d="M136.0,632.6 q-1.5,7.2 7.2,12.2" fill="none" stroke-width="1.1"/><path d="M145.4,640.7 q-2.0,9.9 9.0,16.4" fill="none" stroke-width="1.4"/><path d="M149.4,637.7 q-1.5,8.2 8.2,14.0" fill="none" stroke-width="1.1"/><line x1="152.4" y1="642.7" x2="157.4" y2="648.7" stroke-width="2.6"/><path d="M158.3,644.8 q-2.0,7.7 7.1,12.9" fill="none" stroke-width="1.4"/><path d="M162.3,641.8 q-1.5,6.5 6.5,11.0" fill="none" stroke-width="1.1"/><path d="M170.9,649.1 q-2.0,9.9 9.1,16.5" fill="none" stroke-width="1.4"/><path d="M174.9,646.1 q-1.5,8.2 8.2,14.0" fill="none" stroke-width="1.1"/><path d="M184.0,655.2 q-2.0,8.2 7.5,13.6" fill="none" stroke-width="1.4"/><path d="M188.0,652.2 q-1.5,6.8 6.8,11.6" fill="none" stroke-width="1.1"/><path d="M196.8,658.4 q-2.0,8.8 8.1,14.7" fill="none" stroke-width="1.4"/><path d="M200.8,655.4 q-1.5,7.3 7.3,12.5" fill="none" stroke-width="1.1"/><path d="M210.1,662.9 q-2.0,9.3 8.5,15.4" fill="none" stroke-width="1.4"/><path d="M214.1,659.9 q-1.5,7.7 7.7,13.1" fill="none" stroke-width="1.1"/><path d="M222.4,668.3 q-2.0,8.3 7.6,13.9" fill="none" stroke-width="1.4"/><path d="M226.4,665.3 q-1.5,6.9 6.9,11.8" fill="none" stroke-width="1.1"/><path d="M235.5,673.2 q-2.0,8.1 7.4,13.5" fill="none" stroke-width="1.4"/><path d="M239.5,670.2 q-1.5,6.7 6.7,11.5" fill="none" stroke-width="1.1"/><line x1="242.5" y1="675.2" x2="247.5" y2="681.2" stroke-width="2.6"/><line x1="242.4" y1="681.5" x2="256.4" y2="684.0" stroke-width="1.1"/><line x1="248.4" y1="676.5" x2="259.1" y2="683.7" stroke-width="2.2"/><line x1="244.4" y1="684.5" x2="254.4" y2="686.0" stroke-width="1.0"/><line x1="256.5" y1="687.5" x2="270.5" y2="690.0" stroke-width="1.1"/><line x1="262.5" y1="682.5" x2="270.9" y2="688.2" stroke-width="2.2"/><line x1="258.5" y1="690.5" x2="268.5" y2="692.0" stroke-width="1.0"/><line x1="268.1" y1="691.2" x2="282.1" y2="693.7" stroke-width="1.1"/><line x1="274.1" y1="686.2" x2="282.1" y2="691.6" stroke-width="2.2"/><line x1="270.1" y1="694.2" x2="280.1" y2="695.7" stroke-width="1.0"/><line x1="282.5" y1="696.9" x2="296.5" y2="699.4" stroke-width="1.1"/><line x1="288.5" y1="691.9" x2="296.9" y2="697.6" stroke-width="2.2"/><line x1="284.5" y1="699.9" x2="294.5" y2="701.4" stroke-width="1.0"/><line x1="295.4" y1="700.4" x2="309.4" y2="702.9" stroke-width="1.1"/><line x1="301.4" y1="695.4" x2="311.4" y2="702.2" stroke-width="2.2"/><line x1="307.4" y1="704.5" x2="321.4" y2="707.0" stroke-width="1.1"/><path d="M313.4,702.5 l6,-3.5 l7,3.5 l-6,4.5 z" fill="none" stroke-width="2.4"/><line x1="309.4" y1="707.5" x2="319.4" y2="709.0" stroke-width="1.0"/><line x1="320.3" y1="709.7" x2="334.3" y2="712.2" stroke-width="1.1"/><path d="M326.3,707.7 l6,-3.5 l7,3.5 l-6,4.5 z" fill="none" stroke-width="2.4"/><line x1="322.3" y1="712.7" x2="332.3" y2="714.2" stroke-width="1.0"/><line x1="333.4" y1="714.9" x2="347.4" y2="717.4" stroke-width="1.1"/><line x1="339.4" y1="709.9" x2="349.0" y2="716.3" stroke-width="2.2"/><line x1="335.4" y1="717.9" x2="345.4" y2="719.4" stroke-width="1.0"/><line x1="346.5" y1="718.1" x2="360.5" y2="720.6" stroke-width="1.1"/><path d="M352.5,716.1 l6,-3.5 l7,3.5 l-6,4.5 z" fill="none" stroke-width="2.4"/><line x1="348.5" y1="721.1" x2="358.5" y2="722.6" stroke-width="1.0"/><path d="M137.5,648.2 q-2.0,7.8 7.1,13.0" fill="none" stroke-width="1.4"/><path d="M141.5,645.2 q-1.5,6.5 6.5,11.0" fill="none" stroke-width="1.1"/><path d="M149.5,651.8 q-2.0,10.1 9.2,16.8" fill="none" stroke-width="1.4"/><path d="M153.5,648.8 q-1.5,8.4 8.4,14.2" fill="none" stroke-width="1.1"/><line x1="156.5" y1="653.8" x2="161.5" y2="659.8" stroke-width="2.6"/><path d="M163.6,657.7 q-2.0,8.4 7.7,14.0" fill="none" stroke-width="1.4"/><path d="M167.6,654.7 q-1.5,7.0 7.0,11.9" fill="none" stroke-width="1.1"/><line x1="170.6" y1="659.7" x2="175.6" y2="665.7" stroke-width="2.6"/><path d="M175.4,661.9 q-2.0,9.3 8.6,15.5" fill="none" stroke-width="1.4"/><path d="M179.4,658.9 q-1.5,7.8 7.8,13.2" fill="none" stroke-width="1.1"/><path d="M189.2,665.5 q-2.0,9.2 8.4,15.3" fill="none" stroke-width="1.4"/><path d="M193.2,662.5 q-1.5,7.6 7.6,13.0" fill="none" stroke-width="1.1"/><path d="M202.6,670.9 q-2.0,8.9 8.2,14.9" fill="none" stroke-width="1.4"/><path d="M206.6,667.9 q-1.5,7.4 7.4,12.6" fill="none" stroke-width="1.1"/><line x1="209.6" y1="672.9" x2="214.6" y2="678.9" stroke-width="2.6"/><path d="M214.5,675.2 q-2.0,7.4 6.8,12.4" fill="none" stroke-width="1.4"/><path d="M218.5,672.2 q-1.5,6.2 6.2,10.5" fill="none" stroke-width="1.1"/><line x1="221.5" y1="677.2" x2="226.5" y2="683.2" stroke-width="2.6"/><path d="M228.9,680.4 q-2.0,8.9 8.1,14.8" fill="none" stroke-width="1.4"/><path d="M232.9,677.4 q-1.5,7.4 7.4,12.6" fill="none" stroke-width="1.1"/><line x1="235.7" y1="689.9" x2="249.7" y2="692.4" stroke-width="1.1"/><line x1="241.7" y1="684.9" x2="250.5" y2="690.8" stroke-width="2.2"/><line x1="247.3" y1="694.8" x2="261.3" y2="697.3" stroke-width="1.1"/><line x1="253.3" y1="689.8" x2="261.9" y2="695.6" stroke-width="2.2"/><line x1="249.3" y1="697.8" x2="259.3" y2="699.3" stroke-width="1.0"/><line x1="261.5" y1="698.9" x2="275.5" y2="701.4" stroke-width="1.1"/><line x1="267.5" y1="693.9" x2="275.1" y2="699.1" stroke-width="2.2"/><line x1="274.5" y1="703.0" x2="288.5" y2="705.5" stroke-width="1.1"/><line x1="280.5" y1="698.0" x2="288.4" y2="703.3" stroke-width="2.2"/><line x1="276.5" y1="706.0" x2="286.5" y2="707.5" stroke-width="1.0"/><line x1="286.9" y1="707.6" x2="300.9" y2="710.1" stroke-width="1.1"/><line x1="292.9" y1="702.6" x2="301.8" y2="708.6" stroke-width="2.2"/><line x1="288.9" y1="710.6" x2="298.9" y2="712.1" stroke-width="1.0"/><line x1="299.7" y1="711.8" x2="313.7" y2="714.3" stroke-width="1.1"/><path d="M305.7,709.8 l6,-3.5 l7,3.5 l-6,4.5 z" fill="none" stroke-width="2.4"/><line x1="312.8" y1="716.4" x2="326.8" y2="718.9" stroke-width="1.1"/><path d="M318.8,714.4 l6,-3.5 l7,3.5 l-6,4.5 z" fill="none" stroke-width="2.4"/><line x1="325.0" y1="721.4" x2="339.0" y2="723.9" stroke-width="1.1"/><line x1="331.0" y1="716.4" x2="341.3" y2="723.3" stroke-width="2.2"/><line x1="327.0" y1="724.4" x2="337.0" y2="725.9" stroke-width="1.0"/><line x1="339.9" y1="726.0" x2="353.9" y2="728.5" stroke-width="1.1"/><line x1="345.9" y1="721.0" x2="354.2" y2="726.6" stroke-width="2.2"/><line x1="341.9" y1="729.0" x2="351.9" y2="730.5" stroke-width="1.0"/><line x1="352.3" y1="731.9" x2="366.3" y2="734.4" stroke-width="1.1"/><line x1="358.3" y1="726.9" x2="366.4" y2="732.4" stroke-width="2.2"/><line x1="354.3" y1="734.9" x2="364.3" y2="736.4" stroke-width="1.0"/><path d="M128.4,650.8 q-2.0,8.8 8.1,14.6" fill="none" stroke-width="1.4"/><path d="M132.4,647.8 q-1.5,7.3 7.3,12.5" fill="none" stroke-width="1.1"/><path d="M142.3,655.8 q-2.0,9.7 8.9,16.1" fill="none" stroke-width="1.4"/><path d="M146.3,652.8 q-1.5,8.1 8.1,13.7" fill="none" stroke-width="1.1"/><path d="M155.0,658.9 q-2.0,8.6 7.9,14.4" fill="none" stroke-width="1.4"/><path d="M159.0,655.9 q-1.5,7.2 7.2,12.2" fill="none" stroke-width="1.1"/><line x1="162.0" y1="660.9" x2="167.0" y2="666.9" stroke-width="2.6"/><path d="M168.6,664.4 q-2.0,9.4 8.7,15.7" fill="none" stroke-width="1.4"/><path d="M172.6,661.4 q-1.5,7.9 7.9,13.4" fill="none" stroke-width="1.1"/><path d="M181.8,669.4 q-2.0,8.2 7.5,13.7" fill="none" stroke-width="1.4"/><path d="M185.8,666.4 q-1.5,6.8 6.8,11.6" fill="none" stroke-width="1.1"/><path d="M194.6,673.0 q-2.0,9.8 9.0,16.3" fill="none" stroke-width="1.4"/><path d="M198.6,670.0 q-1.5,8.2 8.2,13.9" fill="none" stroke-width="1.1"/><path d="M207.4,677.6 q-2.0,9.7 8.9,16.2" fill="none" stroke-width="1.4"/><path d="M211.4,674.6 q-1.5,8.1 8.1,13.7" fill="none" stroke-width="1.1"/><path d="M220.8,683.5 q-2.0,8.8 8.0,14.6" fill="none" stroke-width="1.4"/><path d="M224.8,680.5 q-1.5,7.3 7.3,12.4" fill="none" stroke-width="1.1"/><path d="M233.2,686.9 q-2.0,9.6 8.8,16.0" fill="none" stroke-width="1.4"/><path d="M237.2,683.9 q-1.5,8.0 8.0,13.6" fill="none" stroke-width="1.1"/><line x1="239.4" y1="696.1" x2="253.4" y2="698.6" stroke-width="1.1"/><line x1="245.4" y1="691.1" x2="253.1" y2="696.3" stroke-width="2.2"/><line x1="241.4" y1="699.1" x2="251.4" y2="700.6" stroke-width="1.0"/><line x1="252.8" y1="702.2" x2="266.8" y2="704.7" stroke-width="1.1"/><line x1="258.8" y1="697.2" x2="269.3" y2="704.2" stroke-width="2.2"/><line x1="254.8" y1="705.2" x2="264.8" y2="706.7" stroke-width="1.0"/><line x1="266.5" y1="706.7" x2="280.5" y2="709.2" stroke-width="1.1"/><line x1="272.5" y1="701.7" x2="280.6" y2="707.2" stroke-width="2.2"/><line x1="280.2" y1="711.1" x2="294.2" y2="713.6" stroke-width="1.1"/><line x1="286.2" y1="706.1" x2="296.5" y2="713.0" stroke-width="2.2"/><line x1="293.0" y1="715.8" x2="307.0" y2="718.3" stroke-width="1.1"/><line x1="299.0" y1="710.8" x2="307.1" y2="716.3" stroke-width="2.2"/><line x1="295.0" y1="718.8" x2="305.0" y2="720.3" stroke-width="1.0"/><line x1="304.8" y1="719.5" x2="318.8" y2="722.0" stroke-width="1.1"/><line x1="310.8" y1="714.5" x2="320.4" y2="721.0" stroke-width="2.2"/><line x1="318.3" y1="725.4" x2="332.3" y2="727.9" stroke-width="1.1"/><line x1="324.3" y1="720.4" x2="333.7" y2="726.7" stroke-width="2.2"/><line x1="320.3" y1="728.4" x2="330.3" y2="729.9" stroke-width="1.0"/><line x1="330.6" y1="728.4" x2="344.6" y2="730.9" stroke-width="1.1"/><line x1="336.6" y1="723.4" x2="346.5" y2="730.1" stroke-width="2.2"/><line x1="345.0" y1="732.9" x2="359.0" y2="735.4" stroke-width="1.1"/><line x1="351.0" y1="727.9" x2="359.3" y2="733.5" stroke-width="2.2"/><line x1="347.0" y1="735.9" x2="357.0" y2="737.4" stroke-width="1.0"/><line x1="356.8" y1="738.1" x2="370.8" y2="740.6" stroke-width="1.1"/><line x1="362.8" y1="733.1" x2="372.0" y2="739.3" stroke-width="2.2"/><line x1="358.8" y1="741.1" x2="368.8" y2="742.6" stroke-width="1.0"/><path d="M133.7,662.5 q-2.0,9.5 8.7,15.9" fill="none" stroke-width="1.4"/><path d="M137.7,659.5 q-1.5,7.9 7.9,13.5" fill="none" stroke-width="1.1"/><line x1="140.7" y1="664.5" x2="145.7" y2="670.5" stroke-width="2.6"/><path d="M147.6,666.5 q-2.0,9.6 8.8,15.9" fill="none" stroke-width="1.4"/><path d="M151.6,663.5 q-1.5,8.0 8.0,13.5" fill="none" stroke-width="1.1"/><path d="M161.3,671.9 q-2.0,7.6 7.0,12.7" fill="none" stroke-width="1.4"/><path d="M165.3,668.9 q-1.5,6.4 6.4,10.8" fill="none" stroke-width="1.1"/><path d="M172.7,677.0 q-2.0,8.1 7.4,13.5" fill="none" stroke-width="1.4"/><path d="M176.7,674.0 q-1.5,6.7 6.7,11.5" fill="none" stroke-width="1.1"/><path d="M186.2,681.5 q-2.0,8.7 8.0,14.5" fill="none" stroke-width="1.4"/><path d="M190.2,678.5 q-1.5,7.2 7.2,12.3" fill="none" stroke-width="1.1"/><line x1="193.2" y1="683.5" x2="198.2" y2="689.5" stroke-width="2.6"/><path d="M199.6,685.5 q-2.0,7.7 7.0,12.8" fill="none" stroke-width="1.4"/><path d="M203.6,682.5 q-1.5,6.4 6.4,10.9" fill="none" stroke-width="1.1"/><path d="M212.7,690.6 q-2.0,8.2 7.5,13.7" fill="none" stroke-width="1.4"/><path d="M216.7,687.6 q-1.5,6.8 6.8,11.6" fill="none" stroke-width="1.1"/><path d="M225.0,694.8 q-2.0,7.9 7.3,13.2" fill="none" stroke-width="1.4"/><path d="M229.0,691.8 q-1.5,6.6 6.6,11.2" fill="none" stroke-width="1.1"/><line x1="238.0" y1="699.0" x2="246.9" y2="705.0" stroke-width="4.0"/><line x1="245.1" y1="708.2" x2="259.1" y2="710.7" stroke-width="1.1"/><line x1="251.1" y1="703.2" x2="259.5" y2="709.0" stroke-width="2.2"/><line x1="247.1" y1="711.2" x2="257.1" y2="712.7" stroke-width="1.0"/><line x1="265.3" y1="709.1" x2="276.6" y2="716.7" stroke-width="4.0"/><line x1="261.3" y1="717.1" x2="271.3" y2="718.6" stroke-width="1.0"/><line x1="271.6" y1="717.3" x2="285.6" y2="719.8" stroke-width="1.1"/><line x1="277.6" y1="712.3" x2="287.8" y2="719.2" stroke-width="2.2"/><line x1="284.9" y1="723.4" x2="298.9" y2="725.9" stroke-width="1.1"/><line x1="290.9" y1="718.4" x2="300.2" y2="724.7" stroke-width="2.2"/><line x1="297.6" y1="726.8" x2="311.6" y2="729.3" stroke-width="1.1"/><line x1="303.6" y1="721.8" x2="313.1" y2="728.2" stroke-width="2.2"/><line x1="310.9" y1="732.2" x2="324.9" y2="734.7" stroke-width="1.1"/><line x1="316.9" y1="727.2" x2="325.4" y2="733.0" stroke-width="2.2"/><line x1="323.0" y1="737.0" x2="337.0" y2="739.5" stroke-width="1.1"/><line x1="329.0" y1="732.0" x2="337.1" y2="737.5" stroke-width="2.2"/><line x1="325.0" y1="740.0" x2="335.0" y2="741.5" stroke-width="1.0"/><line x1="336.8" y1="742.0" x2="350.8" y2="744.5" stroke-width="1.1"/><line x1="342.8" y1="737.0" x2="353.0" y2="744.0" stroke-width="2.2"/><line x1="349.3" y1="745.5" x2="363.3" y2="748.0" stroke-width="1.1"/><line x1="355.3" y1="740.5" x2="363.6" y2="746.1" stroke-width="2.2"/><path d="M127.0,664.5 q-2.0,10.0 9.1,16.6" fill="none" stroke-width="1.4"/><path d="M131.0,661.5 q-1.5,8.3 8.3,14.1" fill="none" stroke-width="1.1"/><path d="M140.1,669.9 q-2.0,8.4 7.7,14.0" fill="none" stroke-width="1.4"/><path d="M144.1,666.9 q-1.5,7.0 7.0,11.9" fill="none" stroke-width="1.1"/><path d="M153.1,675.0 q-2.0,8.5 7.8,14.2" fill="none" stroke-width="1.4"/><path d="M157.1,672.0 q-1.5,7.1 7.1,12.1" fill="none" stroke-width="1.1"/><path d="M166.3,678.6 q-2.0,8.2 7.5,13.7" fill="none" stroke-width="1.4"/><path d="M170.3,675.6 q-1.5,6.9 6.9,11.7" fill="none" stroke-width="1.1"/><line x1="173.3" y1="680.6" x2="178.3" y2="686.6" stroke-width="2.6"/><path d="M178.3,684.5 q-2.0,8.1 7.5,13.6" fill="none" stroke-width="1.4"/><path d="M182.3,681.5 q-1.5,6.8 6.8,11.5" fill="none" stroke-width="1.1"/><path d="M191.0,689.2 q-2.0,8.6 7.9,14.3" fill="none" stroke-width="1.4"/><path d="M195.0,686.2 q-1.5,7.2 7.2,12.2" fill="none" stroke-width="1.1"/><path d="M204.1,693.2 q-2.0,9.6 8.8,16.1" fill="none" stroke-width="1.4"/><path d="M208.1,690.2 q-1.5,8.0 8.0,13.7" fill="none" stroke-width="1.1"/><line x1="211.1" y1="695.2" x2="216.1" y2="701.2" stroke-width="2.6"/><path d="M217.1,697.4 q-2.0,9.5 8.7,15.8" fill="none" stroke-width="1.4"/><path d="M221.1,694.4 q-1.5,7.9 7.9,13.5" fill="none" stroke-width="1.1"/><path d="M230.0,701.8 q-2.0,9.9 9.1,16.6" fill="none" stroke-width="1.4"/><path d="M234.0,698.8 q-1.5,8.3 8.3,14.1" fill="none" stroke-width="1.1"/><line x1="237.0" y1="703.8" x2="242.0" y2="709.8" stroke-width="2.6"/><line x1="243.1" y1="707.5" x2="254.2" y2="715.0" stroke-width="4.0"/><line x1="257.4" y1="712.1" x2="266.7" y2="718.3" stroke-width="4.0"/><line x1="264.5" y1="721.0" x2="278.5" y2="723.5" stroke-width="1.1"/><line x1="270.5" y1="716.0" x2="281.2" y2="723.3" stroke-width="2.2"/><line x1="276.9" y1="726.4" x2="290.9" y2="728.9" stroke-width="1.1"/><line x1="282.9" y1="721.4" x2="292.0" y2="727.5" stroke-width="2.2"/><line x1="289.2" y1="729.9" x2="303.2" y2="732.4" stroke-width="1.1"/><line x1="295.2" y1="724.9" x2="304.3" y2="731.0" stroke-width="2.2"/><line x1="303.8" y1="734.4" x2="317.8" y2="736.9" stroke-width="1.1"/><line x1="309.8" y1="729.4" x2="318.3" y2="735.2" stroke-width="2.2"/><line x1="316.9" y1="739.4" x2="330.9" y2="741.9" stroke-width="1.1"/><line x1="322.9" y1="734.4" x2="333.1" y2="741.3" stroke-width="2.2"/><line x1="329.8" y1="743.0" x2="343.8" y2="745.5" stroke-width="1.1"/><line x1="335.8" y1="738.0" x2="346.1" y2="745.0" stroke-width="2.2"/><line x1="331.8" y1="746.0" x2="341.8" y2="747.5" stroke-width="1.0"/><line x1="342.5" y1="748.5" x2="356.5" y2="751.0" stroke-width="1.1"/><line x1="348.5" y1="743.5" x2="357.1" y2="749.3" stroke-width="2.2"/><line x1="354.9" y1="752.2" x2="368.9" y2="754.7" stroke-width="1.1"/><line x1="360.9" y1="747.2" x2="368.6" y2="752.4" stroke-width="2.2"/><path d="M131.4,677.4 q-2.0,8.5 7.8,14.2" fill="none" stroke-width="1.4"/><path d="M135.4,674.4 q-1.5,7.1 7.1,12.1" fill="none" stroke-width="1.1"/><path d="M144.6,682.9 q-2.0,8.8 8.1,14.7" fill="none" stroke-width="1.4"/><path d="M148.6,679.9 q-1.5,7.3 7.3,12.5" fill="none" stroke-width="1.1"/><path d="M158.7,685.7 q-2.0,10.0 9.1,16.6" fill="none" stroke-width="1.4"/><path d="M162.7,682.7 q-1.5,8.3 8.3,14.1" fill="none" stroke-width="1.1"/><path d="M170.7,691.1 q-2.0,7.3 6.7,12.2" fill="none" stroke-width="1.4"/><path d="M174.7,688.1 q-1.5,6.1 6.1,10.4" fill="none" stroke-width="1.1"/><path d="M185.1,696.0 q-2.0,10.1 9.3,16.9" fill="none" stroke-width="1.4"/><path d="M189.1,693.0 q-1.5,8.4 8.4,14.4" fill="none" stroke-width="1.1"/><path d="M197.9,701.1 q-2.0,10.0 9.1,16.6" fill="none" stroke-width="1.4"/><path d="M201.9,698.1 q-1.5,8.3 8.3,14.1" fill="none" stroke-width="1.1"/><path d="M210.2,704.1 q-2.0,10.1 9.2,16.8" fill="none" stroke-width="1.4"/><path d="M214.2,701.1 q-1.5,8.4 8.4,14.2" fill="none" stroke-width="1.1"/><line x1="217.2" y1="706.1" x2="222.2" y2="712.1" stroke-width="2.6"/><line x1="223.4" y1="709.8" x2="232.6" y2="716.0" stroke-width="4.0"/><line x1="219.4" y1="717.8" x2="229.4" y2="719.3" stroke-width="1.0"/><line x1="235.2" y1="714.0" x2="245.0" y2="720.6" stroke-width="4.0"/><line x1="250.1" y1="719.5" x2="259.5" y2="725.9" stroke-width="4.0"/><line x1="262.8" y1="722.7" x2="272.4" y2="729.2" stroke-width="4.0"/><line x1="258.8" y1="730.7" x2="268.8" y2="732.2" stroke-width="1.0"/><line x1="270.0" y1="732.8" x2="284.0" y2="735.3" stroke-width="1.1"/><line x1="276.0" y1="727.8" x2="283.7" y2="733.0" stroke-width="2.2"/><line x1="283.1" y1="737.3" x2="297.1" y2="739.8" stroke-width="1.1"/><path d="M289.1,735.3 l6,-3.5 l7,3.5 l-6,4.5 z" fill="none" stroke-width="2.4"/><line x1="285.1" y1="740.3" x2="295.1" y2="741.8" stroke-width="1.0"/><line x1="295.5" y1="743.2" x2="309.5" y2="745.7" stroke-width="1.1"/><line x1="301.5" y1="738.2" x2="311.8" y2="745.1" stroke-width="2.2"/><line x1="297.5" y1="746.2" x2="307.5" y2="747.7" stroke-width="1.0"/><line x1="307.5" y1="746.8" x2="321.5" y2="749.3" stroke-width="1.1"/><line x1="313.5" y1="741.8" x2="321.6" y2="747.3" stroke-width="2.2"/><line x1="320.5" y1="751.6" x2="334.5" y2="754.1" stroke-width="1.1"/><line x1="326.5" y1="746.6" x2="337.1" y2="753.8" stroke-width="2.2"/><line x1="333.3" y1="755.8" x2="347.3" y2="758.3" stroke-width="1.1"/><path d="M339.3,753.8 l6,-3.5 l7,3.5 l-6,4.5 z" fill="none" stroke-width="2.4"/><line x1="347.4" y1="760.9" x2="361.4" y2="763.4" stroke-width="1.1"/><line x1="353.4" y1="755.9" x2="363.8" y2="762.9" stroke-width="2.2"/><path d="M138.1,683.9 q-2.0,9.6 8.8,16.1" fill="none" stroke-width="1.4"/><path d="M142.1,680.9 q-1.5,8.0 8.0,13.7" fill="none" stroke-width="1.1"/><line x1="145.1" y1="685.9" x2="150.1" y2="691.9" stroke-width="2.6"/><path d="M150.9,689.6 q-2.0,8.1 7.4,13.5" fill="none" stroke-width="1.4"/><path d="M154.9,686.6 q-1.5,6.7 6.7,11.5" fill="none" stroke-width="1.1"/><line x1="157.9" y1="691.6" x2="162.9" y2="697.6" stroke-width="2.6"/><path d="M163.0,694.3 q-2.0,8.8 8.1,14.7" fill="none" stroke-width="1.4"/><path d="M167.0,691.3 q-1.5,7.3 7.3,12.5" fill="none" stroke-width="1.1"/><path d="M175.8,698.8 q-2.0,8.1 7.4,13.5" fill="none" stroke-width="1.4"/><path d="M179.8,695.8 q-1.5,6.8 6.8,11.5" fill="none" stroke-width="1.1"/><line x1="182.8" y1="700.8" x2="187.8" y2="706.8" stroke-width="2.6"/><path d="M188.9,702.4 q-2.0,7.7 7.0,12.8" fill="none" stroke-width="1.4"/><path d="M192.9,699.4 q-1.5,6.4 6.4,10.9" fill="none" stroke-width="1.1"/><line x1="195.9" y1="704.4" x2="200.9" y2="710.4" stroke-width="2.6"/><path d="M203.5,707.5 q-2.0,9.5 8.7,15.8" fill="none" stroke-width="1.4"/><path d="M207.5,704.5 q-1.5,7.9 7.9,13.4" fill="none" stroke-width="1.1"/><path d="M215.5,711.9 q-2.0,10.0 9.2,16.7" fill="none" stroke-width="1.4"/><path d="M219.5,708.9 q-1.5,8.4 8.4,14.2" fill="none" stroke-width="1.1"/><line x1="222.5" y1="713.9" x2="227.5" y2="719.9" stroke-width="2.6"/><path d="M229.4,720.6 l6,-3.5 l7,3.5 l-6,4.5 z" fill="none" stroke-width="2.4"/><line x1="241.8" y1="721.8" x2="252.2" y2="728.7" stroke-width="4.0"/><line x1="255.5" y1="727.1" x2="264.6" y2="733.3" stroke-width="4.0"/><line x1="266.9" y1="731.6" x2="277.8" y2="738.9" stroke-width="4.0"/><line x1="262.9" y1="739.6" x2="272.9" y2="741.1" stroke-width="1.0"/><line x1="274.9" y1="741.2" x2="288.9" y2="743.7" stroke-width="1.1"/><line x1="280.9" y1="736.2" x2="289.2" y2="741.8" stroke-width="2.2"/><line x1="287.2" y1="744.5" x2="301.2" y2="747.0" stroke-width="1.1"/><line x1="293.2" y1="739.5" x2="300.8" y2="744.6" stroke-width="2.2"/><line x1="289.2" y1="747.5" x2="299.2" y2="749.0" stroke-width="1.0"/><line x1="299.9" y1="749.2" x2="313.9" y2="751.7" stroke-width="1.1"/><line x1="305.9" y1="744.2" x2="314.0" y2="749.7" stroke-width="2.2"/><line x1="313.3" y1="754.4" x2="327.3" y2="756.9" stroke-width="1.1"/><line x1="319.3" y1="749.4" x2="330.0" y2="756.6" stroke-width="2.2"/><line x1="327.2" y1="759.3" x2="341.2" y2="761.8" stroke-width="1.1"/><line x1="333.2" y1="754.3" x2="341.8" y2="760.1" stroke-width="2.2"/><line x1="329.2" y1="762.3" x2="339.2" y2="763.8" stroke-width="1.0"/><line x1="340.4" y1="762.9" x2="354.4" y2="765.4" stroke-width="1.1"/><line x1="346.4" y1="757.9" x2="354.6" y2="763.5" stroke-width="2.2"/><line x1="352.6" y1="767.4" x2="366.6" y2="769.9" stroke-width="1.1"/><line x1="358.6" y1="762.4" x2="369.0" y2="769.4" stroke-width="2.2"/><path d="M130.1,691.3 q-2.0,8.1 7.5,13.6" fill="none" stroke-width="1.4"/><path d="M134.1,688.3 q-1.5,6.8 6.8,11.5" fill="none" stroke-width="1.1"/><path d="M142.7,696.6 q-2.0,8.3 7.7,13.9" fill="none" stroke-width="1.4"/><path d="M146.7,693.6 q-1.5,7.0 7.0,11.8" fill="none" stroke-width="1.1"/><line x1="149.7" y1="698.6" x2="154.7" y2="704.6" stroke-width="2.6"/><path d="M156.1,701.1 q-2.0,7.5 6.9,12.6" fill="none" stroke-width="1.4"/><path d="M160.1,698.1 q-1.5,6.3 6.3,10.7" fill="none" stroke-width="1.1"/><path d="M169.1,706.5 q-2.0,8.4 7.7,14.1" fill="none" stroke-width="1.4"/><path d="M173.1,703.5 q-1.5,7.0 7.0,12.0" fill="none" stroke-width="1.1"/><line x1="176.1" y1="708.5" x2="181.1" y2="714.5" stroke-width="2.6"/><path d="M182.1,710.8 q-2.0,8.7 7.9,14.4" fill="none" stroke-width="1.4"/><path d="M186.1,707.8 q-1.5,7.2 7.2,12.3" fill="none" stroke-width="1.1"/><path d="M194.5,715.2 q-2.0,7.3 6.7,12.2" fill="none" stroke-width="1.4"/><path d="M198.5,712.2 q-1.5,6.1 6.1,10.3" fill="none" stroke-width="1.1"/><line x1="201.5" y1="717.2" x2="206.5" y2="723.2" stroke-width="2.6"/><path d="M207.2,719.2 q-2.0,7.7 7.1,12.9" fill="none" stroke-width="1.4"/><path d="M211.2,716.2 q-1.5,6.4 6.4,10.9" fill="none" stroke-width="1.1"/><line x1="214.2" y1="721.2" x2="219.2" y2="727.2" stroke-width="2.6"/><line x1="221.6" y1="724.6" x2="231.8" y2="731.4" stroke-width="4.0"/><line x1="217.6" y1="732.6" x2="227.6" y2="734.1" stroke-width="1.0"/><path d="M234.5,732.5 l6,-3.5 l7,3.5 l-6,4.5 z" fill="none" stroke-width="2.4"/><line x1="230.5" y1="737.5" x2="240.5" y2="739.0" stroke-width="1.0"/><line x1="245.9" y1="734.1" x2="254.7" y2="740.0" stroke-width="4.0"/><line x1="259.5" y1="737.8" x2="271.0" y2="745.5" stroke-width="4.0"/><line x1="272.9" y1="743.7" x2="283.6" y2="750.9" stroke-width="4.0"/><line x1="268.9" y1="751.7" x2="278.9" y2="753.2" stroke-width="1.0"/><line x1="279.1" y1="751.6" x2="293.1" y2="754.1" stroke-width="1.1"/><line x1="285.1" y1="746.6" x2="294.6" y2="753.0" stroke-width="2.2"/><line x1="281.1" y1="754.6" x2="291.1" y2="756.1" stroke-width="1.0"/><line x1="292.5" y1="756.9" x2="306.5" y2="759.4" stroke-width="1.1"/><line x1="298.5" y1="751.9" x2="308.9" y2="758.9" stroke-width="2.2"/><line x1="294.5" y1="759.9" x2="304.5" y2="761.4" stroke-width="1.0"/><line x1="306.4" y1="761.2" x2="320.4" y2="763.7" stroke-width="1.1"/><line x1="312.4" y1="756.2" x2="321.7" y2="762.4" stroke-width="2.2"/><line x1="318.3" y1="766.8" x2="332.3" y2="769.3" stroke-width="1.1"/><line x1="324.3" y1="761.8" x2="334.4" y2="768.6" stroke-width="2.2"/><line x1="320.3" y1="769.8" x2="330.3" y2="771.3" stroke-width="1.0"/><line x1="331.7" y1="771.6" x2="345.7" y2="774.1" stroke-width="1.1"/><line x1="337.7" y1="766.6" x2="346.0" y2="772.2" stroke-width="2.2"/><line x1="333.7" y1="774.6" x2="343.7" y2="776.1" stroke-width="1.0"/><line x1="345.1" y1="775.0" x2="359.1" y2="777.5" stroke-width="1.1"/><path d="M351.1,773.0 l6,-3.5 l7,3.5 l-6,4.5 z" fill="none" stroke-width="2.4"/><line x1="347.1" y1="778.0" x2="357.1" y2="779.5" stroke-width="1.0"/><line x1="357.4" y1="779.7" x2="371.4" y2="782.2" stroke-width="1.1"/><line x1="363.4" y1="774.7" x2="372.5" y2="780.8" stroke-width="2.2"/><path d="M135.1,699.8 q-2.0,9.9 9.1,16.5" fill="none" stroke-width="1.4"/><path d="M139.1,696.8 q-1.5,8.3 8.3,14.1" fill="none" stroke-width="1.1"/><path d="M148.5,705.0 q-2.0,9.4 8.6,15.7" fill="none" stroke-width="1.4"/><path d="M152.5,702.0 q-1.5,7.8 7.8,13.3" fill="none" stroke-width="1.1"/><path d="M162.0,709.7 q-2.0,7.4 6.8,12.4" fill="none" stroke-width="1.4"/><path d="M166.0,706.7 q-1.5,6.2 6.2,10.5" fill="none" stroke-width="1.1"/><path d="M173.4,714.2 q-2.0,9.1 8.4,15.2" fill="none" stroke-width="1.4"/><path d="M177.4,711.2 q-1.5,7.6 7.6,12.9" fill="none" stroke-width="1.1"/><path d="M186.8,717.6 q-2.0,7.7 7.1,12.9" fill="none" stroke-width="1.4"/><path d="M190.8,714.6 q-1.5,6.4 6.4,10.9" fill="none" stroke-width="1.1"/><line x1="193.8" y1="719.6" x2="198.8" y2="725.6" stroke-width="2.6"/><path d="M199.3,721.9 q-2.0,9.7 8.9,16.1" fill="none" stroke-width="1.4"/><path d="M203.3,718.9 q-1.5,8.1 8.1,13.7" fill="none" stroke-width="1.1"/><line x1="213.8" y1="728.2" x2="223.8" y2="734.9" stroke-width="4.0"/><line x1="225.3" y1="731.8" x2="236.5" y2="739.4" stroke-width="4.0"/><line x1="221.3" y1="739.8" x2="231.3" y2="741.3" stroke-width="1.0"/><line x1="239.4" y1="735.6" x2="250.6" y2="743.2" stroke-width="4.0"/><line x1="252.7" y1="740.3" x2="263.8" y2="747.8" stroke-width="4.0"/><line x1="248.7" y1="748.3" x2="258.7" y2="749.8" stroke-width="1.0"/><line x1="265.7" y1="745.5" x2="274.6" y2="751.5" stroke-width="4.0"/><line x1="261.7" y1="753.5" x2="271.7" y2="755.0" stroke-width="1.0"/><line x1="278.2" y1="749.6" x2="288.1" y2="756.3" stroke-width="4.0"/><line x1="285.4" y1="759.5" x2="299.4" y2="762.0" stroke-width="1.1"/><path d="M291.4,757.5 l6,-3.5 l7,3.5 l-6,4.5 z" fill="none" stroke-width="2.4"/><line x1="298.6" y1="764.7" x2="312.6" y2="767.2" stroke-width="1.1"/><line x1="304.6" y1="759.7" x2="312.3" y2="764.9" stroke-width="2.2"/><line x1="311.4" y1="770.0" x2="325.4" y2="772.5" stroke-width="1.1"/><line x1="317.4" y1="765.0" x2="326.2" y2="771.0" stroke-width="2.2"/><line x1="313.4" y1="773.0" x2="323.4" y2="774.5" stroke-width="1.0"/><line x1="323.3" y1="773.4" x2="337.3" y2="775.9" stroke-width="1.1"/><line x1="329.3" y1="768.4" x2="338.7" y2="774.7" stroke-width="2.2"/><line x1="325.3" y1="776.4" x2="335.3" y2="777.9" stroke-width="1.0"/><line x1="337.3" y1="778.1" x2="351.3" y2="780.6" stroke-width="1.1"/><line x1="343.3" y1="773.1" x2="353.4" y2="779.9" stroke-width="2.2"/><line x1="349.3" y1="782.9" x2="363.3" y2="785.4" stroke-width="1.1"/><line x1="355.3" y1="777.9" x2="363.4" y2="783.4" stroke-width="2.2"/><path d="M128.2,707.1 q-2.0,9.0 8.3,15.0" fill="none" stroke-width="1.4"/><path d="M132.2,704.1 q-1.5,7.5 7.5,12.8" fill="none" stroke-width="1.1"/><path d="M140.3,711.2 q-2.0,10.1 9.3,16.8" fill="none" stroke-width="1.4"/><path d="M144.3,708.2 q-1.5,8.4 8.4,14.3" fill="none" stroke-width="1.1"/><path d="M152.7,716.9 q-2.0,9.5 8.7,15.8" fill="none" stroke-width="1.4"/><path d="M156.7,713.9 q-1.5,7.9 7.9,13.4" fill="none" stroke-width="1.1"/><line x1="159.7" y1="718.9" x2="164.7" y2="724.9" stroke-width="2.6"/><path d="M165.9,719.9 q-2.0,9.7 8.9,16.2" fill="none" stroke-width="1.4"/><path d="M169.9,716.9 q-1.5,8.1 8.1,13.8" fill="none" stroke-width="1.1"/><line x1="172.9" y1="721.9" x2="177.9" y2="727.9" stroke-width="2.6"/><path d="M180.1,726.0 q-2.0,10.2 9.3,16.9" fill="none" stroke-width="1.4"/><path d="M184.1,723.0 q-1.5,8.5 8.5,14.4" fill="none" stroke-width="1.1"/><line x1="187.1" y1="728.0" x2="192.1" y2="734.0" stroke-width="2.6"/><path d="M193.0,729.2 q-2.0,7.5 6.9,12.6" fill="none" stroke-width="1.4"/><path d="M197.0,726.2 q-1.5,6.3 6.3,10.7" fill="none" stroke-width="1.1"/><line x1="204.7" y1="735.1" x2="216.2" y2="742.9" stroke-width="4.0"/><line x1="200.7" y1="743.1" x2="210.7" y2="744.6" stroke-width="1.0"/><line x1="219.2" y1="739.5" x2="230.8" y2="747.3" stroke-width="4.0"/><line x1="215.2" y1="747.5" x2="225.2" y2="749.0" stroke-width="1.0"/><line x1="230.5" y1="744.6" x2="241.4" y2="751.9" stroke-width="4.0"/><path d="M243.9,751.3 l6,-3.5 l7,3.5 l-6,4.5 z" fill="none" stroke-width="2.4"/><line x1="239.9" y1="756.3" x2="249.9" y2="757.8" stroke-width="1.0"/><line x1="257.8" y1="753.4" x2="269.0" y2="761.0" stroke-width="4.0"/><path d="M269.9,761.1 l6,-3.5 l7,3.5 l-6,4.5 z" fill="none" stroke-width="2.4"/><line x1="265.9" y1="766.1" x2="275.9" y2="767.6" stroke-width="1.0"/><line x1="284.2" y1="761.5" x2="295.5" y2="769.1" stroke-width="4.0"/><line x1="280.2" y1="769.5" x2="290.2" y2="771.0" stroke-width="1.0"/><line x1="290.5" y1="770.9" x2="304.5" y2="773.4" stroke-width="1.1"/><line x1="296.5" y1="765.9" x2="306.7" y2="772.9" stroke-width="2.2"/><line x1="292.5" y1="773.9" x2="302.5" y2="775.4" stroke-width="1.0"/><line x1="302.8" y1="775.6" x2="316.8" y2="778.1" stroke-width="1.1"/><path d="M308.8,773.6 l6,-3.5 l7,3.5 l-6,4.5 z" fill="none" stroke-width="2.4"/><line x1="316.0" y1="780.3" x2="330.0" y2="782.8" stroke-width="1.1"/><line x1="322.0" y1="775.3" x2="330.7" y2="781.2" stroke-width="2.2"/><line x1="318.0" y1="783.3" x2="328.0" y2="784.8" stroke-width="1.0"/><line x1="329.5" y1="785.1" x2="343.5" y2="787.6" stroke-width="1.1"/><line x1="335.5" y1="780.1" x2="346.1" y2="787.3" stroke-width="2.2"/><line x1="331.5" y1="788.1" x2="341.5" y2="789.6" stroke-width="1.0"/><line x1="342.3" y1="790.1" x2="356.3" y2="792.6" stroke-width="1.1"/><line x1="348.3" y1="785.1" x2="357.9" y2="791.5" stroke-width="2.2"/><line x1="344.3" y1="793.1" x2="354.3" y2="794.6" stroke-width="1.0"/><line x1="355.3" y1="795.8" x2="369.3" y2="798.3" stroke-width="1.1"/><line x1="361.3" y1="790.8" x2="371.1" y2="797.3" stroke-width="2.2"/><path d="M133.5,713.6 q-2.0,9.5 8.7,15.8" fill="none" stroke-width="1.4"/><path d="M137.5,710.6 q-1.5,7.9 7.9,13.5" fill="none" stroke-width="1.1"/><path d="M146.5,718.5 q-2.0,9.8 9.0,16.4" fill="none" stroke-width="1.4"/><path d="M150.5,715.5 q-1.5,8.2 8.2,13.9" fill="none" stroke-width="1.1"/><path d="M158.3,723.0 q-2.0,9.1 8.3,15.2" fill="none" stroke-width="1.4"/><path d="M162.3,720.0 q-1.5,7.6 7.6,12.9" fill="none" stroke-width="1.1"/><line x1="165.3" y1="725.0" x2="170.3" y2="731.0" stroke-width="2.6"/><path d="M171.9,727.8 q-2.0,9.2 8.4,15.3" fill="none" stroke-width="1.4"/><path d="M175.9,724.8 q-1.5,7.7 7.7,13.0" fill="none" stroke-width="1.1"/><line x1="178.9" y1="729.8" x2="183.9" y2="735.8" stroke-width="2.6"/><path d="M185.1,732.3 q-2.0,8.9 8.2,14.9" fill="none" stroke-width="1.4"/><path d="M189.1,729.3 q-1.5,7.4 7.4,12.6" fill="none" stroke-width="1.1"/><line x1="197.0" y1="737.1" x2="207.8" y2="744.3" stroke-width="4.0"/><line x1="209.8" y1="741.8" x2="219.5" y2="748.3" stroke-width="4.0"/><line x1="205.8" y1="749.8" x2="215.8" y2="751.3" stroke-width="1.0"/><line x1="223.4" y1="745.9" x2="233.3" y2="752.7" stroke-width="4.0"/><line x1="219.4" y1="753.9" x2="229.4" y2="755.4" stroke-width="1.0"/><line x1="237.0" y1="752.0" x2="246.8" y2="758.6" stroke-width="4.0"/><line x1="250.6" y1="756.7" x2="261.5" y2="764.1" stroke-width="4.0"/><line x1="246.6" y1="764.7" x2="256.6" y2="766.2" stroke-width="1.0"/><line x1="262.4" y1="761.0" x2="273.4" y2="768.4" stroke-width="4.0"/><line x1="258.4" y1="769.0" x2="268.4" y2="770.5" stroke-width="1.0"/><line x1="275.2" y1="766.0" x2="284.8" y2="772.5" stroke-width="4.0"/><line x1="271.2" y1="774.0" x2="281.2" y2="775.5" stroke-width="1.0"/><line x1="283.1" y1="773.6" x2="297.1" y2="776.1" stroke-width="1.1"/><line x1="289.1" y1="768.6" x2="299.6" y2="775.7" stroke-width="2.2"/><line x1="285.1" y1="776.6" x2="295.1" y2="778.1" stroke-width="1.0"/><line x1="296.1" y1="778.6" x2="310.1" y2="781.1" stroke-width="1.1"/><line x1="302.1" y1="773.6" x2="312.2" y2="780.4" stroke-width="2.2"/><line x1="309.1" y1="784.3" x2="323.1" y2="786.8" stroke-width="1.1"/><line x1="315.1" y1="779.3" x2="325.1" y2="786.1" stroke-width="2.2"/><line x1="320.9" y1="787.8" x2="334.9" y2="790.3" stroke-width="1.1"/><line x1="326.9" y1="782.8" x2="334.6" y2="788.0" stroke-width="2.2"/><line x1="334.0" y1="793.8" x2="348.0" y2="796.3" stroke-width="1.1"/><line x1="340.0" y1="788.8" x2="348.2" y2="794.3" stroke-width="2.2"/><line x1="347.9" y1="797.8" x2="361.9" y2="800.3" stroke-width="1.1"/><line x1="353.9" y1="792.8" x2="362.5" y2="798.5" stroke-width="2.2"/><path d="M125.2,722.3 q-2.0,8.6 7.9,14.4" fill="none" stroke-width="1.4"/><path d="M129.2,719.3 q-1.5,7.2 7.2,12.2" fill="none" stroke-width="1.1"/><path d="M137.6,726.6 q-2.0,9.4 8.6,15.7" fill="none" stroke-width="1.4"/><path d="M141.6,723.6 q-1.5,7.9 7.9,13.3" fill="none" stroke-width="1.1"/><line x1="144.6" y1="728.6" x2="149.6" y2="734.6" stroke-width="2.6"/><path d="M150.3,731.4 q-2.0,8.0 7.3,13.3" fill="none" stroke-width="1.4"/><path d="M154.3,728.4 q-1.5,6.7 6.7,11.3" fill="none" stroke-width="1.1"/><path d="M164.1,734.8 q-2.0,8.2 7.5,13.7" fill="none" stroke-width="1.4"/><path d="M168.1,731.8 q-1.5,6.9 6.9,11.7" fill="none" stroke-width="1.1"/><path d="M177.7,740.5 q-2.0,10.2 9.3,17.0" fill="none" stroke-width="1.4"/><path d="M181.7,737.5 q-1.5,8.5 8.5,14.4" fill="none" stroke-width="1.1"/><line x1="190.6" y1="745.5" x2="200.7" y2="752.4" stroke-width="4.0"/><line x1="186.6" y1="753.5" x2="196.6" y2="755.0" stroke-width="1.0"/><line x1="203.9" y1="750.4" x2="215.0" y2="757.8" stroke-width="4.0"/><path d="M216.4,756.2 l6,-3.5 l7,3.5 l-6,4.5 z" fill="none" stroke-width="2.4"/><line x1="229.6" y1="759.4" x2="240.5" y2="766.7" stroke-width="4.0"/><line x1="242.0" y1="764.0" x2="252.4" y2="771.0" stroke-width="4.0"/><line x1="255.6" y1="768.1" x2="265.3" y2="774.7" stroke-width="4.0"/><line x1="267.2" y1="771.9" x2="276.3" y2="778.1" stroke-width="4.0"/><line x1="263.2" y1="779.9" x2="273.2" y2="781.4" stroke-width="1.0"/><line x1="281.5" y1="777.2" x2="290.6" y2="783.3" stroke-width="4.0"/><line x1="287.1" y1="787.1" x2="301.1" y2="789.6" stroke-width="1.1"/><line x1="293.1" y1="782.1" x2="303.5" y2="789.1" stroke-width="2.2"/><line x1="301.6" y1="790.6" x2="315.6" y2="793.1" stroke-width="1.1"/><line x1="307.6" y1="785.6" x2="317.4" y2="792.2" stroke-width="2.2"/><line x1="303.6" y1="793.6" x2="313.6" y2="795.1" stroke-width="1.0"/><line x1="313.5" y1="795.6" x2="327.5" y2="798.1" stroke-width="1.1"/><line x1="319.5" y1="790.6" x2="329.1" y2="797.1" stroke-width="2.2"/><line x1="327.6" y1="800.0" x2="341.6" y2="802.5" stroke-width="1.1"/><line x1="333.6" y1="795.0" x2="343.7" y2="801.8" stroke-width="2.2"/><line x1="329.6" y1="803.0" x2="339.6" y2="804.5" stroke-width="1.0"/><line x1="339.6" y1="804.6" x2="353.6" y2="807.1" stroke-width="1.1"/><line x1="345.6" y1="799.6" x2="355.3" y2="806.2" stroke-width="2.2"/><line x1="341.6" y1="807.6" x2="351.6" y2="809.1" stroke-width="1.0"/><line x1="353.9" y1="809.8" x2="367.9" y2="812.3" stroke-width="1.1"/><path d="M359.9,807.8 l6,-3.5 l7,3.5 l-6,4.5 z" fill="none" stroke-width="2.4"/><line x1="355.9" y1="812.8" x2="365.9" y2="814.3" stroke-width="1.0"/><path d="M130.8,730.2 q-2.0,9.6 8.8,15.9" fill="none" stroke-width="1.4"/><path d="M134.8,727.2 q-1.5,8.0 8.0,13.5" fill="none" stroke-width="1.1"/><path d="M142.7,734.5 q-2.0,7.8 7.1,13.0" fill="none" stroke-width="1.4"/><path d="M146.7,731.5 q-1.5,6.5 6.5,11.0" fill="none" stroke-width="1.1"/><line x1="149.7" y1="736.5" x2="154.7" y2="742.5" stroke-width="2.6"/><path d="M156.3,739.2 q-2.0,10.2 9.3,17.0" fill="none" stroke-width="1.4"/><path d="M160.3,736.2 q-1.5,8.5 8.5,14.4" fill="none" stroke-width="1.1"/><path d="M168.4,742.9 q-2.0,8.5 7.8,14.2" fill="none" stroke-width="1.4"/><path d="M172.4,739.9 q-1.5,7.1 7.1,12.1" fill="none" stroke-width="1.1"/><line x1="182.1" y1="747.4" x2="193.2" y2="755.0" stroke-width="4.0"/><line x1="178.1" y1="755.4" x2="188.1" y2="756.9" stroke-width="1.0"/><path d="M195.4,754.3 l6,-3.5 l7,3.5 l-6,4.5 z" fill="none" stroke-width="2.4"/><line x1="208.1" y1="757.7" x2="218.3" y2="764.5" stroke-width="4.0"/><line x1="221.1" y1="761.5" x2="231.9" y2="768.8" stroke-width="4.0"/><line x1="233.4" y1="765.6" x2="242.3" y2="771.6" stroke-width="4.0"/><line x1="229.4" y1="773.6" x2="239.4" y2="775.1" stroke-width="1.0"/><line x1="246.7" y1="770.3" x2="255.5" y2="776.2" stroke-width="4.0"/><line x1="259.9" y1="776.2" x2="270.7" y2="783.5" stroke-width="4.0"/><line x1="255.9" y1="784.2" x2="265.9" y2="785.7" stroke-width="1.0"/><line x1="273.7" y1="780.5" x2="284.7" y2="787.9" stroke-width="4.0"/><path d="M285.7,788.0 l6,-3.5 l7,3.5 l-6,4.5 z" fill="none" stroke-width="2.4"/><line x1="281.7" y1="793.0" x2="291.7" y2="794.5" stroke-width="1.0"/><line x1="293.7" y1="794.4" x2="307.7" y2="796.9" stroke-width="1.1"/><line x1="299.7" y1="789.4" x2="307.2" y2="794.4" stroke-width="2.2"/><line x1="307.1" y1="797.7" x2="321.1" y2="800.2" stroke-width="1.1"/><line x1="313.1" y1="792.7" x2="322.1" y2="798.8" stroke-width="2.2"/><line x1="309.1" y1="800.7" x2="319.1" y2="802.2" stroke-width="1.0"/><line x1="319.7" y1="803.0" x2="333.7" y2="805.5" stroke-width="1.1"/><path d="M325.7,801.0 l6,-3.5 l7,3.5 l-6,4.5 z" fill="none" stroke-width="2.4"/><line x1="321.7" y1="806.0" x2="331.7" y2="807.5" stroke-width="1.0"/><line x1="332.8" y1="807.9" x2="346.8" y2="810.4" stroke-width="1.1"/><line x1="338.8" y1="802.9" x2="349.1" y2="810.0" stroke-width="2.2"/><line x1="345.3" y1="812.8" x2="359.3" y2="815.3" stroke-width="1.1"/><line x1="351.3" y1="807.8" x2="359.4" y2="813.2" stroke-width="2.2"/><line x1="347.3" y1="815.8" x2="357.3" y2="817.3" stroke-width="1.0"/><line x1="358.3" y1="817.0" x2="372.3" y2="819.5" stroke-width="1.1"/><line x1="364.3" y1="812.0" x2="373.8" y2="818.4" stroke-width="2.2"/><line x1="360.3" y1="820.0" x2="370.3" y2="821.5" stroke-width="1.0"/><path d="M136.4,741.0 q-2.0,9.4 8.6,15.7" fill="none" stroke-width="1.4"/><path d="M140.4,738.0 q-1.5,7.8 7.8,13.3" fill="none" stroke-width="1.1"/><path d="M149.5,745.2 q-2.0,9.3 8.5,15.5" fill="none" stroke-width="1.4"/><path d="M153.5,742.2 q-1.5,7.8 7.8,13.2" fill="none" stroke-width="1.1"/><path d="M162.1,749.5 q-2.0,9.7 8.9,16.2" fill="none" stroke-width="1.4"/><path d="M166.1,746.5 q-1.5,8.1 8.1,13.7" fill="none" stroke-width="1.1"/><path d="M174.8,757.1 l6,-3.5 l7,3.5 l-6,4.5 z" fill="none" stroke-width="2.4"/><line x1="187.8" y1="758.8" x2="198.9" y2="766.3" stroke-width="4.0"/><line x1="183.8" y1="766.8" x2="193.8" y2="768.3" stroke-width="1.0"/><line x1="200.8" y1="763.7" x2="210.1" y2="770.0" stroke-width="4.0"/><line x1="212.8" y1="768.3" x2="221.9" y2="774.4" stroke-width="4.0"/><line x1="226.5" y1="772.7" x2="235.2" y2="778.6" stroke-width="4.0"/><line x1="238.7" y1="778.3" x2="249.8" y2="785.8" stroke-width="4.0"/><line x1="251.9" y1="782.5" x2="261.9" y2="789.2" stroke-width="4.0"/><line x1="247.9" y1="790.5" x2="257.9" y2="792.0" stroke-width="1.0"/><line x1="266.1" y1="787.6" x2="275.6" y2="794.1" stroke-width="4.0"/><line x1="262.1" y1="795.6" x2="272.1" y2="797.1" stroke-width="1.0"/><line x1="278.3" y1="791.2" x2="287.4" y2="797.4" stroke-width="4.0"/><line x1="290.9" y1="797.4" x2="300.6" y2="803.9" stroke-width="4.0"/><line x1="286.9" y1="805.4" x2="296.9" y2="806.9" stroke-width="1.0"/><line x1="298.5" y1="805.9" x2="312.5" y2="808.4" stroke-width="1.1"/><line x1="304.5" y1="800.9" x2="313.7" y2="807.0" stroke-width="2.2"/><line x1="311.9" y1="810.2" x2="325.9" y2="812.7" stroke-width="1.1"/><line x1="317.9" y1="805.2" x2="327.3" y2="811.5" stroke-width="2.2"/><line x1="325.1" y1="814.6" x2="339.1" y2="817.1" stroke-width="1.1"/><line x1="331.1" y1="809.6" x2="341.0" y2="816.3" stroke-width="2.2"/><line x1="337.1" y1="820.8" x2="351.1" y2="823.3" stroke-width="1.1"/><line x1="343.1" y1="815.8" x2="353.6" y2="822.8" stroke-width="2.2"/><line x1="339.1" y1="823.8" x2="349.1" y2="825.3" stroke-width="1.0"/><line x1="351.4" y1="825.4" x2="365.4" y2="827.9" stroke-width="1.1"/><line x1="357.4" y1="820.4" x2="365.3" y2="825.8" stroke-width="2.2"/><path d="M128.0,743.9 q-2.0,10.2 9.3,17.0" fill="none" stroke-width="1.4"/><path d="M132.0,740.9 q-1.5,8.5 8.5,14.4" fill="none" stroke-width="1.1"/><path d="M140.6,748.7 q-2.0,8.6 7.9,14.3" fill="none" stroke-width="1.4"/><path d="M144.6,745.7 q-1.5,7.2 7.2,12.2" fill="none" stroke-width="1.1"/><path d="M153.3,753.8 q-2.0,8.0 7.4,13.4" fill="none" stroke-width="1.4"/><path d="M157.3,750.8 q-1.5,6.7 6.7,11.4" fill="none" stroke-width="1.1"/><line x1="166.0" y1="757.3" x2="175.6" y2="763.8" stroke-width="4.0"/><line x1="179.1" y1="762.0" x2="189.4" y2="768.9" stroke-width="4.0"/><line x1="192.2" y1="766.5" x2="203.2" y2="773.9" stroke-width="4.0"/><line x1="188.2" y1="774.5" x2="198.2" y2="776.0" stroke-width="1.0"/><line x1="205.1" y1="772.4" x2="216.7" y2="780.2" stroke-width="4.0"/><path d="M219.1,780.0 l6,-3.5 l7,3.5 l-6,4.5 z" fill="none" stroke-width="2.4"/><path d="M231.8,783.0 l6,-3.5 l7,3.5 l-6,4.5 z" fill="none" stroke-width="2.4"/><line x1="227.8" y1="788.0" x2="237.8" y2="789.5" stroke-width="1.0"/><line x1="245.4" y1="785.9" x2="255.6" y2="792.8" stroke-width="4.0"/><line x1="257.4" y1="789.7" x2="267.9" y2="796.8" stroke-width="4.0"/><line x1="271.7" y1="794.9" x2="280.9" y2="801.0" stroke-width="4.0"/><line x1="283.8" y1="799.0" x2="292.6" y2="804.9" stroke-width="4.0"/><line x1="279.8" y1="807.0" x2="289.8" y2="808.5" stroke-width="1.0"/><line x1="296.1" y1="804.8" x2="307.1" y2="812.2" stroke-width="4.0"/><line x1="292.1" y1="812.8" x2="302.1" y2="814.3" stroke-width="1.0"/><line x1="304.3" y1="813.8" x2="318.3" y2="816.3" stroke-width="1.1"/><line x1="310.3" y1="808.8" x2="319.7" y2="815.2" stroke-width="2.2"/><line x1="317.0" y1="817.5" x2="331.0" y2="820.0" stroke-width="1.1"/><line x1="323.0" y1="812.5" x2="331.5" y2="818.3" stroke-width="2.2"/><line x1="319.0" y1="820.5" x2="329.0" y2="822.0" stroke-width="1.0"/><line x1="329.3" y1="821.7" x2="343.3" y2="824.2" stroke-width="1.1"/><line x1="335.3" y1="816.7" x2="344.0" y2="822.5" stroke-width="2.2"/><line x1="342.2" y1="826.6" x2="356.2" y2="829.1" stroke-width="1.1"/><line x1="348.2" y1="821.6" x2="355.7" y2="826.6" stroke-width="2.2"/><line x1="356.3" y1="831.1" x2="370.3" y2="833.6" stroke-width="1.1"/><line x1="362.3" y1="826.1" x2="371.9" y2="832.6" stroke-width="2.2"/><path d="M132.8,756.9 q-2.0,9.1 8.3,15.1" fill="none" stroke-width="1.4"/><path d="M136.8,753.9 q-1.5,7.5 7.5,12.8" fill="none" stroke-width="1.1"/><path d="M145.4,760.9 q-2.0,9.0 8.3,15.0" fill="none" stroke-width="1.4"/><path d="M149.4,757.9 q-1.5,7.5 7.5,12.8" fill="none" stroke-width="1.1"/><line x1="158.3" y1="765.4" x2="169.3" y2="772.8" stroke-width="4.0"/><line x1="171.9" y1="769.6" x2="181.4" y2="775.9" stroke-width="4.0"/><line x1="185.3" y1="774.4" x2="194.8" y2="780.9" stroke-width="4.0"/><line x1="181.3" y1="782.4" x2="191.3" y2="783.9" stroke-width="1.0"/><line x1="198.3" y1="778.6" x2="209.4" y2="786.1" stroke-width="4.0"/><line x1="211.6" y1="783.0" x2="223.2" y2="790.8" stroke-width="4.0"/><line x1="223.3" y1="787.9" x2="234.0" y2="795.1" stroke-width="4.0"/><line x1="219.3" y1="795.9" x2="229.3" y2="797.4" stroke-width="1.0"/><line x1="236.9" y1="793.2" x2="248.1" y2="800.8" stroke-width="4.0"/><line x1="250.9" y1="797.9" x2="261.5" y2="805.0" stroke-width="4.0"/><line x1="246.9" y1="805.9" x2="256.9" y2="807.4" stroke-width="1.0"/><line x1="262.8" y1="802.1" x2="272.3" y2="808.6" stroke-width="4.0"/><line x1="258.8" y1="810.1" x2="268.8" y2="811.6" stroke-width="1.0"/><line x1="276.4" y1="806.0" x2="287.1" y2="813.2" stroke-width="4.0"/><line x1="289.0" y1="812.1" x2="298.1" y2="818.2" stroke-width="4.0"/><line x1="285.0" y1="820.1" x2="295.0" y2="821.6" stroke-width="1.0"/><line x1="302.0" y1="814.9" x2="311.7" y2="821.5" stroke-width="4.0"/><line x1="309.1" y1="826.2" x2="323.1" y2="828.7" stroke-width="1.1"/><line x1="315.1" y1="821.2" x2="325.0" y2="827.9" stroke-width="2.2"/><line x1="311.1" y1="829.2" x2="321.1" y2="830.7" stroke-width="1.0"/><line x1="322.7" y1="830.0" x2="336.7" y2="832.5" stroke-width="1.1"/><line x1="328.7" y1="825.0" x2="338.4" y2="831.5" stroke-width="2.2"/><line x1="324.7" y1="833.0" x2="334.7" y2="834.5" stroke-width="1.0"/><line x1="335.6" y1="835.5" x2="349.6" y2="838.0" stroke-width="1.1"/><line x1="341.6" y1="830.5" x2="352.2" y2="837.7" stroke-width="2.2"/><line x1="348.0" y1="839.1" x2="362.0" y2="841.6" stroke-width="1.1"/><line x1="354.0" y1="834.1" x2="362.4" y2="839.8" stroke-width="2.2"/><path d="M125.1,759.2 q-2.0,8.2 7.5,13.7" fill="none" stroke-width="1.4"/><path d="M129.1,756.2 q-1.5,6.8 6.8,11.6" fill="none" stroke-width="1.1"/><path d="M139.1,762.6 q-2.0,9.2 8.4,15.3" fill="none" stroke-width="1.4"/><path d="M143.1,759.6 q-1.5,7.6 7.6,13.0" fill="none" stroke-width="1.1"/><line x1="151.3" y1="767.9" x2="160.5" y2="774.1" stroke-width="4.0"/><line x1="164.1" y1="772.1" x2="173.4" y2="778.4" stroke-width="4.0"/><line x1="177.7" y1="776.2" x2="187.7" y2="783.0" stroke-width="4.0"/><line x1="173.7" y1="784.2" x2="183.7" y2="785.7" stroke-width="1.0"/><line x1="191.0" y1="781.6" x2="202.1" y2="789.1" stroke-width="4.0"/><line x1="187.0" y1="789.6" x2="197.0" y2="791.1" stroke-width="1.0"/><line x1="204.2" y1="785.5" x2="214.0" y2="792.1" stroke-width="4.0"/><line x1="200.2" y1="793.5" x2="210.2" y2="795.0" stroke-width="1.0"/><line x1="216.8" y1="790.6" x2="228.2" y2="798.3" stroke-width="4.0"/><line x1="212.8" y1="798.6" x2="222.8" y2="800.1" stroke-width="1.0"/><line x1="228.9" y1="795.9" x2="239.6" y2="803.2" stroke-width="4.0"/><line x1="224.9" y1="803.9" x2="234.9" y2="805.4" stroke-width="1.0"/><line x1="243.5" y1="801.1" x2="253.2" y2="807.7" stroke-width="4.0"/><line x1="255.8" y1="804.6" x2="267.2" y2="812.3" stroke-width="4.0"/><path d="M269.3,811.5 l6,-3.5 l7,3.5 l-6,4.5 z" fill="none" stroke-width="2.4"/><line x1="265.3" y1="816.5" x2="275.3" y2="818.0" stroke-width="1.0"/><line x1="282.4" y1="814.4" x2="292.2" y2="821.0" stroke-width="4.0"/><line x1="278.4" y1="822.4" x2="288.4" y2="823.9" stroke-width="1.0"/><line x1="294.5" y1="818.3" x2="305.9" y2="826.0" stroke-width="4.0"/><line x1="290.5" y1="826.3" x2="300.5" y2="827.8" stroke-width="1.0"/><line x1="301.7" y1="829.1" x2="315.7" y2="831.6" stroke-width="1.1"/><path d="M307.7,827.1 l6,-3.5 l7,3.5 l-6,4.5 z" fill="none" stroke-width="2.4"/><line x1="314.2" y1="832.9" x2="328.2" y2="835.4" stroke-width="1.1"/><line x1="320.2" y1="827.9" x2="329.1" y2="833.9" stroke-width="2.2"/><line x1="327.6" y1="837.4" x2="341.6" y2="839.9" stroke-width="1.1"/><line x1="333.6" y1="832.4" x2="342.0" y2="838.1" stroke-width="2.2"/><line x1="339.7" y1="841.1" x2="353.7" y2="843.6" stroke-width="1.1"/><line x1="345.7" y1="836.1" x2="356.3" y2="843.2" stroke-width="2.2"/><line x1="341.7" y1="844.1" x2="351.7" y2="845.6" stroke-width="1.0"/><line x1="353.7" y1="845.7" x2="367.7" y2="848.2" stroke-width="1.1"/><line x1="359.7" y1="840.7" x2="367.4" y2="845.9" stroke-width="2.2"/><line x1="355.7" y1="848.7" x2="365.7" y2="850.2" stroke-width="1.0"/><path d="M131.5,771.2 q-2.0,9.2 8.5,15.4" fill="none" stroke-width="1.4"/><path d="M135.5,768.2 q-1.5,7.7 7.7,13.1" fill="none" stroke-width="1.1"/><line x1="138.5" y1="773.2" x2="143.5" y2="779.2" stroke-width="2.6"/><line x1="142.8" y1="774.6" x2="152.8" y2="781.3" stroke-width="4.0"/><line x1="156.0" y1="780.2" x2="165.6" y2="786.7" stroke-width="4.0"/><path d="M170.4,787.6 l6,-3.5 l7,3.5 l-6,4.5 z" fill="none" stroke-width="2.4"/><line x1="183.3" y1="790.0" x2="194.4" y2="797.5" stroke-width="4.0"/><line x1="179.3" y1="798.0" x2="189.3" y2="799.5" stroke-width="1.0"/><line x1="196.6" y1="793.0" x2="206.0" y2="799.3" stroke-width="4.0"/><line x1="209.1" y1="798.6" x2="219.9" y2="805.9" stroke-width="4.0"/><line x1="205.1" y1="806.6" x2="215.1" y2="808.1" stroke-width="1.0"/><line x1="221.4" y1="803.2" x2="232.2" y2="810.4" stroke-width="4.0"/><line x1="235.5" y1="807.8" x2="245.6" y2="814.6" stroke-width="4.0"/><line x1="231.5" y1="815.8" x2="241.5" y2="817.3" stroke-width="1.0"/><line x1="247.5" y1="813.1" x2="257.7" y2="820.0" stroke-width="4.0"/><line x1="260.3" y1="816.7" x2="269.7" y2="823.0" stroke-width="4.0"/><line x1="274.4" y1="821.9" x2="284.1" y2="828.5" stroke-width="4.0"/><line x1="286.6" y1="825.3" x2="295.3" y2="831.2" stroke-width="4.0"/><line x1="299.3" y1="829.9" x2="309.4" y2="836.7" stroke-width="4.0"/><line x1="295.3" y1="837.9" x2="305.3" y2="839.4" stroke-width="1.0"/><line x1="306.8" y1="840.6" x2="320.8" y2="843.1" stroke-width="1.1"/><line x1="312.8" y1="835.6" x2="322.5" y2="842.2" stroke-width="2.2"/><line x1="308.8" y1="843.6" x2="318.8" y2="845.1" stroke-width="1.0"/><line x1="320.4" y1="845.1" x2="334.4" y2="847.6" stroke-width="1.1"/><line x1="326.4" y1="840.1" x2="336.3" y2="846.8" stroke-width="2.2"/><line x1="322.4" y1="848.1" x2="332.4" y2="849.6" stroke-width="1.0"/><line x1="332.1" y1="849.5" x2="346.1" y2="852.0" stroke-width="1.1"/><line x1="338.1" y1="844.5" x2="345.7" y2="849.6" stroke-width="2.2"/><line x1="346.0" y1="854.8" x2="360.0" y2="857.3" stroke-width="1.1"/><path d="M352.0,852.8 l6,-3.5 l7,3.5 l-6,4.5 z" fill="none" stroke-width="2.4"/><line x1="135.2" y1="779.1" x2="146.4" y2="786.7" stroke-width="4.0"/><line x1="131.2" y1="787.1" x2="141.2" y2="788.6" stroke-width="1.0"/><line x1="149.9" y1="782.1" x2="161.3" y2="789.7" stroke-width="4.0"/><line x1="145.9" y1="790.1" x2="155.9" y2="791.6" stroke-width="1.0"/><line x1="162.6" y1="786.4" x2="173.7" y2="793.9" stroke-width="4.0"/><line x1="174.2" y1="791.3" x2="184.9" y2="798.5" stroke-width="4.0"/><line x1="187.4" y1="796.7" x2="198.5" y2="804.3" stroke-width="4.0"/><line x1="201.5" y1="801.8" x2="211.7" y2="808.7" stroke-width="4.0"/><line x1="214.7" y1="805.2" x2="224.2" y2="811.6" stroke-width="4.0"/><line x1="210.7" y1="813.2" x2="220.7" y2="814.7" stroke-width="1.0"/><line x1="226.3" y1="811.0" x2="237.9" y2="818.8" stroke-width="4.0"/><line x1="222.3" y1="819.0" x2="232.3" y2="820.5" stroke-width="1.0"/><line x1="240.1" y1="815.1" x2="250.7" y2="822.3" stroke-width="4.0"/><line x1="236.1" y1="823.1" x2="246.1" y2="824.6" stroke-width="1.0"/><line x1="252.3" y1="819.3" x2="262.4" y2="826.1" stroke-width="4.0"/><line x1="248.3" y1="827.3" x2="258.3" y2="828.8" stroke-width="1.0"/><line x1="266.4" y1="824.5" x2="276.9" y2="831.6" stroke-width="4.0"/><line x1="262.4" y1="832.5" x2="272.4" y2="834.0" stroke-width="1.0"/><line x1="278.5" y1="828.2" x2="288.5" y2="834.9" stroke-width="4.0"/><path d="M291.3,835.5 l6,-3.5 l7,3.5 l-6,4.5 z" fill="none" stroke-width="2.4"/><line x1="287.3" y1="840.5" x2="297.3" y2="842.0" stroke-width="1.0"/><line x1="304.6" y1="837.8" x2="314.8" y2="844.6" stroke-width="4.0"/><line x1="312.9" y1="847.1" x2="326.9" y2="849.6" stroke-width="1.1"/><line x1="318.9" y1="842.1" x2="327.7" y2="848.0" stroke-width="2.2"/><line x1="325.8" y1="851.6" x2="339.8" y2="854.1" stroke-width="1.1"/><line x1="331.8" y1="846.6" x2="339.5" y2="851.9" stroke-width="2.2"/><line x1="338.4" y1="856.0" x2="352.4" y2="858.5" stroke-width="1.1"/><line x1="344.4" y1="851.0" x2="352.5" y2="856.5" stroke-width="2.2"/><line x1="352.0" y1="862.1" x2="366.0" y2="864.6" stroke-width="1.1"/><line x1="358.0" y1="857.1" x2="368.7" y2="864.3" stroke-width="2.2"/><line x1="128.9" y1="785.3" x2="138.4" y2="791.6" stroke-width="4.0"/><line x1="124.9" y1="793.3" x2="134.9" y2="794.8" stroke-width="1.0"/><line x1="140.5" y1="789.6" x2="151.2" y2="796.8" stroke-width="4.0"/><line x1="136.5" y1="797.6" x2="146.5" y2="799.1" stroke-width="1.0"/><line x1="153.7" y1="794.3" x2="164.9" y2="801.8" stroke-width="4.0"/><line x1="149.7" y1="802.3" x2="159.7" y2="803.8" stroke-width="1.0"/><line x1="167.6" y1="799.9" x2="178.0" y2="806.9" stroke-width="4.0"/><line x1="180.5" y1="804.3" x2="190.4" y2="811.0" stroke-width="4.0"/><path d="M193.5,811.8 l6,-3.5 l7,3.5 l-6,4.5 z" fill="none" stroke-width="2.4"/><line x1="189.5" y1="816.8" x2="199.5" y2="818.3" stroke-width="1.0"/><line x1="206.1" y1="813.4" x2="217.0" y2="820.8" stroke-width="4.0"/><line x1="220.0" y1="817.5" x2="230.6" y2="824.7" stroke-width="4.0"/><line x1="216.0" y1="825.5" x2="226.0" y2="827.0" stroke-width="1.0"/><line x1="232.9" y1="821.4" x2="243.4" y2="828.5" stroke-width="4.0"/><line x1="244.6" y1="827.0" x2="255.2" y2="834.2" stroke-width="4.0"/><path d="M257.6,834.0 l6,-3.5 l7,3.5 l-6,4.5 z" fill="none" stroke-width="2.4"/><line x1="253.6" y1="839.0" x2="263.6" y2="840.5" stroke-width="1.0"/><path d="M270.5,839.5 l6,-3.5 l7,3.5 l-6,4.5 z" fill="none" stroke-width="2.4"/><line x1="266.5" y1="844.5" x2="276.5" y2="846.0" stroke-width="1.0"/><line x1="284.1" y1="840.4" x2="294.2" y2="847.3" stroke-width="4.0"/><line x1="280.1" y1="848.4" x2="290.1" y2="849.9" stroke-width="1.0"/><line x1="296.4" y1="844.5" x2="307.6" y2="852.1" stroke-width="4.0"/><path d="M310.3,852.3 l6,-3.5 l7,3.5 l-6,4.5 z" fill="none" stroke-width="2.4"/><line x1="306.3" y1="857.3" x2="316.3" y2="858.8" stroke-width="1.0"/><line x1="317.6" y1="859.3" x2="331.6" y2="861.8" stroke-width="1.1"/><line x1="323.6" y1="854.3" x2="333.2" y2="860.8" stroke-width="2.2"/><line x1="329.8" y1="863.5" x2="343.8" y2="866.0" stroke-width="1.1"/><line x1="335.8" y1="858.5" x2="345.9" y2="865.4" stroke-width="2.2"/><line x1="342.8" y1="868.6" x2="356.8" y2="871.1" stroke-width="1.1"/><line x1="348.8" y1="863.6" x2="358.1" y2="869.8" stroke-width="2.2"/><line x1="356.4" y1="872.7" x2="370.4" y2="875.2" stroke-width="1.1"/><line x1="362.4" y1="867.7" x2="373.2" y2="874.9" stroke-width="2.2"/><line x1="133.0" y1="792.5" x2="141.9" y2="798.5" stroke-width="4.0"/><line x1="129.0" y1="800.5" x2="139.0" y2="802.0" stroke-width="1.0"/><line x1="146.6" y1="796.9" x2="156.5" y2="803.7" stroke-width="4.0"/><line x1="142.6" y1="804.9" x2="152.6" y2="806.4" stroke-width="1.0"/><line x1="158.7" y1="802.0" x2="169.2" y2="809.1" stroke-width="4.0"/><line x1="154.7" y1="810.0" x2="164.7" y2="811.5" stroke-width="1.0"/><line x1="173.1" y1="806.7" x2="184.4" y2="814.3" stroke-width="4.0"/><line x1="186.2" y1="811.9" x2="195.1" y2="817.9" stroke-width="4.0"/><line x1="199.3" y1="816.2" x2="210.1" y2="823.5" stroke-width="4.0"/><path d="M211.2,824.6 l6,-3.5 l7,3.5 l-6,4.5 z" fill="none" stroke-width="2.4"/><line x1="207.2" y1="829.6" x2="217.2" y2="831.1" stroke-width="1.0"/><line x1="223.9" y1="825.3" x2="233.0" y2="831.4" stroke-width="4.0"/><line x1="219.9" y1="833.3" x2="229.9" y2="834.8" stroke-width="1.0"/><path d="M237.9,832.4 l6,-3.5 l7,3.5 l-6,4.5 z" fill="none" stroke-width="2.4"/><path d="M250.5,837.7 l6,-3.5 l7,3.5 l-6,4.5 z" fill="none" stroke-width="2.4"/><line x1="264.0" y1="839.9" x2="273.4" y2="846.2" stroke-width="4.0"/><line x1="276.4" y1="843.7" x2="285.4" y2="849.8" stroke-width="4.0"/><line x1="290.4" y1="848.4" x2="300.0" y2="854.9" stroke-width="4.0"/><line x1="286.4" y1="856.4" x2="296.4" y2="857.9" stroke-width="1.0"/><line x1="302.9" y1="851.9" x2="312.6" y2="858.4" stroke-width="4.0"/><line x1="310.5" y1="861.6" x2="324.5" y2="864.1" stroke-width="1.1"/><line x1="316.5" y1="856.6" x2="324.8" y2="862.2" stroke-width="2.2"/><line x1="323.0" y1="867.9" x2="337.0" y2="870.4" stroke-width="1.1"/><line x1="329.0" y1="862.9" x2="337.1" y2="868.4" stroke-width="2.2"/><line x1="336.0" y1="872.4" x2="350.0" y2="874.9" stroke-width="1.1"/><line x1="342.0" y1="867.4" x2="352.0" y2="874.2" stroke-width="2.2"/><line x1="338.0" y1="875.4" x2="348.0" y2="876.9" stroke-width="1.0"/><line x1="348.9" y1="876.2" x2="362.9" y2="878.7" stroke-width="1.1"/><path d="M354.9,874.2 l6,-3.5 l7,3.5 l-6,4.5 z" fill="none" stroke-width="2.4"/><line x1="125.4" y1="801.0" x2="136.3" y2="808.4" stroke-width="4.0"/><line x1="139.3" y1="805.8" x2="150.3" y2="813.3" stroke-width="4.0"/><line x1="151.0" y1="809.5" x2="161.2" y2="816.3" stroke-width="4.0"/><line x1="147.0" y1="817.5" x2="157.0" y2="819.0" stroke-width="1.0"/><line x1="164.9" y1="814.3" x2="175.4" y2="821.4" stroke-width="4.0"/><line x1="160.9" y1="822.3" x2="170.9" y2="823.8" stroke-width="1.0"/><line x1="178.9" y1="818.2" x2="190.1" y2="825.7" stroke-width="4.0"/><line x1="191.8" y1="824.1" x2="203.0" y2="831.6" stroke-width="4.0"/><line x1="187.8" y1="832.1" x2="197.8" y2="833.6" stroke-width="1.0"/><line x1="203.9" y1="828.0" x2="214.1" y2="834.9" stroke-width="4.0"/><line x1="216.1" y1="831.9" x2="225.5" y2="838.2" stroke-width="4.0"/><line x1="212.1" y1="839.9" x2="222.1" y2="841.4" stroke-width="1.0"/><line x1="229.0" y1="836.6" x2="238.3" y2="842.9" stroke-width="4.0"/><line x1="225.0" y1="844.6" x2="235.0" y2="846.1" stroke-width="1.0"/><line x1="243.7" y1="840.8" x2="254.4" y2="848.1" stroke-width="4.0"/><line x1="255.5" y1="847.3" x2="264.7" y2="853.5" stroke-width="4.0"/><line x1="269.4" y1="851.5" x2="279.3" y2="858.3" stroke-width="4.0"/><line x1="282.6" y1="856.2" x2="294.1" y2="863.9" stroke-width="4.0"/><line x1="294.3" y1="860.5" x2="303.8" y2="866.9" stroke-width="4.0"/><line x1="290.3" y1="868.5" x2="300.3" y2="870.0" stroke-width="1.0"/><line x1="307.2" y1="864.9" x2="318.5" y2="872.4" stroke-width="4.0"/><line x1="303.2" y1="872.9" x2="313.2" y2="874.4" stroke-width="1.0"/><line x1="315.6" y1="873.9" x2="329.6" y2="876.4" stroke-width="1.1"/><line x1="321.6" y1="868.9" x2="329.2" y2="874.1" stroke-width="2.2"/><line x1="328.4" y1="879.1" x2="342.4" y2="881.6" stroke-width="1.1"/><line x1="334.4" y1="874.1" x2="344.3" y2="880.9" stroke-width="2.2"/><line x1="340.3" y1="884.6" x2="354.3" y2="887.1" stroke-width="1.1"/><line x1="346.3" y1="879.6" x2="355.1" y2="885.5" stroke-width="2.2"/><line x1="131.7" y1="807.3" x2="142.5" y2="814.6" stroke-width="4.0"/><path d="M144.5,816.2 l6,-3.5 l7,3.5 l-6,4.5 z" fill="none" stroke-width="2.4"/><line x1="157.4" y1="817.3" x2="166.8" y2="823.6" stroke-width="4.0"/><line x1="153.4" y1="825.3" x2="163.4" y2="826.8" stroke-width="1.0"/><line x1="170.1" y1="822.4" x2="179.7" y2="828.9" stroke-width="4.0"/><line x1="166.1" y1="830.4" x2="176.1" y2="831.9" stroke-width="1.0"/><line x1="183.0" y1="825.7" x2="192.8" y2="832.3" stroke-width="4.0"/><line x1="179.0" y1="833.7" x2="189.0" y2="835.2" stroke-width="1.0"/><line x1="196.0" y1="830.7" x2="206.0" y2="837.5" stroke-width="4.0"/><line x1="209.2" y1="835.2" x2="219.4" y2="842.1" stroke-width="4.0"/><line x1="205.2" y1="843.2" x2="215.2" y2="844.7" stroke-width="1.0"/><line x1="223.3" y1="840.6" x2="234.4" y2="848.1" stroke-width="4.0"/><line x1="219.3" y1="848.6" x2="229.3" y2="850.1" stroke-width="1.0"/><line x1="235.5" y1="845.3" x2="245.5" y2="852.1" stroke-width="4.0"/><line x1="247.3" y1="850.1" x2="258.7" y2="857.8" stroke-width="4.0"/><line x1="260.7" y1="854.1" x2="271.3" y2="861.2" stroke-width="4.0"/><line x1="273.6" y1="857.8" x2="283.9" y2="864.7" stroke-width="4.0"/><line x1="269.6" y1="865.8" x2="279.6" y2="867.3" stroke-width="1.0"/><line x1="287.7" y1="862.4" x2="297.9" y2="869.3" stroke-width="4.0"/><line x1="300.1" y1="868.2" x2="309.7" y2="874.6" stroke-width="4.0"/><line x1="296.1" y1="876.2" x2="306.1" y2="877.7" stroke-width="1.0"/><line x1="312.6" y1="871.8" x2="324.1" y2="879.6" stroke-width="4.0"/><line x1="308.6" y1="879.8" x2="318.6" y2="881.3" stroke-width="1.0"/><line x1="319.5" y1="882.2" x2="333.5" y2="884.7" stroke-width="1.1"/><line x1="325.5" y1="877.2" x2="333.4" y2="882.5" stroke-width="2.2"/><line x1="136.9" y1="819.1" x2="148.1" y2="826.7" stroke-width="4.0"/><line x1="149.2" y1="825.0" x2="158.3" y2="831.1" stroke-width="4.0"/><line x1="162.7" y1="828.6" x2="173.0" y2="835.6" stroke-width="4.0"/><line x1="158.7" y1="836.6" x2="168.7" y2="838.1" stroke-width="1.0"/><line x1="175.2" y1="833.0" x2="186.7" y2="840.7" stroke-width="4.0"/><line x1="171.2" y1="841.0" x2="181.2" y2="842.5" stroke-width="1.0"/><line x1="188.0" y1="838.3" x2="199.1" y2="845.8" stroke-width="4.0"/><line x1="201.3" y1="842.6" x2="210.5" y2="848.8" stroke-width="4.0"/><line x1="197.3" y1="850.6" x2="207.3" y2="852.1" stroke-width="1.0"/><line x1="214.1" y1="848.2" x2="223.3" y2="854.4" stroke-width="4.0"/><line x1="227.1" y1="851.4" x2="238.4" y2="859.1" stroke-width="4.0"/><line x1="223.1" y1="859.4" x2="233.1" y2="860.9" stroke-width="1.0"/><line x1="241.0" y1="856.8" x2="251.9" y2="864.2" stroke-width="4.0"/><line x1="237.0" y1="864.8" x2="247.0" y2="866.3" stroke-width="1.0"/><path d="M254.0,863.5 l6,-3.5 l7,3.5 l-6,4.5 z" fill="none" stroke-width="2.4"/><line x1="250.0" y1="868.5" x2="260.0" y2="870.0" stroke-width="1.0"/><line x1="266.6" y1="866.4" x2="276.3" y2="873.0" stroke-width="4.0"/><line x1="262.6" y1="874.4" x2="272.6" y2="875.9" stroke-width="1.0"/><path d="M280.0,873.0 l6,-3.5 l7,3.5 l-6,4.5 z" fill="none" stroke-width="2.4"/><line x1="276.0" y1="878.0" x2="286.0" y2="879.5" stroke-width="1.0"/><line x1="291.9" y1="874.2" x2="301.2" y2="880.5" stroke-width="4.0"/><line x1="306.4" y1="879.7" x2="316.6" y2="886.5" stroke-width="4.0"/><line x1="129.2" y1="822.1" x2="138.5" y2="828.4" stroke-width="4.0"/><line x1="141.8" y1="827.7" x2="152.4" y2="834.9" stroke-width="4.0"/><line x1="137.8" y1="835.7" x2="147.8" y2="837.2" stroke-width="1.0"/><line x1="154.2" y1="830.9" x2="164.8" y2="838.1" stroke-width="4.0"/><line x1="150.2" y1="838.9" x2="160.2" y2="840.4" stroke-width="1.0"/><line x1="168.0" y1="836.6" x2="179.3" y2="844.3" stroke-width="4.0"/><line x1="164.0" y1="844.6" x2="174.0" y2="846.1" stroke-width="1.0"/><line x1="181.7" y1="841.4" x2="190.9" y2="847.5" stroke-width="4.0"/><line x1="177.7" y1="849.4" x2="187.7" y2="850.9" stroke-width="1.0"/><path d="M194.3,849.0 l6,-3.5 l7,3.5 l-6,4.5 z" fill="none" stroke-width="2.4"/><path d="M206.4,853.2 l6,-3.5 l7,3.5 l-6,4.5 z" fill="none" stroke-width="2.4"/><path d="M220.1,858.4 l6,-3.5 l7,3.5 l-6,4.5 z" fill="none" stroke-width="2.4"/><path d="M232.4,861.5 l6,-3.5 l7,3.5 l-6,4.5 z" fill="none" stroke-width="2.4"/><line x1="228.4" y1="866.5" x2="238.4" y2="868.0" stroke-width="1.0"/><line x1="246.3" y1="864.0" x2="256.4" y2="870.8" stroke-width="4.0"/><line x1="242.3" y1="872.0" x2="252.3" y2="873.5" stroke-width="1.0"/><line x1="259.8" y1="869.0" x2="269.7" y2="875.7" stroke-width="4.0"/><line x1="255.8" y1="877.0" x2="265.8" y2="878.5" stroke-width="1.0"/><line x1="271.3" y1="874.0" x2="281.0" y2="880.6" stroke-width="4.0"/><line x1="285.7" y1="877.9" x2="297.2" y2="885.7" stroke-width="4.0"/><path d="M133.5,838.1 l6,-3.5 l7,3.5 l-6,4.5 z" fill="none" stroke-width="2.4"/><line x1="129.5" y1="843.1" x2="139.5" y2="844.6" stroke-width="1.0"/><line x1="147.3" y1="838.7" x2="156.1" y2="844.6" stroke-width="4.0"/><path d="M161.1,846.3 l6,-3.5 l7,3.5 l-6,4.5 z" fill="none" stroke-width="2.4"/><line x1="172.9" y1="848.4" x2="184.4" y2="856.2" stroke-width="4.0"/><line x1="168.9" y1="856.4" x2="178.9" y2="857.9" stroke-width="1.0"/><path d="M186.7,855.8 l6,-3.5 l7,3.5 l-6,4.5 z" fill="none" stroke-width="2.4"/><line x1="198.3" y1="856.6" x2="207.7" y2="863.0" stroke-width="4.0"/><line x1="211.4" y1="861.8" x2="221.6" y2="868.7" stroke-width="4.0"/><line x1="207.4" y1="869.8" x2="217.4" y2="871.3" stroke-width="1.0"/><line x1="224.5" y1="866.5" x2="233.7" y2="872.7" stroke-width="4.0"/><path d="M237.3,874.7 l6,-3.5 l7,3.5 l-6,4.5 z" fill="none" stroke-width="2.4"/><line x1="250.8" y1="875.0" x2="260.2" y2="881.4" stroke-width="4.0"/><line x1="246.8" y1="883.0" x2="256.8" y2="884.5" stroke-width="1.0"/><line x1="127.4" y1="837.0" x2="138.1" y2="844.2" stroke-width="4.0"/><line x1="139.6" y1="841.6" x2="148.8" y2="847.8" stroke-width="4.0"/><line x1="135.6" y1="849.6" x2="145.6" y2="851.1" stroke-width="1.0"/><path d="M151.7,850.4 l6,-3.5 l7,3.5 l-6,4.5 z" fill="none" stroke-width="2.4"/><line x1="166.3" y1="851.9" x2="175.4" y2="858.0" stroke-width="4.0"/><line x1="162.3" y1="859.9" x2="172.3" y2="861.4" stroke-width="1.0"/><line x1="177.8" y1="855.6" x2="189.0" y2="863.1" stroke-width="4.0"/><line x1="190.5" y1="861.2" x2="201.3" y2="868.5" stroke-width="4.0"/><line x1="186.5" y1="869.2" x2="196.5" y2="870.7" stroke-width="1.0"/><line x1="203.8" y1="865.0" x2="213.1" y2="871.2" stroke-width="4.0"/><line x1="218.4" y1="869.1" x2="228.7" y2="876.1" stroke-width="4.0"/><line x1="230.0" y1="874.9" x2="240.0" y2="881.7" stroke-width="4.0"/><line x1="226.0" y1="882.9" x2="236.0" y2="884.4" stroke-width="1.0"/><line x1="243.9" y1="879.8" x2="255.1" y2="887.3" stroke-width="4.0"/><line x1="239.9" y1="887.8" x2="249.9" y2="889.3" stroke-width="1.0"/><line x1="131.3" y1="849.4" x2="142.4" y2="856.8" stroke-width="4.0"/><line x1="145.5" y1="854.4" x2="154.8" y2="860.7" stroke-width="4.0"/><line x1="141.5" y1="862.4" x2="151.5" y2="863.9" stroke-width="1.0"/><line x1="157.1" y1="857.8" x2="166.4" y2="864.0" stroke-width="4.0"/><line x1="153.1" y1="865.8" x2="163.1" y2="867.3" stroke-width="1.0"/><line x1="170.5" y1="863.1" x2="179.8" y2="869.3" stroke-width="4.0"/><line x1="183.2" y1="868.8" x2="193.1" y2="875.4" stroke-width="4.0"/><path d="M196.0,876.2 l6,-3.5 l7,3.5 l-6,4.5 z" fill="none" stroke-width="2.4"/><line x1="192.0" y1="881.2" x2="202.0" y2="882.7" stroke-width="1.0"/><line x1="210.4" y1="876.7" x2="221.6" y2="884.3" stroke-width="4.0"/><line x1="136.3" y1="856.7" x2="147.4" y2="864.2" stroke-width="4.0"/><line x1="149.9" y1="861.8" x2="160.4" y2="868.9" stroke-width="4.0"/><line x1="163.2" y1="865.7" x2="172.7" y2="872.1" stroke-width="4.0"/><line x1="175.9" y1="869.7" x2="187.3" y2="877.4" stroke-width="4.0"/><line x1="189.5" y1="876.0" x2="198.7" y2="882.2" stroke-width="4.0"/><line x1="185.5" y1="884.0" x2="195.5" y2="885.5" stroke-width="1.0"/><line x1="203.0" y1="879.3" x2="212.1" y2="885.4" stroke-width="4.0"/><line x1="129.8" y1="865.0" x2="140.0" y2="871.9" stroke-width="4.0"/><line x1="143.1" y1="869.1" x2="154.5" y2="876.8" stroke-width="4.0"/><line x1="139.1" y1="877.1" x2="149.1" y2="878.6" stroke-width="1.0"/><line x1="154.6" y1="874.4" x2="164.0" y2="880.7" stroke-width="4.0"/><line x1="150.6" y1="882.4" x2="160.6" y2="883.9" stroke-width="1.0"/><line x1="167.8" y1="877.2" x2="178.2" y2="884.2" stroke-width="4.0"/><line x1="134.0" y1="872.1" x2="142.9" y2="878.2" stroke-width="4.0"/><line x1="130.0" y1="880.1" x2="140.0" y2="881.6" stroke-width="1.0"/><line x1="147.7" y1="876.1" x2="157.0" y2="882.4" stroke-width="4.0"/><line x1="143.7" y1="884.1" x2="153.7" y2="885.6" stroke-width="1.0"/><line x1="160.2" y1="880.0" x2="170.4" y2="886.9" stroke-width="4.0"/><line x1="156.2" y1="888.0" x2="166.2" y2="889.5" stroke-width="1.0"/><line x1="126.6" y1="878.2" x2="137.2" y2="885.4" stroke-width="4.0"/><line x1="122.6" y1="886.2" x2="132.6" y2="887.7" stroke-width="1.0"/></g>
<ellipse cx="221" cy="687.5" rx="16" ry="21.5" stroke="#000" stroke-width="1.15" fill="#fff" transform="rotate(-12 221 687.5)"/>
<ellipse cx="221" cy="687.5" rx="15" ry="20.5" stroke="#000" stroke-width="1.84" fill="none" transform="rotate(-12 221 687.5)"/>
<path d="M216,674 L215,683 L224,701 L233,699 M218,676 Q229,679 231,692" stroke="#000" stroke-width="2.3" fill="none" stroke-linejoin="round" stroke-linecap="round" />
<path d="M297.6,718.3 L299.2,724.7 L315.2,760.0 L332.3,789.0 L344.5,830.0 L352.7,848.2 L355.5,857.3 L354.5,864.5" stroke="#000" stroke-width="2.76" fill="none" stroke-linejoin="round" stroke-linecap="round" />
<path d="M304.0,716.0 L320.0,757.0 L337.0,789.0 L348.0,830.0 L356.0,848.0 L359.0,858.0" stroke="#000" stroke-width="1.15" fill="none" stroke-linejoin="round" stroke-linecap="round" />
<path d="M354.5,864.5 L350.0,868.0 L341.0,870.0 L327.0,876.0 L316.4,879.0 L300.0,874.5 L285.0,867.5 L265.0,858.5 L230.0,836.7 L210.0,826.0 L200.0,821.0 L190.0,815.6 L175.0,805.9 L166.0,800.8 L153.2,793.1 L143.0,782.0 L141.0,760.0 L142.0,720.0 L148.0,690.0 L168.0,628.0" stroke="#000" stroke-width="1.49" fill="none" stroke-linejoin="round" stroke-linecap="round" />
<path d="M357.0,867.0 L350.0,871.5 L341.0,873.5 L327.0,879.5 L316.4,882.5 L300.0,878.0 L285.0,871.0 L265.0,862.0 L230.0,840.2 L210.0,829.5 L200.0,824.5 L190.0,819.3 L175.0,809.4 L166.0,804.3 L153.2,796.6 L140.0,784.0 L137.0,760.0 L138.0,720.0 L144.0,690.0 L165.0,627.0" stroke="#000" stroke-width="1.49" fill="none" stroke-linejoin="round" stroke-linecap="round" />
<path d="M349.4,688.4 L340.0,694.0 L322.7,705.2 L303.5,715.0 L297.6,718.3" stroke="#000" stroke-width="2.99" fill="none" stroke-linejoin="round" stroke-linecap="round" />
<path d="M352.0,690.5 L332.3,702.5 L320.6,710.0 L319.5,712.5 L333.4,709.8" stroke="#000" stroke-width="1.26" fill="none" stroke-linejoin="round" stroke-linecap="round" />
<path d="M146.8,760.0 L159.6,769.6 L175.0,781.0 L190.0,792.4 L200.0,798.0 L210.0,804.0 L230.0,815.6 L265.0,833.8 L285.0,843.6 L300.0,851.0 L318.0,859.0 L336.0,865.5 L343.0,868.0 L347.0,863.6 L341.0,830.0" stroke="#000" stroke-width="2.53" fill="none" stroke-linejoin="round" stroke-linecap="round" />
<path d="M170.0,620.0 L160.0,650.0 L150.0,680.0 L142.0,710.0 L137.0,740.0 L132.5,765.0 L132.5,778.0 L134.1,785.5 L140.5,791.8 L153.2,801.4 L175.0,817.3 L190.0,829.5 L200.0,835.0 L210.0,840.5 L265.0,872.4 L285.0,882.0 L300.0,889.0 L311.0,893.6 L334.5,895.5 L354.5,891.8 L363.7,892.0 L389.0,883.8 L412.0,877.2 L416.0,874.0 L413.7,868.2 L409.6,860.0 L371.4,771.6" stroke="#000" stroke-width="2.99" fill="none" stroke-linejoin="round" stroke-linecap="round" />
<path d="M134.7,786.1 L143.0,791.2" stroke="#000" stroke-width="1.15" fill="none" stroke-linejoin="round" stroke-linecap="round" />
<path d="M170.0,800.0 L179.0,786.0" stroke="#000" stroke-width="1.49" fill="none" stroke-linejoin="round" stroke-linecap="round" />
<path d="M172.0,797.0 L176.0,790.0" stroke="#000" stroke-width="2.76" fill="none" stroke-linejoin="round" stroke-linecap="round" />
<path d="M220.0,830.0 L229.0,816.0" stroke="#000" stroke-width="1.49" fill="none" stroke-linejoin="round" stroke-linecap="round" />
<path d="M222.0,827.0 L226.0,820.0" stroke="#000" stroke-width="2.76" fill="none" stroke-linejoin="round" stroke-linecap="round" />
<path d="M277.0,861.0 L286.0,847.0" stroke="#000" stroke-width="1.49" fill="none" stroke-linejoin="round" stroke-linecap="round" />
<path d="M279.0,858.0 L283.0,851.0" stroke="#000" stroke-width="2.76" fill="none" stroke-linejoin="round" stroke-linecap="round" />
<path d="M170.0,620.0 L176.4,629.1 L189.1,638.7 L201.8,646.9 L214.6,655.9 L230.0,662.9 L240.0,669.2 L265.5,680.0 L280.0,685.2 L310.0,687.0 L344.0,688.0 L349.4,688.4" stroke="#000" stroke-width="2.3" fill="none" stroke-linejoin="round" stroke-linecap="round" />
<path d="M282.0,681.5 L310.0,683.0 L345.0,684.5 L372.0,684.0" stroke="#000" stroke-width="1.15" fill="none" stroke-linejoin="round" stroke-linecap="round" />
<path d="M280.0,681.0 L340.0,684.5" stroke="#000" stroke-width="1.03" fill="none" stroke-linejoin="round" stroke-linecap="round" />
<path d="M135.5,614.6 L132.9,599.4 L132.3,581.5 L133.6,573.9 L135.5,568.8 L154.6,548.4 L191.5,510.8 L199.2,511.5 L218.3,514.0 L237.4,523.6 L241.2,523.0 L246.0,518.5" stroke="#000" stroke-width="1.95" fill="none" stroke-linejoin="round" stroke-linecap="round" />
<path d="M246,518.5 Q249,515.5 253,516 Q258,517 257.8,521.5 Q257,526 252,529.5 L247.6,535.7" stroke="#000" stroke-width="1.95" fill="none" stroke-linejoin="round" stroke-linecap="round" />
<ellipse cx="253.5" cy="521" rx="1.8" ry="1.8" stroke="#000" stroke-width="1.61" fill="#000" transform="rotate(0 253.5 521)"/>
<path d="M247.6,535.7 L237.4,548.4 L224.6,570.0 L220.8,582.8 L215.7,594.3" stroke="#000" stroke-width="1.95" fill="none" stroke-linejoin="round" stroke-linecap="round" />
<path d="M157.0,546.0 L190.0,513.0" stroke="#000" stroke-width="1.03" fill="none" stroke-linejoin="round" stroke-linecap="round" />
<path d="M200.0,514.0 L216.0,516.0" stroke="#000" stroke-width="1.03" fill="none" stroke-linejoin="round" stroke-linecap="round" />
<path d="M139.3,587.9 L145.7,579.6 L150.1,587.9 L144.4,598.7 L139.3,587.9" stroke="#000" stroke-width="1.95" fill="none" stroke-linejoin="round" stroke-linecap="round" />
<path d="M237.4,523.6 L232.3,525.5 L219.6,542.0 L209.4,566.2 L204.3,586.6 L199.2,591.7" stroke="#000" stroke-width="1.49" fill="none" stroke-linejoin="round" stroke-linecap="round" />
<path d="M240.0,527.0 L225.0,548.0 L214.0,572.0 L209.0,590.0" stroke="#000" stroke-width="1.15" fill="none" stroke-linejoin="round" stroke-linecap="round" />
<path d="M225.0,547.0 L231.0,539.0" stroke="#000" stroke-width="4.6" fill="none" stroke-linejoin="round" stroke-linecap="round" />
<path d="M211.0,586.0 L214.0,577.0" stroke="#000" stroke-width="4.14" fill="none" stroke-linejoin="round" stroke-linecap="round" />
<path d="M215.0,594.0 L218.0,589.0" stroke="#000" stroke-width="3.68" fill="none" stroke-linejoin="round" stroke-linecap="round" />
<path d="M229.0,534.0 L234.0,528.0" stroke="#000" stroke-width="2.3" fill="none" stroke-linejoin="round" stroke-linecap="round" />
<path d="M241.0,527.0 L232.0,540.0 L224.0,556.0 L218.0,572.0 L214.0,590.0" stroke="#000" stroke-width="1.15" fill="none" stroke-linejoin="round" stroke-linecap="round" />
<ellipse cx="219" cy="568" rx="2.5" ry="2.5" stroke="#000" stroke-width="1.38" fill="none" transform="rotate(0 219 568)"/>
<path d="M246.0,522.0 L244.0,530.0" stroke="#000" stroke-width="1.38" fill="none" stroke-linejoin="round" stroke-linecap="round" />
<path d="M169.9,619.7 L173.7,602.0 L181.3,586.6 L189.0,575.2 L196.0,566.0" stroke="#000" stroke-width="1.38" fill="none" stroke-dasharray="4,2" stroke-linecap="butt"/>
<path d="M165.0,618.0 L170.0,602.0 L178.0,588.0" stroke="#000" stroke-width="1.15" fill="none" stroke-dasharray="3,2" stroke-linecap="butt"/>
<path d="M156.0,552.0 L158.0,575.0" stroke="#000" stroke-width="1.38" fill="none" stroke-dasharray="5,3" stroke-linecap="butt"/>
<path d="M161.0,556.0 L162.0,575.0" stroke="#000" stroke-width="1.38" fill="none" stroke-dasharray="5,3" stroke-linecap="butt"/>
<path d="M187.0,551.0 L183.0,571.0 L179.0,587.0" stroke="#000" stroke-width="1.38" fill="none" stroke-dasharray="5,3" stroke-linecap="butt"/>
<path d="M160,584 Q166,586 164,590 L160,598 Q163,604 166,606" stroke="#000" stroke-width="1.49" fill="none" stroke-linejoin="round" stroke-linecap="round" />
<path d="M196,568 Q199,561 204,560" stroke="#000" stroke-width="1.38" fill="none" stroke-linejoin="round" stroke-linecap="round" />
<path d="M195,581 Q194,576 198,576" stroke="#000" stroke-width="2.07" fill="none" stroke-linejoin="round" stroke-linecap="round" />
<path d="M135.0,614.0 L130.0,618.0 L131.0,630.0 L132.0,640.0 L135.0,660.0 L135.0,680.0 L133.0,700.0 L131.0,720.0 L130.0,738.0" stroke="#000" stroke-width="1.84" fill="none" stroke-linejoin="round" stroke-linecap="round" />
<path d="M135.0,615.0 L148.0,642.0 L144.0,660.0 L140.0,676.0 L136.0,690.0" stroke="#000" stroke-width="1.61" fill="none" stroke-linejoin="round" stroke-linecap="round" />
<path d="M133.0,640.0 L140.0,670.0" stroke="#000" stroke-width="2.76" fill="none" stroke-linejoin="round" stroke-linecap="round" />
<path d="M131,737 Q121,738 119.6,756" stroke="#000" stroke-width="2.07" fill="none" stroke-linejoin="round" stroke-linecap="round" />
<path d="M199.4,592.3 L215.7,596.8 L237.4,612.1 L250.1,618.5 L277.5,639.6 L293.9,650.0 L318.4,656.4 L331.3,661.7 L354.7,665.0 L386.8,667.0 L400.7,669.2 L408.1,672.4 L414.5,676.7 L423.1,678.8 L428.4,684.7 L413.5,685.2 L386.8,687.4 L376.1,689.5 L365.4,693.8 L349.4,700.2 L333.4,706.6 L332.3,708.2 L333.4,709.8 L354.7,711.4 L363.3,711.9 L370.8,717.3 L379.3,724.7 L386.8,726.9 L408.1,731.2 L418.8,732.2 L434.8,736.5 L450.0,737.6 L472.0,739.7 L495.6,741.0 L509.0,737.0 L518.7,732.5 L530.0,723.0 L541.6,713.4 L621.9,744.9 L631.5,738.2 L639.1,740.1 L637.2,745.9 L631.5,757.4 L620.0,776.5 L604.7,799.4 L593.2,822.3 L585.6,845.3 L577.9,868.2 L576.0,881.6 L575.0,910.0 L576.0,932.4" stroke="#000" stroke-width="2.07" fill="none" stroke-linejoin="round" stroke-linecap="round" />
<path d="M199.0,596.0 L231.0,614.6 L250.0,622.0 L276.0,639.0" stroke="#000" stroke-width="1.15" fill="none" stroke-linejoin="round" stroke-linecap="round" />
<path d="M200.0,592.0 L210.0,598.0" stroke="#000" stroke-width="1.15" fill="none" stroke-linejoin="round" stroke-linecap="round" />
<path d="M366.0,718.0 L380.0,728.0 L408.0,734.0 L440.0,739.0" stroke="#000" stroke-width="1.03" fill="none" stroke-linejoin="round" stroke-linecap="round" />
<path d="M119.6,756.0 L119.5,780.0 L121.4,792.0 L121.4,797.0 L124.6,801.4 L127.7,804.6 L140.5,811.0 L153.2,818.6 L166.0,826.9 L190.0,840.4 L200.0,846.0 L265.0,884.0 L292.7,895.5 L300.0,898.0 L331.2,919.0 L339.7,923.3 L378.2,929.7 L420.9,938.2 L452.9,944.7 L474.3,944.7 L527.7,936.1 L576.0,932.4" stroke="#000" stroke-width="2.53" fill="none" stroke-linejoin="round" stroke-linecap="round" />
<path d="M300.0,894.0 L331.2,915.5 L339.7,919.5 L378.2,926.0 L420.9,934.5 L452.9,941.0 L474.0,941.5 L530.0,933.0" stroke="#000" stroke-width="1.49" fill="none" stroke-linejoin="round" stroke-linecap="round" />
<path d="M123.3,795.7 L131.0,798.2 L140.5,804.6 L153.2,812.9 L172.3,823.7 L190.0,837.5 L200.0,843.0 L265.0,880.0 L300.0,893.0 L340.0,907.0 L380.0,909.0 L420.0,911.4 L450.0,915.0 L468.0,917.8 L484.0,917.8 L505.4,913.5 L521.4,907.0 L533.2,907.0 L558.8,905.0 L576.0,903.0" stroke="#000" stroke-width="1.72" fill="none" stroke-linejoin="round" stroke-linecap="round" />
<path d="M340.0,909.5 L380.0,914.0 L420.0,917.8 L450.0,924.0 L484.0,930.6 L537.5,930.6" stroke="#000" stroke-width="1.49" fill="none" stroke-linejoin="round" stroke-linecap="round" />
<path d="M360.0,915.0 L420.0,922.0 L470.0,930.0" stroke="#000" stroke-width="1.15" fill="none" stroke-linejoin="round" stroke-linecap="round" />
<path d="M380.0,930.0 L420.0,935.5 L460.0,940.5 L500.0,938.5 L538.0,932.5" stroke="#000" stroke-width="4.14" fill="none" stroke-linejoin="round" stroke-linecap="round" />
<path d="M371.4,771.6 L457.7,796.4 L476.6,815.4 L495.6,855.6 L509.8,884.0 L524.0,906.4" stroke="#000" stroke-width="2.07" fill="none" stroke-linejoin="round" stroke-linecap="round" />
<path d="M376.0,778.0 L455.0,800.0" stroke="#000" stroke-width="1.03" fill="none" stroke-linejoin="round" stroke-linecap="round" />
<path d="M524.4,906.5 L575.0,902.6" stroke="#000" stroke-width="1.61" fill="none" stroke-linejoin="round" stroke-linecap="round" />
<path d="M400.5,789.0 L441.4,795.0" stroke="#000" stroke-width="1.26" fill="none" stroke-linejoin="round" stroke-linecap="round" />
<path d="M422.9,792.5 L445.0,795.0" stroke="#000" stroke-width="3.45" fill="none" stroke-linejoin="round" stroke-linecap="round" />
<path d="M404.2,792.0 L443.1,798.0" stroke="#000" stroke-width="1.26" fill="none" stroke-linejoin="round" stroke-linecap="round" />
<path d="M415.7,793.0 L427.7,795.0" stroke="#000" stroke-width="2.76" fill="none" stroke-linejoin="round" stroke-linecap="round" />
<path d="M405.0,795.1 L447.4,801.1" stroke="#000" stroke-width="1.26" fill="none" stroke-linejoin="round" stroke-linecap="round" />
<path d="M402.3,798.1 L447.0,804.1" stroke="#000" stroke-width="1.26" fill="none" stroke-linejoin="round" stroke-linecap="round" />
<path d="M427.0,801.6 L448.9,804.1" stroke="#000" stroke-width="3.45" fill="none" stroke-linejoin="round" stroke-linecap="round" />
<path d="M407.5,801.1 L445.3,807.1" stroke="#000" stroke-width="1.26" fill="none" stroke-linejoin="round" stroke-linecap="round" />
<path d="M405.4,804.2 L446.6,810.2" stroke="#000" stroke-width="1.26" fill="none" stroke-linejoin="round" stroke-linecap="round" />
<path d="M416.2,805.2 L428.2,807.2" stroke="#000" stroke-width="2.76" fill="none" stroke-linejoin="round" stroke-linecap="round" />
<path d="M402.9,807.2 L451.5,813.2" stroke="#000" stroke-width="1.26" fill="none" stroke-linejoin="round" stroke-linecap="round" />
<path d="M430.4,810.7 L452.9,813.2" stroke="#000" stroke-width="3.45" fill="none" stroke-linejoin="round" stroke-linecap="round" />
<path d="M406.2,810.2 L452.4,816.2" stroke="#000" stroke-width="1.26" fill="none" stroke-linejoin="round" stroke-linecap="round" />
<path d="M405.3,813.3 L454.4,819.3" stroke="#000" stroke-width="1.26" fill="none" stroke-linejoin="round" stroke-linecap="round" />
<path d="M411.9,816.3 L452.6,822.3" stroke="#000" stroke-width="1.26" fill="none" stroke-linejoin="round" stroke-linecap="round" />
<path d="M442.5,819.8 L456.8,822.3" stroke="#000" stroke-width="3.45" fill="none" stroke-linejoin="round" stroke-linecap="round" />
<path d="M415.6,817.3 L427.6,819.3" stroke="#000" stroke-width="2.76" fill="none" stroke-linejoin="round" stroke-linecap="round" />
<path d="M409.5,819.3 L458.9,825.3" stroke="#000" stroke-width="1.26" fill="none" stroke-linejoin="round" stroke-linecap="round" />
<path d="M407.7,822.4 L460.3,828.4" stroke="#000" stroke-width="1.26" fill="none" stroke-linejoin="round" stroke-linecap="round" />
<path d="M414.8,825.4 L458.1,831.4" stroke="#000" stroke-width="1.26" fill="none" stroke-linejoin="round" stroke-linecap="round" />
<path d="M437.9,828.9 L460.7,831.4" stroke="#000" stroke-width="3.45" fill="none" stroke-linejoin="round" stroke-linecap="round" />
<path d="M412.6,828.4 L458.6,834.4" stroke="#000" stroke-width="1.26" fill="none" stroke-linejoin="round" stroke-linecap="round" />
<path d="M420.0,829.4 L432.0,831.4" stroke="#000" stroke-width="2.76" fill="none" stroke-linejoin="round" stroke-linecap="round" />
<path d="M409.9,831.5 L460.7,837.5" stroke="#000" stroke-width="1.26" fill="none" stroke-linejoin="round" stroke-linecap="round" />
<path d="M411.5,834.5 L463.7,840.5" stroke="#000" stroke-width="1.26" fill="none" stroke-linejoin="round" stroke-linecap="round" />
<path d="M444.2,838.0 L464.7,840.5" stroke="#000" stroke-width="3.45" fill="none" stroke-linejoin="round" stroke-linecap="round" />
<path d="M414.5,837.6 L463.0,843.6" stroke="#000" stroke-width="1.26" fill="none" stroke-linejoin="round" stroke-linecap="round" />
<path d="M422.4,840.6 L464.0,846.6" stroke="#000" stroke-width="1.26" fill="none" stroke-linejoin="round" stroke-linecap="round" />
<path d="M425.7,841.6 L437.7,843.6" stroke="#000" stroke-width="2.76" fill="none" stroke-linejoin="round" stroke-linecap="round" />
<path d="M415.1,843.6 L468.7,849.6" stroke="#000" stroke-width="1.26" fill="none" stroke-linejoin="round" stroke-linecap="round" />
<path d="M450.1,847.1 L468.6,849.6" stroke="#000" stroke-width="3.45" fill="none" stroke-linejoin="round" stroke-linecap="round" />
<path d="M417.7,846.7 L465.6,852.7" stroke="#000" stroke-width="1.26" fill="none" stroke-linejoin="round" stroke-linecap="round" />
<path d="M422.2,849.7 L469.8,855.7" stroke="#000" stroke-width="1.26" fill="none" stroke-linejoin="round" stroke-linecap="round" />
<path d="M423.2,852.7 L467.9,858.7" stroke="#000" stroke-width="1.26" fill="none" stroke-linejoin="round" stroke-linecap="round" />
<path d="M455.2,856.2 L472.5,858.7" stroke="#000" stroke-width="3.45" fill="none" stroke-linejoin="round" stroke-linecap="round" />
<path d="M433.6,853.7 L445.6,855.7" stroke="#000" stroke-width="2.76" fill="none" stroke-linejoin="round" stroke-linecap="round" />
<path d="M426.4,855.8 L469.6,861.8" stroke="#000" stroke-width="1.26" fill="none" stroke-linejoin="round" stroke-linecap="round" />
<path d="M423.3,858.8 L475.1,864.8" stroke="#000" stroke-width="1.26" fill="none" stroke-linejoin="round" stroke-linecap="round" />
<path d="M429.6,861.8 L474.6,867.8" stroke="#000" stroke-width="1.26" fill="none" stroke-linejoin="round" stroke-linecap="round" />
<path d="M454.3,865.3 L476.4,867.8" stroke="#000" stroke-width="3.45" fill="none" stroke-linejoin="round" stroke-linecap="round" />
<path d="M430.0,864.9 L472.8,870.9" stroke="#000" stroke-width="1.26" fill="none" stroke-linejoin="round" stroke-linecap="round" />
<path d="M436.9,865.9 L448.9,867.9" stroke="#000" stroke-width="2.76" fill="none" stroke-linejoin="round" stroke-linecap="round" />
<path d="M427.9,867.9 L478.4,873.9" stroke="#000" stroke-width="1.26" fill="none" stroke-linejoin="round" stroke-linecap="round" />
<path d="M428.4,870.9 L475.8,876.9" stroke="#000" stroke-width="1.26" fill="none" stroke-linejoin="round" stroke-linecap="round" />
<path d="M460.4,874.4 L480.4,876.9" stroke="#000" stroke-width="3.45" fill="none" stroke-linejoin="round" stroke-linecap="round" />
<path d="M424.7,874.0 L481.5,880.0" stroke="#000" stroke-width="1.26" fill="none" stroke-linejoin="round" stroke-linecap="round" />
<path d="M434.4,877.0 L482.2,883.0" stroke="#000" stroke-width="1.26" fill="none" stroke-linejoin="round" stroke-linecap="round" />
<path d="M442.1,878.0 L454.1,880.0" stroke="#000" stroke-width="2.76" fill="none" stroke-linejoin="round" stroke-linecap="round" />
<path d="M398.0,878.0 L420.0,868.0 L440.0,878.0" stroke="#000" stroke-width="1.15" fill="none" stroke-linejoin="round" stroke-linecap="round" />
<rect x="452" y="888" width="14" height="8" stroke="#000" stroke-width="1.2" fill="none"/>
<path d="M480,878 Q485,880 488,888 Q488,896 482,898 Q478,892 480,878" stroke="#000" stroke-width="1.72" fill="none" stroke-linejoin="round" stroke-linecap="round" />
<path d="M420.0,875.0 L440.0,893.0 L520.0,898.0" stroke="#000" stroke-width="1.03" fill="none" stroke-linejoin="round" stroke-linecap="round" />
<ellipse cx="419.3" cy="748.8" rx="17" ry="5.3" stroke="#000" stroke-width="1.84" fill="none" transform="rotate(0 419.3 748.8)"/>
<path d="M381.4,750.9 L394.8,753.4" stroke="#000" stroke-width="1.15" fill="none" stroke-linejoin="round" stroke-linecap="round" />
<ellipse cx="426" cy="774" rx="2.2" ry="3" stroke="#000" stroke-width="1.61" fill="none" transform="rotate(0 426 774)"/>
<path d="M343.0,802.0 L355.0,797.0 L373.0,802.0 L377.0,818.0 L348.0,822.0" stroke="#000" stroke-width="1.61" fill="none" stroke-linejoin="round" stroke-linecap="round" />
<path d="M344.0,815.0 L350.0,836.0" stroke="#000" stroke-width="1.03" fill="none" stroke-linejoin="round" stroke-linecap="round" />
<ellipse cx="570" cy="819.5" rx="3.2" ry="4.5" stroke="#000" stroke-width="1.84" fill="none" transform="rotate(15 570 819.5)"/>
<path d="M521.0,774.0 L536.0,803.0" stroke="#000" stroke-width="1.15" fill="none" stroke-linejoin="round" stroke-linecap="round" />
<path d="M522.0,797.0 L568.0,806.0" stroke="#000" stroke-width="1.15" fill="none" stroke-linejoin="round" stroke-linecap="round" />
<path d="M534.0,808.0 L532.0,816.0" stroke="#000" stroke-width="1.15" fill="none" stroke-linejoin="round" stroke-linecap="round" />
<path d="M512.0,747.0 L531.0,741.0" stroke="#000" stroke-width="1.03" fill="none" stroke-linejoin="round" stroke-linecap="round" />
<path d="M470.0,753.0 L485.0,745.0 L497.0,741.0" stroke="#000" stroke-width="1.03" fill="none" stroke-linejoin="round" stroke-linecap="round" />
<path d="M597.0,738.0 L590.0,750.0 L576.0,772.6 L564.6,799.4 L558.8,820.4" stroke="#000" stroke-width="1.15" fill="none" stroke-linejoin="round" stroke-linecap="round" />
<path d="M610.0,760.0 L585.6,799.4 L572.2,833.8 L566.5,879.7" stroke="#000" stroke-width="1.38" fill="none" stroke-linejoin="round" stroke-linecap="round" />
<path d="M614.0,760.0 L602.0,780.0 L592.0,800.0 L583.0,823.0 L577.0,845.0 L573.0,870.0" stroke="#000" stroke-width="5.75" fill="none" stroke-dasharray="4,2" stroke-linecap="butt"/>
<path d="M621.0,760.0 L606.0,790.0 L594.0,815.0 L585.0,840.0 L579.0,865.0 L576.0,880.0" stroke="#000" stroke-width="1.38" fill="none" stroke-linejoin="round" stroke-linecap="round" />
<path d="M549.3,881.6 L564.6,874.0 L576.0,895.0" stroke="#000" stroke-width="1.15" fill="none" stroke-linejoin="round" stroke-linecap="round" />
<path d="M549.3,881.6 L574.0,893.0" stroke="#000" stroke-width="1.15" fill="none" stroke-linejoin="round" stroke-linecap="round" />
<ellipse cx="630" cy="745" rx="2" ry="2" stroke="#000" stroke-width="1.61" fill="#000" transform="rotate(0 630 745)"/>
<path d="M490.0,837.6 L505.3,858.7 L524.4,906.5" stroke="#000" stroke-width="1.15" fill="none" stroke-linejoin="round" stroke-linecap="round" />
<path d="M600.0,778.0 L606.0,770.0 L612.0,764.0" stroke="#000" stroke-width="1.15" fill="none" stroke-linejoin="round" stroke-linecap="round" />
</svg></body></html>
